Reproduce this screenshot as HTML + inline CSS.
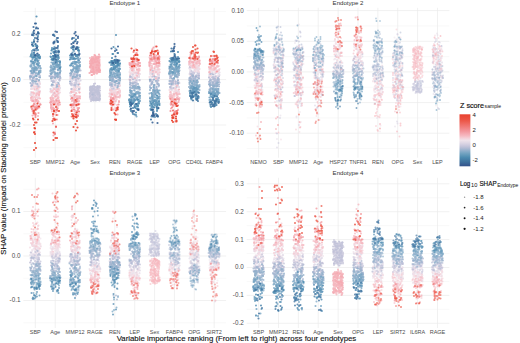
<!DOCTYPE html>
<html><head><meta charset="utf-8"><style>
html,body{margin:0;padding:0;background:#fff;width:520px;height:343px;overflow:hidden;}
svg{display:block;font-family:"Liberation Sans",sans-serif;}
</style></head><body>
<svg width="520" height="343" viewBox="0 0 520 343" font-family="Liberation Sans, sans-serif">
<defs><filter id="bl" x="-5%" y="-5%" width="110%" height="110%"><feGaussianBlur stdDeviation="0.3"/></filter></defs>
<rect width="520" height="343" fill="#fff"/>
<line x1="23.4" x2="226.1" y1="147.70" y2="147.70" stroke="#f3f3f3" stroke-width="0.5"/><line x1="23.4" x2="226.1" y1="102.30" y2="102.30" stroke="#f3f3f3" stroke-width="0.5"/><line x1="23.4" x2="226.1" y1="56.90" y2="56.90" stroke="#f3f3f3" stroke-width="0.5"/><line x1="23.4" x2="226.1" y1="11.50" y2="11.50" stroke="#f3f3f3" stroke-width="0.5"/><line x1="23.4" x2="226.1" y1="125.00" y2="125.00" stroke="#ebebeb" stroke-width="0.7"/><line x1="23.4" x2="226.1" y1="79.60" y2="79.60" stroke="#ebebeb" stroke-width="0.7"/><line x1="23.4" x2="226.1" y1="34.20" y2="34.20" stroke="#ebebeb" stroke-width="0.7"/><line x1="35.32" x2="35.32" y1="7.8" y2="157.7" stroke="#ebebeb" stroke-width="0.7"/><line x1="55.20" x2="55.20" y1="7.8" y2="157.7" stroke="#ebebeb" stroke-width="0.7"/><line x1="75.07" x2="75.07" y1="7.8" y2="157.7" stroke="#ebebeb" stroke-width="0.7"/><line x1="94.94" x2="94.94" y1="7.8" y2="157.7" stroke="#ebebeb" stroke-width="0.7"/><line x1="114.81" x2="114.81" y1="7.8" y2="157.7" stroke="#ebebeb" stroke-width="0.7"/><line x1="134.69" x2="134.69" y1="7.8" y2="157.7" stroke="#ebebeb" stroke-width="0.7"/><line x1="154.56" x2="154.56" y1="7.8" y2="157.7" stroke="#ebebeb" stroke-width="0.7"/><line x1="174.43" x2="174.43" y1="7.8" y2="157.7" stroke="#ebebeb" stroke-width="0.7"/><line x1="194.30" x2="194.30" y1="7.8" y2="157.7" stroke="#ebebeb" stroke-width="0.7"/><line x1="214.18" x2="214.18" y1="7.8" y2="157.7" stroke="#ebebeb" stroke-width="0.7"/><line x1="246.7" x2="449.4" y1="148.53" y2="148.53" stroke="#f3f3f3" stroke-width="0.5"/><line x1="246.7" x2="449.4" y1="117.88" y2="117.88" stroke="#f3f3f3" stroke-width="0.5"/><line x1="246.7" x2="449.4" y1="87.23" y2="87.23" stroke="#f3f3f3" stroke-width="0.5"/><line x1="246.7" x2="449.4" y1="56.58" y2="56.58" stroke="#f3f3f3" stroke-width="0.5"/><line x1="246.7" x2="449.4" y1="25.93" y2="25.93" stroke="#f3f3f3" stroke-width="0.5"/><line x1="246.7" x2="449.4" y1="133.20" y2="133.20" stroke="#ebebeb" stroke-width="0.7"/><line x1="246.7" x2="449.4" y1="102.55" y2="102.55" stroke="#ebebeb" stroke-width="0.7"/><line x1="246.7" x2="449.4" y1="71.90" y2="71.90" stroke="#ebebeb" stroke-width="0.7"/><line x1="246.7" x2="449.4" y1="41.25" y2="41.25" stroke="#ebebeb" stroke-width="0.7"/><line x1="246.7" x2="449.4" y1="10.60" y2="10.60" stroke="#ebebeb" stroke-width="0.7"/><line x1="258.62" x2="258.62" y1="7.8" y2="157.7" stroke="#ebebeb" stroke-width="0.7"/><line x1="278.50" x2="278.50" y1="7.8" y2="157.7" stroke="#ebebeb" stroke-width="0.7"/><line x1="298.37" x2="298.37" y1="7.8" y2="157.7" stroke="#ebebeb" stroke-width="0.7"/><line x1="318.24" x2="318.24" y1="7.8" y2="157.7" stroke="#ebebeb" stroke-width="0.7"/><line x1="338.11" x2="338.11" y1="7.8" y2="157.7" stroke="#ebebeb" stroke-width="0.7"/><line x1="357.99" x2="357.99" y1="7.8" y2="157.7" stroke="#ebebeb" stroke-width="0.7"/><line x1="377.86" x2="377.86" y1="7.8" y2="157.7" stroke="#ebebeb" stroke-width="0.7"/><line x1="397.73" x2="397.73" y1="7.8" y2="157.7" stroke="#ebebeb" stroke-width="0.7"/><line x1="417.60" x2="417.60" y1="7.8" y2="157.7" stroke="#ebebeb" stroke-width="0.7"/><line x1="437.48" x2="437.48" y1="7.8" y2="157.7" stroke="#ebebeb" stroke-width="0.7"/><line x1="23.4" x2="226.1" y1="322.75" y2="322.75" stroke="#f3f3f3" stroke-width="0.5"/><line x1="23.4" x2="226.1" y1="278.25" y2="278.25" stroke="#f3f3f3" stroke-width="0.5"/><line x1="23.4" x2="226.1" y1="233.75" y2="233.75" stroke="#f3f3f3" stroke-width="0.5"/><line x1="23.4" x2="226.1" y1="189.25" y2="189.25" stroke="#f3f3f3" stroke-width="0.5"/><line x1="23.4" x2="226.1" y1="300.50" y2="300.50" stroke="#ebebeb" stroke-width="0.7"/><line x1="23.4" x2="226.1" y1="256.00" y2="256.00" stroke="#ebebeb" stroke-width="0.7"/><line x1="23.4" x2="226.1" y1="211.50" y2="211.50" stroke="#ebebeb" stroke-width="0.7"/><line x1="35.32" x2="35.32" y1="177.8" y2="328.0" stroke="#ebebeb" stroke-width="0.7"/><line x1="55.20" x2="55.20" y1="177.8" y2="328.0" stroke="#ebebeb" stroke-width="0.7"/><line x1="75.07" x2="75.07" y1="177.8" y2="328.0" stroke="#ebebeb" stroke-width="0.7"/><line x1="94.94" x2="94.94" y1="177.8" y2="328.0" stroke="#ebebeb" stroke-width="0.7"/><line x1="114.81" x2="114.81" y1="177.8" y2="328.0" stroke="#ebebeb" stroke-width="0.7"/><line x1="134.69" x2="134.69" y1="177.8" y2="328.0" stroke="#ebebeb" stroke-width="0.7"/><line x1="154.56" x2="154.56" y1="177.8" y2="328.0" stroke="#ebebeb" stroke-width="0.7"/><line x1="174.43" x2="174.43" y1="177.8" y2="328.0" stroke="#ebebeb" stroke-width="0.7"/><line x1="194.30" x2="194.30" y1="177.8" y2="328.0" stroke="#ebebeb" stroke-width="0.7"/><line x1="214.18" x2="214.18" y1="177.8" y2="328.0" stroke="#ebebeb" stroke-width="0.7"/><line x1="246.7" x2="449.4" y1="309.35" y2="309.35" stroke="#f3f3f3" stroke-width="0.5"/><line x1="246.7" x2="449.4" y1="281.45" y2="281.45" stroke="#f3f3f3" stroke-width="0.5"/><line x1="246.7" x2="449.4" y1="253.55" y2="253.55" stroke="#f3f3f3" stroke-width="0.5"/><line x1="246.7" x2="449.4" y1="225.65" y2="225.65" stroke="#f3f3f3" stroke-width="0.5"/><line x1="246.7" x2="449.4" y1="197.75" y2="197.75" stroke="#f3f3f3" stroke-width="0.5"/><line x1="246.7" x2="449.4" y1="323.30" y2="323.30" stroke="#ebebeb" stroke-width="0.7"/><line x1="246.7" x2="449.4" y1="295.40" y2="295.40" stroke="#ebebeb" stroke-width="0.7"/><line x1="246.7" x2="449.4" y1="267.50" y2="267.50" stroke="#ebebeb" stroke-width="0.7"/><line x1="246.7" x2="449.4" y1="239.60" y2="239.60" stroke="#ebebeb" stroke-width="0.7"/><line x1="246.7" x2="449.4" y1="211.70" y2="211.70" stroke="#ebebeb" stroke-width="0.7"/><line x1="246.7" x2="449.4" y1="183.80" y2="183.80" stroke="#ebebeb" stroke-width="0.7"/><line x1="258.62" x2="258.62" y1="177.8" y2="328.0" stroke="#ebebeb" stroke-width="0.7"/><line x1="278.50" x2="278.50" y1="177.8" y2="328.0" stroke="#ebebeb" stroke-width="0.7"/><line x1="298.37" x2="298.37" y1="177.8" y2="328.0" stroke="#ebebeb" stroke-width="0.7"/><line x1="318.24" x2="318.24" y1="177.8" y2="328.0" stroke="#ebebeb" stroke-width="0.7"/><line x1="338.11" x2="338.11" y1="177.8" y2="328.0" stroke="#ebebeb" stroke-width="0.7"/><line x1="357.99" x2="357.99" y1="177.8" y2="328.0" stroke="#ebebeb" stroke-width="0.7"/><line x1="377.86" x2="377.86" y1="177.8" y2="328.0" stroke="#ebebeb" stroke-width="0.7"/><line x1="397.73" x2="397.73" y1="177.8" y2="328.0" stroke="#ebebeb" stroke-width="0.7"/><line x1="417.60" x2="417.60" y1="177.8" y2="328.0" stroke="#ebebeb" stroke-width="0.7"/><line x1="437.48" x2="437.48" y1="177.8" y2="328.0" stroke="#ebebeb" stroke-width="0.7"/>
<g filter="url(#bl)"><g fill="none" stroke-linecap="round" transform="scale(0.5)">
<path d="M801 117h0M796 159h0M867 188h0M875 125h0M761 152h0M749 157h0M800 201h0M762 166h0M760 190h0M873 148h0M791 95h0M884 143h0M793 82h0M799 78h0M804 103h0M876 111h0M870 168h0M805 108h0" stroke="#ded7e5" stroke-width="3.8" stroke-opacity="0.55"/>
<path d="M590 106h0M606 157h0M597 120h0M642 148h0M553 101h0M587 108h0M592 184h0M593 138h0M556 235h0M627 168h0M561 212h0M632 197h0" stroke="#ded7e5" stroke-width="3.8" stroke-opacity="0.6"/>
<path d="M191 533h0M272 527h0M63 512h0M192 543h0M115 505h0M277 540h0M113 500h0M190 558h0M117 514h0M224 490h0M262 524h0M269 525h0M232 491h0M225 513h0M119 504h0M224 537h0M230 518h0M110 532h0M143 511h0M148 516h0M140 510h0M75 514h0M274 550h0M185 522h0M156 515h0M193 526h0M192 538h0M185 529h0M111 512h0M116 514h0M230 524h0M143 502h0M267 536h0M183 526h0M232 498h0" stroke="#ded7e5" stroke-width="4.1" stroke-opacity="0.7"/>
<path d="M804 538h0M885 535h0M872 549h0M877 540h0M837 545h0M883 532h0M766 528h0M826 548h0M836 539h0M876 542h0M746 537h0M841 534h0M788 564h0M845 523h0M878 545h0M883 533h0M837 530h0M831 542h0" stroke="#ded7e5" stroke-width="4.2" stroke-opacity="0.65"/>
<path d="M392 506h0M391 511h0M398 516h0" stroke="#ded7e5" stroke-width="4.1" stroke-opacity="0.5"/>
<path d="M279 161h0M104 169h0M382 151h0M383 144h0M278 149h0M150 170h0M419 164h0M147 147h0M419 149h0M226 169h0M396 145h0M120 176h0M349 166h0M111 160h0M275 154h0M380 144h0M152 160h0M313 156h0M273 165h0M342 177h0M358 174h0M275 146h0M345 161h0M396 140h0M356 171h0M350 177h0M395 144h0M110 187h0M144 169h0M235 160h0M142 163h0M312 141h0M152 181h0" stroke="#ded7e5" stroke-width="4.4" stroke-opacity="0.9"/>
<path d="M723 144h0M673 142h0M720 117h0M678 134h0M680 112h0M711 130h0M722 138h0M681 131h0" stroke="#ded7e5" stroke-width="3.8" stroke-opacity="0.65"/>
<path d="M630 519h0M632 516h0M642 517h0M637 514h0M639 522h0M552 517h0M552 489h0M517 541h0M559 533h0M514 517h0M719 513h0M637 500h0M716 515h0M597 523h0M589 522h0M508 533h0M596 508h0M508 498h0M645 550h0M629 525h0M628 530h0M721 539h0M515 522h0M718 535h0M723 527h0M595 531h0M564 523h0M598 516h0M724 526h0M589 531h0M519 528h0M550 544h0M511 527h0M552 521h0M642 531h0M596 531h0M567 521h0M593 519h0" stroke="#ded7e5" stroke-width="4.2" stroke-opacity="0.78"/>
<path d="M518 146h0M516 156h0M516 149h0M511 191h0" stroke="#ded7e5" stroke-width="3.8" stroke-opacity="0.7"/>
<path d="M426 512h0M433 515h0M357 513h0M359 517h0" stroke="#ded7e5" stroke-width="4.1" stroke-opacity="0.55"/>
<path d="M595 169h0M550 115h0M646 143h0M548 103h0M566 95h0M645 142h0M626 117h0M647 144h0M562 137h0M558 128h0M591 174h0M627 185h0M557 171h0M593 118h0M588 163h0M595 173h0" stroke="#ded7e5" stroke-width="3.8" stroke-opacity="0.6"/>
<path d="M379 137h0M421 159h0M154 158h0M156 173h0M266 138h0M433 159h0M231 165h0M439 150h0M380 146h0M143 163h0M67 148h0M432 146h0M432 158h0M341 178h0M428 153h0M343 192h0M71 145h0M108 156h0M144 163h0M73 180h0M314 154h0M312 154h0M265 148h0M76 174h0M151 164h0M305 153h0M348 168h0M230 179h0M227 180h0M304 165h0M428 153h0M389 145h0M420 143h0M274 174h0M343 180h0M279 148h0" stroke="#ded7e5" stroke-width="4.4" stroke-opacity="0.9"/>
<path d="M755 562h0M792 538h0M835 543h0M762 551h0M789 534h0M790 542h0M827 547h0M787 530h0M882 540h0M870 532h0M762 556h0M873 522h0M806 548h0M805 535h0M749 533h0M802 538h0M747 539h0M833 537h0M759 541h0M765 550h0" stroke="#ded7e5" stroke-width="4.2" stroke-opacity="0.65"/>
<path d="M427 538h0M343 537h0M341 521h0M345 538h0M350 551h0M421 535h0M418 513h0M434 522h0M356 524h0M425 501h0M430 603h0M428 538h0" stroke="#ded7e5" stroke-width="4.1" stroke-opacity="0.55"/>
<path d="M64 490h0M65 513h0M119 512h0M154 521h0M150 513h0M188 536h0M190 545h0M158 487h0M277 552h0M149 529h0M231 517h0M231 501h0M76 503h0M71 497h0M142 529h0M155 518h0M237 516h0M105 497h0M120 518h0M67 492h0M237 505h0M104 526h0M188 532h0M184 531h0M271 522h0" stroke="#ded7e5" stroke-width="4.1" stroke-opacity="0.7"/>
<path d="M519 531h0M595 509h0M715 535h0M549 517h0M516 507h0M555 509h0M717 510h0M551 532h0M644 525h0M721 516h0M512 511h0M600 532h0M639 513h0M507 519h0M632 518h0M627 534h0M605 514h0M510 528h0M642 511h0M630 529h0M714 526h0" stroke="#ded7e5" stroke-width="4.2" stroke-opacity="0.78"/>
<path d="M681 136h0M716 126h0M674 148h0M680 125h0M717 154h0M717 93h0M671 139h0M670 118h0M673 109h0M725 152h0" stroke="#ded7e5" stroke-width="3.8" stroke-opacity="0.65"/>
<path d="M515 167h0M515 142h0M513 147h0M517 160h0" stroke="#ded7e5" stroke-width="3.8" stroke-opacity="0.7"/>
<path d="M873 103h0M761 136h0M873 125h0M750 132h0M803 95h0M866 113h0M762 177h0M793 188h0M805 115h0M792 120h0M794 113h0M866 92h0M762 187h0M869 145h0" stroke="#ded7e5" stroke-width="3.8" stroke-opacity="0.55"/>
<path d="M392 535h0M387 531h0M395 528h0M383 539h0M396 514h0M394 538h0M396 508h0M381 486h0" stroke="#ded7e5" stroke-width="4.1" stroke-opacity="0.5"/>
<path d="M793 552h0M796 538h0M879 549h0M762 539h0M845 525h0M799 533h0M803 546h0M746 538h0M762 532h0M832 522h0M839 554h0M874 553h0M880 526h0M845 543h0M759 554h0M798 525h0M838 526h0M796 543h0M746 552h0M754 535h0M800 538h0M747 545h0M796 548h0M827 531h0M871 543h0M806 541h0" stroke="#ded7e5" stroke-width="4.2" stroke-opacity="0.65"/>
<path d="M630 116h0M597 104h0M630 144h0M555 195h0M559 108h0M549 100h0M548 106h0M555 124h0M555 107h0M551 162h0M593 233h0M636 148h0M548 132h0M563 127h0M605 93h0M638 199h0M633 139h0" stroke="#ded7e5" stroke-width="3.8" stroke-opacity="0.6"/>
<path d="M148 160h0M343 171h0M347 160h0M428 157h0M233 167h0M237 179h0M387 153h0M268 164h0M62 190h0M433 156h0M239 172h0M264 171h0M143 156h0M351 162h0M69 153h0M423 153h0M142 151h0M74 172h0M425 167h0M112 175h0M79 173h0M389 141h0M278 154h0M420 151h0M398 139h0M225 181h0M146 194h0M419 152h0M80 168h0M62 186h0M381 140h0M156 162h0M435 141h0" stroke="#ded7e5" stroke-width="4.4" stroke-opacity="0.9"/>
<path d="M884 163h0M800 161h0M791 128h0M801 95h0M800 98h0M880 85h0M872 132h0M761 190h0M750 179h0M868 133h0M796 181h0M765 184h0M871 129h0M874 156h0M798 87h0M879 140h0M805 162h0M763 140h0M790 195h0" stroke="#ded7e5" stroke-width="3.8" stroke-opacity="0.55"/>
<path d="M118 518h0M181 548h0M266 546h0M262 532h0M70 510h0M119 524h0M155 507h0M192 522h0M68 519h0M276 531h0M157 527h0M120 508h0M271 528h0M280 541h0M115 522h0M183 541h0M119 525h0M263 533h0M220 507h0M116 508h0M107 508h0" stroke="#ded7e5" stroke-width="4.1" stroke-opacity="0.7"/>
<path d="M725 113h0M715 123h0M721 130h0M677 129h0M680 147h0M716 106h0M675 128h0M680 110h0" stroke="#ded7e5" stroke-width="3.8" stroke-opacity="0.65"/>
<path d="M524 134h0M509 161h0M513 172h0" stroke="#ded7e5" stroke-width="3.8" stroke-opacity="0.7"/>
<path d="M566 510h0M519 504h0M606 509h0M637 535h0M722 508h0M549 534h0M724 534h0M597 511h0M591 529h0M714 525h0M644 516h0M558 513h0M514 525h0M719 531h0M520 517h0M521 500h0M599 496h0M589 541h0M709 519h0M564 521h0M509 514h0" stroke="#ded7e5" stroke-width="4.2" stroke-opacity="0.78"/>
<path d="M393 512h0M383 534h0M383 517h0M393 521h0M383 493h0M392 510h0M383 525h0" stroke="#ded7e5" stroke-width="4.1" stroke-opacity="0.5"/>
<path d="M425 510h0M340 514h0M341 543h0M355 541h0M431 499h0M422 533h0M350 551h0M351 542h0" stroke="#ded7e5" stroke-width="4.1" stroke-opacity="0.55"/>
<path d="M198 522h0M157 503h0M193 521h0M158 505h0M262 538h0M227 477h0M183 541h0M76 511h0M106 497h0M191 532h0M147 468h0M78 506h0M193 519h0M265 540h0M111 491h0M154 521h0M200 539h0M103 498h0M153 513h0M148 494h0M266 556h0M233 511h0M73 507h0M102 507h0M154 511h0M110 529h0M72 501h0M232 485h0M119 515h0M277 527h0M222 503h0M262 560h0M150 501h0M185 539h0M221 505h0M153 491h0M107 497h0M68 497h0M145 412h0M277 534h0M158 510h0" stroke="#e6dde8" stroke-width="4.1" stroke-opacity="0.7"/>
<path d="M566 526h0M633 534h0M519 530h0M605 507h0M596 519h0M644 507h0M641 513h0M634 519h0M710 508h0M595 534h0M634 514h0M708 507h0M630 512h0M708 517h0M627 513h0M523 530h0M525 507h0M547 523h0M643 508h0M630 523h0M720 492h0M628 540h0M635 506h0M513 546h0M606 519h0M525 502h0M559 507h0M597 528h0M514 523h0M519 501h0M592 501h0M592 481h0M717 508h0M525 503h0M725 491h0M549 524h0" stroke="#e6dde8" stroke-width="4.2" stroke-opacity="0.78"/>
<path d="M339 528h0M431 503h0M352 544h0M358 534h0M423 541h0M339 540h0M340 507h0M339 535h0M428 514h0M353 538h0M424 509h0" stroke="#e6dde8" stroke-width="4.1" stroke-opacity="0.55"/>
<path d="M382 514h0M381 525h0M392 535h0M395 526h0M380 514h0M393 526h0M394 501h0M397 525h0M395 545h0" stroke="#e6dde8" stroke-width="4.1" stroke-opacity="0.5"/>
<path d="M117 182h0M314 144h0M141 159h0M317 148h0M439 145h0M268 171h0M434 154h0M259 159h0M358 185h0M396 136h0M230 174h0M433 154h0M230 187h0M222 174h0M268 155h0M396 145h0M359 166h0M277 153h0M274 158h0M342 173h0M312 170h0M225 172h0M380 147h0M76 180h0M379 148h0M431 145h0M317 153h0M419 166h0M226 186h0M227 175h0M65 160h0M382 153h0M110 171h0M265 152h0M340 191h0M115 158h0M421 147h0M351 177h0" stroke="#e6dde8" stroke-width="4.4" stroke-opacity="0.9"/>
<path d="M875 179h0M866 174h0M758 184h0M866 109h0M761 150h0M746 162h0M880 141h0M757 144h0M758 118h0M758 204h0M803 93h0M756 168h0M874 67h0M748 117h0M754 236h0M793 187h0M875 70h0M756 163h0M876 124h0M752 153h0" stroke="#e6dde8" stroke-width="3.8" stroke-opacity="0.55"/>
<path d="M550 193h0M642 159h0M591 187h0M643 118h0M590 86h0M601 137h0M561 231h0M567 111h0M592 188h0M599 204h0M557 179h0M552 139h0M599 140h0" stroke="#e6dde8" stroke-width="3.8" stroke-opacity="0.6"/>
<path d="M756 543h0M760 544h0M754 532h0M785 533h0M838 543h0M834 550h0M749 549h0M839 543h0M785 522h0M764 537h0M798 541h0M762 541h0M883 552h0M752 542h0M802 558h0M829 539h0M878 545h0" stroke="#e6dde8" stroke-width="4.2" stroke-opacity="0.65"/>
<path d="M525 180h0M509 150h0M517 172h0M520 132h0M511 154h0M510 138h0M518 139h0M516 152h0M523 145h0" stroke="#e6dde8" stroke-width="3.8" stroke-opacity="0.7"/>
<path d="M681 124h0M673 153h0M674 151h0M678 98h0M681 129h0M720 112h0M682 122h0M712 131h0M719 103h0M709 112h0M722 124h0M669 127h0" stroke="#e6dde8" stroke-width="3.8" stroke-opacity="0.65"/>
<path d="M67 511h0M65 501h0M70 523h0M68 492h0M102 491h0M259 526h0M237 503h0M105 506h0M107 512h0M181 547h0M269 534h0M112 502h0M179 538h0M71 522h0M201 538h0M63 487h0M61 505h0M74 505h0M110 513h0M220 495h0M71 505h0M112 514h0M262 549h0M63 508h0M219 522h0M144 431h0M277 537h0M148 491h0M225 517h0M266 534h0M101 504h0M104 511h0M80 505h0M159 528h0M228 508h0M114 504h0M222 508h0M180 524h0M266 522h0M105 494h0M65 508h0" stroke="#e6dde8" stroke-width="4.1" stroke-opacity="0.7"/>
<path d="M429 148h0M62 178h0M395 139h0M63 174h0M345 177h0M344 164h0M420 145h0M141 157h0M304 144h0M382 133h0M74 177h0M393 144h0M265 157h0M266 153h0M149 157h0M148 185h0M78 183h0M345 197h0M68 176h0M311 158h0M315 157h0M266 143h0M271 162h0M265 141h0M73 188h0M73 163h0M158 164h0M346 171h0M153 166h0M273 160h0M105 173h0M428 155h0M269 159h0M112 161h0M155 173h0M430 154h0M157 181h0M433 142h0M107 176h0" stroke="#e6dde8" stroke-width="4.4" stroke-opacity="0.9"/>
<path d="M557 528h0M526 494h0M596 511h0M640 507h0M558 515h0M556 528h0M720 526h0M717 530h0M562 515h0M592 497h0M721 507h0M521 503h0M592 536h0M560 525h0M722 515h0M715 503h0M599 514h0M552 499h0M567 517h0M629 517h0M627 520h0M512 524h0M559 535h0M589 524h0M590 525h0M590 507h0M722 517h0M708 507h0M723 509h0M712 501h0M594 524h0M549 510h0M639 522h0M563 514h0" stroke="#e6dde8" stroke-width="4.2" stroke-opacity="0.78"/>
<path d="M601 114h0M641 176h0M599 150h0M647 126h0M559 103h0M644 144h0M632 178h0M558 106h0M560 144h0M554 158h0M559 146h0M605 128h0M604 157h0M637 182h0M647 149h0" stroke="#e6dde8" stroke-width="3.8" stroke-opacity="0.6"/>
<path d="M877 528h0M841 554h0M825 530h0M866 547h0M885 535h0M878 518h0M843 534h0M840 532h0M883 535h0M792 546h0M786 545h0M828 537h0M791 550h0M797 544h0M827 538h0M881 533h0M875 551h0M844 537h0M875 535h0M837 548h0M805 535h0M803 553h0M750 542h0M789 535h0M829 547h0M750 552h0M798 540h0M843 548h0" stroke="#e6dde8" stroke-width="4.2" stroke-opacity="0.65"/>
<path d="M802 145h0M790 253h0M876 152h0M875 135h0M797 96h0M763 123h0M751 184h0M870 142h0M792 119h0M883 131h0M762 193h0M797 162h0M864 144h0M883 99h0M869 161h0M786 175h0" stroke="#e6dde8" stroke-width="3.8" stroke-opacity="0.55"/>
<path d="M725 142h0M672 145h0M683 159h0M710 141h0M675 138h0M725 124h0M713 115h0M716 124h0M683 140h0M685 126h0M683 140h0M724 125h0M673 152h0M709 95h0M717 125h0" stroke="#e6dde8" stroke-width="3.8" stroke-opacity="0.65"/>
<path d="M347 523h0M438 535h0M420 525h0M358 517h0M428 538h0M425 540h0M424 520h0M350 548h0M343 520h0M354 528h0" stroke="#e6dde8" stroke-width="4.1" stroke-opacity="0.55"/>
<path d="M392 502h0M387 519h0M384 496h0M384 508h0" stroke="#e6dde8" stroke-width="4.1" stroke-opacity="0.5"/>
<path d="M511 162h0M512 152h0M526 159h0M512 167h0M513 137h0M521 152h0M517 152h0" stroke="#e6dde8" stroke-width="3.8" stroke-opacity="0.7"/>
<path d="M789 537h0M845 563h0M791 534h0M879 532h0M804 548h0M843 560h0M759 549h0M828 539h0M880 539h0M761 552h0M844 547h0M882 539h0M829 563h0M799 548h0M788 550h0M753 553h0M829 542h0M790 543h0M877 539h0M804 548h0" stroke="#e6dde8" stroke-width="4.2" stroke-opacity="0.65"/>
<path d="M522 510h0M558 505h0M526 496h0M511 521h0M717 517h0M600 512h0M564 531h0M591 495h0M633 524h0M548 519h0M565 511h0M590 489h0M589 512h0M526 499h0M639 505h0M548 532h0M509 515h0M555 503h0M707 498h0M587 522h0M592 515h0M719 516h0M508 522h0M558 498h0M642 510h0M633 510h0M564 526h0M604 520h0M642 505h0M601 520h0M555 519h0M591 523h0M558 511h0M596 491h0" stroke="#e6dde8" stroke-width="4.2" stroke-opacity="0.78"/>
<path d="M566 110h0M553 103h0M639 144h0M557 178h0M646 128h0M600 207h0M601 160h0M598 49h0M628 123h0M554 278h0M568 102h0M556 124h0M632 184h0M549 93h0M549 137h0M556 141h0M559 88h0" stroke="#e6dde8" stroke-width="3.8" stroke-opacity="0.6"/>
<path d="M352 182h0M437 147h0M390 139h0M315 153h0M430 154h0M115 180h0M396 133h0M75 183h0M146 160h0M74 162h0M348 166h0M237 172h0M300 162h0M392 143h0M381 137h0M299 159h0M356 182h0M272 150h0M350 169h0M146 167h0M157 170h0M225 172h0M435 152h0M156 181h0M108 162h0M432 152h0M435 157h0M392 141h0M110 206h0M342 177h0M315 138h0M300 148h0M303 170h0M63 184h0M270 146h0M103 179h0M160 156h0M316 159h0M143 171h0M142 186h0M425 144h0M221 185h0M142 155h0M387 127h0M350 164h0M66 169h0M145 161h0M384 149h0M317 153h0M140 186h0" stroke="#e6dde8" stroke-width="4.4" stroke-opacity="0.9"/>
<path d="M382 502h0M394 512h0M394 518h0M384 539h0M385 513h0M381 527h0M379 537h0M383 527h0M385 549h0M390 519h0M397 514h0" stroke="#e6dde8" stroke-width="4.1" stroke-opacity="0.5"/>
<path d="M762 194h0M865 157h0M796 194h0M764 146h0M754 113h0M878 168h0M801 174h0M788 134h0M869 112h0M763 170h0M758 207h0M872 145h0M799 194h0M751 171h0M756 140h0M882 118h0M882 151h0" stroke="#e6dde8" stroke-width="3.8" stroke-opacity="0.55"/>
<path d="M265 548h0M60 510h0M108 525h0M76 496h0M159 520h0M69 496h0M222 519h0M275 550h0M189 525h0M223 536h0M77 503h0M157 505h0M119 506h0M232 501h0M221 532h0M268 537h0M107 511h0M116 502h0M64 517h0M221 523h0M278 540h0M72 506h0M259 541h0M223 499h0M182 531h0M263 542h0M234 491h0M72 493h0M70 503h0M68 491h0M279 546h0M72 499h0M263 546h0M70 510h0" stroke="#e6dde8" stroke-width="4.1" stroke-opacity="0.7"/>
<path d="M353 533h0M435 532h0M343 548h0M433 521h0M421 524h0M346 535h0M430 508h0M423 534h0M348 522h0M356 527h0M435 511h0M431 532h0" stroke="#e6dde8" stroke-width="4.1" stroke-opacity="0.55"/>
<path d="M672 151h0M674 119h0M679 131h0M685 142h0M726 129h0M714 99h0M717 101h0M681 140h0M670 151h0" stroke="#e6dde8" stroke-width="3.8" stroke-opacity="0.65"/>
<path d="M516 140h0M514 158h0M514 157h0M520 163h0" stroke="#e6dde8" stroke-width="3.8" stroke-opacity="0.7"/>
<path d="M794 153h0M786 165h0M879 129h0M795 200h0M865 148h0M832 184h0M802 138h0M801 154h0M795 69h0M799 149h0M883 92h0M788 106h0M873 119h0M868 159h0M764 176h0M794 198h0M790 133h0M750 163h0M788 119h0M763 173h0M764 140h0" stroke="#d5d0e2" stroke-width="3.8" stroke-opacity="0.55"/>
<path d="M799 534h0M763 535h0M869 543h0M825 539h0M787 530h0M866 551h0M875 526h0M843 548h0" stroke="#d5d0e2" stroke-width="4.2" stroke-opacity="0.65"/>
<path d="M65 155h0M230 173h0M157 151h0M424 155h0M357 183h0M152 172h0M110 152h0M156 196h0M386 144h0M420 157h0M239 170h0M397 145h0M342 190h0M78 162h0M223 173h0M221 177h0M141 153h0M397 153h0M393 149h0M220 169h0M429 154h0M383 152h0" stroke="#d5d0e2" stroke-width="4.4" stroke-opacity="0.9"/>
<path d="M193 190h0M184 193h0M187 190h0M189 187h0M197 174h0M186 189h0M181 181h0M191 194h0M185 188h0M186 198h0M187 200h0M192 195h0M180 187h0M188 185h0M187 191h0M199 176h0M197 177h0M184 189h0M190 197h0M197 185h0M194 189h0M184 188h0M196 184h0M199 185h0" stroke="#d5d0e2" stroke-width="4.4"/>
<path d="M554 295h0M600 141h0M631 109h0M550 155h0M631 156h0M635 112h0M628 117h0M554 202h0M554 61h0M555 115h0M549 125h0M598 135h0M592 179h0M592 132h0M586 125h0M641 122h0M593 190h0M549 158h0M635 103h0M598 123h0M553 169h0M586 100h0M602 212h0M553 139h0M559 164h0M589 192h0M601 202h0M630 211h0M595 212h0" stroke="#d5d0e2" stroke-width="3.8" stroke-opacity="0.6"/>
<path d="M61 516h0M187 530h0M115 507h0M141 509h0M150 516h0M107 521h0M181 503h0M104 512h0M233 532h0M143 515h0M112 507h0M109 529h0M79 509h0M73 500h0M73 515h0M146 504h0M77 508h0M64 513h0M224 513h0M152 519h0M268 539h0" stroke="#d5d0e2" stroke-width="4.1" stroke-opacity="0.7"/>
<path d="M718 126h0M707 139h0M722 138h0M671 159h0M671 148h0" stroke="#d5d0e2" stroke-width="3.8" stroke-opacity="0.65"/>
<path d="M382 541h0M386 487h0M385 533h0M379 517h0M387 507h0M394 520h0" stroke="#d5d0e2" stroke-width="4.1" stroke-opacity="0.5"/>
<path d="M558 518h0M510 535h0M669 498h0M723 530h0M562 526h0M715 534h0M677 495h0M606 514h0M566 520h0M562 529h0M682 514h0M525 526h0M559 529h0M679 512h0M515 524h0M684 497h0M638 528h0M511 542h0M526 519h0M628 534h0M591 524h0M686 509h0M559 523h0M683 522h0" stroke="#d5d0e2" stroke-width="4.2" stroke-opacity="0.78"/>
<path d="M302 503h0M357 504h0M309 475h0M426 533h0M420 512h0M313 494h0M349 538h0M438 503h0M342 523h0M359 531h0M428 512h0M355 519h0M308 476h0M316 505h0" stroke="#d5d0e2" stroke-width="4.1" stroke-opacity="0.55"/>
<path d="M512 161h0M516 121h0M522 146h0M513 157h0M522 140h0" stroke="#d5d0e2" stroke-width="3.8" stroke-opacity="0.7"/>
<path d="M351 530h0M309 497h0M315 486h0M318 508h0M304 484h0M429 517h0M316 472h0M433 524h0M356 510h0M423 538h0M347 535h0M339 505h0M315 499h0" stroke="#d5d0e2" stroke-width="4.1" stroke-opacity="0.55"/>
<path d="M754 120h0M765 141h0M791 174h0M838 180h0M752 140h0M760 167h0M790 135h0M796 159h0M869 174h0M752 122h0M756 180h0M800 105h0M794 243h0M867 101h0M758 170h0M798 126h0M876 216h0M754 161h0M795 247h0M794 160h0M796 83h0M796 134h0M795 68h0" stroke="#d5d0e2" stroke-width="3.8" stroke-opacity="0.55"/>
<path d="M159 506h0M229 528h0M238 509h0M108 530h0M146 522h0M153 497h0M273 531h0M151 495h0M279 535h0M150 506h0M63 516h0M184 521h0M198 527h0M112 510h0M273 512h0M234 503h0M182 506h0M188 525h0M274 530h0M67 509h0" stroke="#d5d0e2" stroke-width="4.1" stroke-opacity="0.7"/>
<path d="M826 540h0M788 541h0M837 545h0M830 537h0M875 529h0M835 534h0M872 555h0M755 525h0M844 524h0M765 531h0M752 543h0M758 519h0M794 528h0M751 562h0M793 543h0M828 536h0" stroke="#d5d0e2" stroke-width="4.2" stroke-opacity="0.65"/>
<path d="M300 161h0M418 164h0M220 151h0M388 146h0M69 150h0M112 167h0M106 153h0M108 186h0M77 171h0M341 155h0M273 163h0M101 178h0M268 173h0M275 174h0M275 147h0M266 149h0M394 153h0M158 157h0M79 148h0M263 147h0M314 166h0M427 158h0M151 177h0M110 178h0M149 172h0" stroke="#d5d0e2" stroke-width="4.4" stroke-opacity="0.9"/>
<path d="M559 96h0M602 159h0M596 159h0M588 171h0M551 192h0M596 133h0M555 172h0M594 105h0M594 127h0M604 129h0M592 151h0M593 122h0M555 176h0M561 217h0M629 145h0M554 158h0M602 197h0M561 174h0M645 140h0M604 116h0" stroke="#d5d0e2" stroke-width="3.8" stroke-opacity="0.6"/>
<path d="M715 146h0M686 140h0M682 155h0M673 136h0" stroke="#d5d0e2" stroke-width="3.8" stroke-opacity="0.65"/>
<path d="M513 139h0M523 137h0M519 154h0M512 134h0M524 171h0" stroke="#d5d0e2" stroke-width="3.8" stroke-opacity="0.7"/>
<path d="M708 522h0M723 528h0M630 503h0M672 503h0M555 519h0M668 488h0M561 529h0M707 514h0M667 508h0M512 513h0M558 510h0M564 516h0M676 520h0M673 487h0M525 522h0M525 524h0M674 499h0M600 526h0M636 541h0M632 536h0M551 505h0M633 515h0M634 533h0M674 503h0M597 511h0M518 534h0M557 512h0M588 497h0M514 527h0" stroke="#d5d0e2" stroke-width="4.2" stroke-opacity="0.78"/>
<path d="M386 506h0M391 517h0" stroke="#d5d0e2" stroke-width="4.1" stroke-opacity="0.5"/>
<path d="M642 532h0M627 522h0M676 490h0M594 524h0M670 523h0M712 527h0M714 526h0M602 539h0M513 533h0M605 512h0M709 515h0M641 520h0M668 509h0M593 530h0M714 529h0M645 526h0M565 533h0M667 506h0M677 491h0M528 538h0M515 533h0M604 522h0" stroke="#d5d0e2" stroke-width="4.2" stroke-opacity="0.78"/>
<path d="M794 178h0M830 164h0M866 113h0M841 157h0M799 106h0M835 179h0M792 151h0M827 176h0M803 139h0M787 112h0M764 176h0M796 102h0M788 123h0M787 189h0M751 120h0M794 157h0M872 129h0M799 193h0M882 115h0M793 181h0M760 149h0M748 200h0M756 111h0M866 126h0M868 112h0M756 131h0M884 125h0M880 132h0M798 95h0M798 115h0M795 115h0M794 225h0" stroke="#d5d0e2" stroke-width="3.8" stroke-opacity="0.55"/>
<path d="M799 534h0M871 534h0M762 539h0M843 531h0M831 535h0M806 557h0M836 527h0M803 525h0M764 546h0M825 535h0M880 535h0M762 520h0M873 542h0M830 544h0M836 519h0M842 530h0M843 532h0M844 530h0M866 541h0" stroke="#d5d0e2" stroke-width="4.2" stroke-opacity="0.65"/>
<path d="M266 173h0M351 163h0M74 179h0M266 156h0M344 167h0M301 145h0M76 171h0M265 167h0M387 150h0M161 161h0M103 156h0M398 148h0M273 146h0M220 181h0M316 149h0M352 168h0M382 133h0M75 174h0M279 160h0M430 147h0M420 174h0M354 164h0M393 133h0M318 150h0M150 169h0M79 164h0M150 174h0M233 172h0" stroke="#d5d0e2" stroke-width="4.4" stroke-opacity="0.9"/>
<path d="M73 514h0M226 527h0M184 526h0M153 540h0M69 510h0M277 518h0M200 536h0M77 523h0M77 519h0M238 514h0M115 522h0M78 497h0M78 515h0M72 517h0M271 533h0M78 526h0M148 492h0M267 540h0M197 514h0M259 530h0M186 526h0M197 516h0M154 500h0M61 525h0" stroke="#d5d0e2" stroke-width="4.1" stroke-opacity="0.7"/>
<path d="M565 135h0M600 167h0M634 216h0M559 92h0M601 171h0M603 128h0M603 122h0M599 203h0M598 250h0M605 121h0M641 105h0M550 110h0M605 106h0M552 130h0M556 155h0M600 117h0M559 96h0M562 139h0M630 94h0M632 187h0M645 128h0M599 100h0M593 125h0M638 168h0M599 155h0M632 122h0M547 130h0M601 159h0M557 122h0M594 171h0M596 211h0M557 124h0M646 147h0M629 101h0M556 116h0M634 179h0M640 139h0M590 99h0" stroke="#d5d0e2" stroke-width="3.8" stroke-opacity="0.6"/>
<path d="M347 506h0M438 515h0M317 511h0M419 507h0M435 507h0M424 518h0M428 536h0M317 493h0M304 477h0M421 508h0M421 509h0M420 541h0M424 521h0M422 527h0M346 522h0" stroke="#d5d0e2" stroke-width="4.1" stroke-opacity="0.55"/>
<path d="M523 129h0M509 125h0M523 176h0" stroke="#d5d0e2" stroke-width="3.8" stroke-opacity="0.7"/>
<path d="M714 147h0M667 149h0M709 142h0M714 132h0M675 143h0" stroke="#d5d0e2" stroke-width="3.8" stroke-opacity="0.65"/>
<path d="M385 530h0M386 500h0M397 535h0" stroke="#d5d0e2" stroke-width="4.1" stroke-opacity="0.5"/>
<path d="M269 153h0M220 187h0M102 207h0M223 186h0M142 178h0M276 145h0M300 135h0M260 155h0M394 141h0M145 179h0M259 144h0M101 183h0M381 134h0M142 166h0M70 176h0M395 153h0M150 178h0M315 139h0M228 176h0M390 123h0M110 165h0M384 135h0M146 178h0M159 176h0M111 184h0M435 143h0M302 144h0M437 141h0M422 129h0M349 180h0M424 142h0M393 132h0M388 130h0M422 148h0M260 151h0M435 151h0M422 141h0M354 179h0M428 146h0M76 165h0" stroke="#efe3eb" stroke-width="4.4" stroke-opacity="0.9"/>
<path d="M64 469h0M228 538h0M276 554h0M160 495h0M115 496h0M260 551h0M148 486h0M67 498h0M68 507h0M103 508h0M69 493h0M78 481h0M192 551h0M230 503h0M101 510h0M62 472h0M224 494h0M152 509h0M78 488h0M73 493h0M190 544h0M117 500h0M152 472h0M113 514h0M187 541h0M119 481h0M227 509h0M275 542h0M152 526h0M78 495h0M106 508h0M67 481h0M224 498h0M185 547h0M115 515h0M107 497h0M191 532h0M185 538h0M236 481h0M81 477h0M71 502h0M141 523h0M144 490h0M278 552h0M118 493h0M109 507h0M265 570h0M183 550h0M103 508h0M119 509h0M116 498h0M230 498h0M262 558h0M151 512h0M101 511h0M268 560h0M277 542h0M61 478h0M78 489h0M72 511h0M199 533h0M114 478h0M73 492h0M194 537h0M66 478h0M230 507h0M193 536h0M189 541h0M115 496h0M234 509h0M191 543h0M158 495h0M64 500h0M104 502h0M111 509h0M80 497h0M229 491h0M71 492h0" stroke="#efe3eb" stroke-width="4.1" stroke-opacity="0.7"/>
<path d="M870 154h0M791 124h0M762 206h0M787 95h0M760 179h0M876 114h0M795 175h0M865 110h0M884 125h0M872 135h0M791 160h0M866 121h0M872 211h0M882 121h0M795 102h0M789 75h0" stroke="#efe3eb" stroke-width="3.8" stroke-opacity="0.55"/>
<path d="M765 547h0M871 542h0M883 553h0M802 554h0M883 541h0M827 547h0M805 535h0M749 545h0M763 562h0M867 540h0M842 538h0M836 553h0M837 587h0M834 544h0M759 540h0M796 566h0M835 546h0M865 536h0M883 548h0M870 546h0M792 530h0M765 540h0M884 551h0M885 544h0M843 562h0M746 533h0M840 538h0M755 558h0M831 547h0M763 550h0M749 553h0M843 553h0M757 549h0M884 546h0M826 566h0M833 566h0M793 567h0M866 541h0M787 549h0M798 552h0M866 538h0M748 550h0M832 552h0M797 565h0M746 553h0M878 563h0M799 571h0" stroke="#efe3eb" stroke-width="4.2" stroke-opacity="0.65"/>
<path d="M641 145h0M553 90h0M633 174h0M565 121h0M597 133h0M596 131h0M593 131h0M643 131h0M636 190h0M607 128h0M548 134h0M632 125h0M630 142h0M595 202h0M644 163h0M636 142h0M635 161h0M600 155h0M550 120h0M560 132h0M563 167h0M563 118h0M563 169h0" stroke="#efe3eb" stroke-width="3.8" stroke-opacity="0.6"/>
<path d="M684 140h0M669 131h0M707 152h0M708 93h0M677 126h0M684 125h0M718 101h0M679 108h0M711 124h0M710 137h0M669 132h0M724 130h0M671 105h0M716 125h0M682 144h0M714 123h0M715 124h0M672 137h0M719 130h0M671 87h0M714 122h0M722 88h0" stroke="#efe3eb" stroke-width="3.8" stroke-opacity="0.65"/>
<path d="M512 495h0M646 512h0M525 518h0M588 504h0M552 495h0M517 507h0M639 526h0M636 503h0M595 495h0M564 505h0M551 497h0M510 495h0M592 507h0M519 510h0M511 511h0M593 487h0M521 477h0M514 498h0M723 517h0M627 513h0M553 504h0M628 506h0M508 515h0M523 511h0M632 500h0M716 527h0M712 515h0M595 524h0M553 523h0M707 504h0M555 487h0M557 508h0M517 489h0M645 502h0" stroke="#efe3eb" stroke-width="4.2" stroke-opacity="0.78"/>
<path d="M421 547h0M435 561h0M435 528h0M426 515h0M435 533h0M351 529h0M353 518h0M430 521h0M423 524h0M346 537h0M436 524h0M351 544h0M346 537h0M353 537h0M355 524h0M345 528h0M423 535h0" stroke="#efe3eb" stroke-width="4.1" stroke-opacity="0.55"/>
<path d="M397 505h0M381 490h0M382 506h0M395 504h0M391 483h0M391 480h0M380 491h0M397 523h0M392 496h0" stroke="#efe3eb" stroke-width="4.1" stroke-opacity="0.5"/>
<path d="M513 188h0M517 162h0M512 167h0M517 160h0M510 194h0M516 143h0M511 164h0M524 202h0" stroke="#efe3eb" stroke-width="3.8" stroke-opacity="0.7"/>
<path d="M397 152h0M303 159h0M309 144h0M74 177h0M146 183h0M62 184h0M301 152h0M381 134h0M144 156h0M432 140h0M79 167h0M274 151h0M379 135h0M387 137h0M142 192h0M269 166h0M398 139h0M105 157h0M222 178h0M384 130h0M148 183h0M154 169h0M272 149h0M80 183h0M160 176h0M317 153h0M393 142h0M394 142h0M66 193h0M347 164h0M261 148h0M433 142h0M77 179h0M112 176h0M274 156h0M66 185h0M141 167h0M117 189h0M304 148h0M70 168h0M418 155h0M69 175h0" stroke="#efe3eb" stroke-width="4.4" stroke-opacity="0.9"/>
<path d="M270 549h0M192 535h0M193 563h0M187 536h0M155 494h0M196 540h0M268 544h0M141 520h0M78 501h0M272 551h0M222 506h0M158 499h0M103 484h0M152 475h0M152 490h0M146 499h0M79 489h0M115 502h0M279 547h0M268 540h0M69 485h0M109 515h0M183 530h0M223 501h0M115 492h0M63 471h0M275 561h0M143 454h0M157 514h0M222 510h0M104 509h0M272 548h0M231 489h0M145 483h0M231 507h0M275 538h0M71 508h0M237 506h0M110 501h0M116 492h0M142 485h0M108 486h0M154 497h0M262 539h0M112 500h0M82 493h0M185 564h0M236 501h0M226 475h0M64 491h0M270 546h0M108 492h0M120 495h0M76 486h0M76 496h0M225 524h0M148 502h0M278 558h0M223 515h0M195 536h0" stroke="#efe3eb" stroke-width="4.1" stroke-opacity="0.7"/>
<path d="M668 119h0M715 150h0M672 135h0M724 109h0M710 127h0M679 97h0M723 103h0M673 126h0M718 150h0M718 117h0M675 140h0M709 113h0M721 138h0M716 87h0M705 138h0" stroke="#efe3eb" stroke-width="3.8" stroke-opacity="0.65"/>
<path d="M640 107h0M600 224h0M595 97h0M599 176h0M647 117h0M635 145h0M561 204h0M635 149h0M605 115h0M595 50h0M547 102h0M588 141h0M640 138h0M627 119h0M640 167h0M593 235h0M598 124h0M628 145h0M556 148h0" stroke="#efe3eb" stroke-width="3.8" stroke-opacity="0.6"/>
<path d="M629 515h0M720 480h0M554 497h0M600 510h0M587 529h0M599 522h0M641 503h0M527 516h0M640 500h0M563 501h0M644 509h0M555 515h0M601 517h0M714 494h0M590 488h0M590 516h0M560 503h0M589 504h0M519 540h0M598 494h0M602 501h0M637 492h0M598 508h0M513 513h0M566 493h0M627 517h0M557 514h0M717 496h0M519 501h0M637 513h0M607 502h0" stroke="#efe3eb" stroke-width="4.2" stroke-opacity="0.78"/>
<path d="M342 565h0M345 535h0M348 521h0M347 551h0M356 543h0M423 528h0M421 542h0M430 518h0M419 531h0M359 531h0M429 537h0M426 512h0M356 532h0M351 543h0M425 540h0M421 516h0M339 537h0M430 539h0M420 542h0M421 524h0M431 524h0M357 558h0M424 526h0M422 528h0M423 535h0" stroke="#efe3eb" stroke-width="4.1" stroke-opacity="0.55"/>
<path d="M831 568h0M805 553h0M758 550h0M787 562h0M835 552h0M836 561h0M875 534h0M755 547h0M838 547h0M882 552h0M789 544h0M827 552h0M874 537h0M746 537h0M873 534h0M839 574h0M838 569h0M805 552h0M828 531h0M837 552h0M762 559h0M791 576h0M756 560h0M832 544h0M795 544h0M835 546h0" stroke="#efe3eb" stroke-width="4.2" stroke-opacity="0.65"/>
<path d="M387 483h0M395 521h0M386 527h0M379 541h0M380 507h0M384 490h0M394 491h0M395 475h0M386 509h0" stroke="#efe3eb" stroke-width="4.1" stroke-opacity="0.5"/>
<path d="M518 144h0M520 172h0M514 163h0M523 151h0M519 159h0M518 162h0M513 168h0M526 132h0M522 160h0M518 164h0" stroke="#efe3eb" stroke-width="3.8" stroke-opacity="0.7"/>
<path d="M798 164h0M872 124h0M759 153h0M792 89h0M764 180h0M748 208h0M760 263h0M765 183h0M763 160h0M753 141h0M754 138h0M883 95h0M791 101h0M757 171h0M751 177h0M881 98h0M876 159h0M884 137h0M872 119h0" stroke="#efe3eb" stroke-width="3.8" stroke-opacity="0.55"/>
<path d="M419 142h0M418 138h0M237 185h0M112 169h0M234 177h0M358 164h0M313 141h0M104 179h0M222 178h0M280 148h0M272 163h0M392 124h0M150 149h0M63 171h0M269 142h0M421 153h0M422 143h0M64 166h0M265 164h0M116 168h0M353 190h0M398 134h0M267 155h0M437 144h0M262 138h0M118 177h0M80 168h0M392 129h0M398 125h0M64 176h0M319 144h0M303 156h0M237 178h0M260 140h0M66 199h0M345 181h0M146 190h0M148 166h0M424 142h0M431 152h0M318 155h0M419 152h0M430 139h0M143 185h0M263 139h0M223 186h0M221 178h0M232 175h0M147 173h0M260 144h0M378 130h0M434 141h0M312 145h0M75 182h0M343 172h0M380 140h0M263 146h0M231 185h0M311 157h0" stroke="#efe3eb" stroke-width="4.4" stroke-opacity="0.9"/>
<path d="M226 510h0M147 467h0M198 535h0M221 493h0M147 484h0M279 560h0M279 536h0M194 526h0M104 500h0M112 493h0M155 459h0M268 554h0M188 542h0M103 514h0M147 482h0M151 494h0M145 492h0M142 466h0M78 483h0M185 532h0M75 505h0M64 515h0M102 494h0M113 491h0M227 504h0M111 511h0M238 516h0M238 505h0M101 496h0M158 515h0M107 496h0M62 479h0M181 546h0M119 510h0M264 552h0M235 492h0M64 504h0M160 497h0M263 552h0M196 574h0M231 499h0M220 493h0M222 512h0M265 541h0M269 552h0M143 472h0M196 544h0M77 485h0M262 546h0M222 484h0M71 514h0M229 515h0M228 488h0M115 512h0M265 553h0M189 542h0M232 497h0M192 532h0M68 492h0M262 537h0M185 541h0M275 537h0M70 475h0M101 507h0M227 467h0M187 532h0M101 490h0M186 541h0M76 485h0M238 509h0M79 505h0M238 495h0M265 544h0M70 502h0M150 494h0M116 499h0" stroke="#efe3eb" stroke-width="4.1" stroke-opacity="0.7"/>
<path d="M388 509h0M397 500h0M398 527h0M397 503h0M383 509h0M394 513h0M395 499h0M385 516h0M381 525h0M383 492h0M384 502h0" stroke="#efe3eb" stroke-width="4.1" stroke-opacity="0.5"/>
<path d="M428 537h0M419 520h0M424 540h0M343 534h0M434 541h0M427 526h0M429 565h0M357 539h0M432 531h0M339 529h0M427 537h0M358 548h0M339 542h0M425 560h0" stroke="#efe3eb" stroke-width="4.1" stroke-opacity="0.55"/>
<path d="M749 174h0M793 116h0M803 135h0M875 102h0M881 181h0M790 172h0M884 116h0M870 101h0M877 122h0M762 164h0M802 150h0M788 192h0M867 115h0M751 122h0M755 154h0M753 174h0M786 120h0M764 169h0M763 158h0M750 155h0M749 184h0" stroke="#efe3eb" stroke-width="3.8" stroke-opacity="0.55"/>
<path d="M602 244h0M637 228h0M643 193h0M566 123h0M629 132h0M596 121h0M561 141h0M563 205h0M639 177h0M557 126h0M567 97h0M553 178h0M603 151h0M592 107h0M629 104h0M550 193h0M642 134h0M559 197h0M558 109h0M629 154h0M608 104h0M547 107h0M606 96h0M643 166h0M555 180h0M563 127h0M565 104h0M632 96h0M641 99h0" stroke="#efe3eb" stroke-width="3.8" stroke-opacity="0.6"/>
<path d="M628 509h0M637 510h0M595 522h0M710 483h0M639 517h0M589 519h0M517 504h0M640 500h0M594 488h0M589 536h0M549 516h0M557 496h0M562 513h0M596 496h0M626 515h0M627 524h0M708 490h0M521 494h0M563 489h0M602 497h0M590 511h0M526 502h0M511 527h0M714 506h0M707 521h0M527 491h0M525 514h0M520 508h0M561 513h0M566 523h0M566 534h0M595 506h0M592 498h0M603 506h0M601 498h0M722 519h0M718 521h0M629 504h0M712 520h0M644 505h0M518 519h0M593 515h0M602 503h0" stroke="#efe3eb" stroke-width="4.2" stroke-opacity="0.78"/>
<path d="M670 134h0M678 109h0M675 122h0M679 112h0M676 138h0M718 132h0M676 90h0M682 138h0M671 101h0M680 108h0M681 126h0M669 82h0M668 128h0M684 136h0M726 130h0M718 130h0M716 115h0M718 116h0M717 106h0M721 122h0M717 100h0" stroke="#efe3eb" stroke-width="3.8" stroke-opacity="0.65"/>
<path d="M753 535h0M883 529h0M827 555h0M745 544h0M789 545h0M758 544h0M845 551h0M843 554h0M826 543h0M875 546h0M882 558h0M749 543h0M877 533h0M830 553h0M766 551h0M835 554h0M826 565h0M755 549h0M786 545h0M826 549h0M874 553h0M843 535h0M803 559h0M750 563h0M832 552h0M746 556h0M880 542h0M875 551h0M787 543h0M865 543h0M868 552h0M762 561h0M835 546h0M876 547h0" stroke="#efe3eb" stroke-width="4.2" stroke-opacity="0.65"/>
<path d="M523 190h0M525 155h0M510 122h0M514 174h0M525 154h0M514 164h0M514 149h0M511 174h0M520 183h0M514 163h0M526 145h0" stroke="#efe3eb" stroke-width="3.8" stroke-opacity="0.7"/>
<path d="M304 478h0M317 511h0M315 493h0M307 500h0M311 471h0M317 487h0M307 496h0M314 473h0M351 529h0M303 493h0M317 497h0M311 498h0M312 491h0M305 480h0M318 503h0M302 500h0M306 511h0M312 511h0M346 528h0M304 485h0M314 467h0M318 494h0M314 489h0M314 506h0M311 462h0M426 534h0M302 479h0M312 510h0M301 468h0M311 479h0M313 507h0M308 469h0M304 510h0M301 471h0M315 487h0M310 484h0M300 505h0M306 476h0M318 493h0M359 526h0M313 481h0M302 484h0M300 471h0M309 468h0M302 511h0M318 507h0M314 468h0M349 514h0M308 497h0" stroke="#cbc9dd" stroke-width="4.1" stroke-opacity="0.55"/>
<path d="M189 188h0M185 200h0M199 196h0M181 175h0M198 199h0M186 173h0M198 190h0M180 189h0M180 177h0M184 173h0M185 173h0M196 180h0M194 188h0M181 178h0M192 195h0M197 184h0M182 189h0M197 197h0M197 195h0M195 199h0M188 177h0M183 174h0M192 183h0M180 190h0M196 195h0M184 181h0M186 198h0M195 182h0M184 196h0M190 200h0M183 186h0M191 195h0M186 179h0M189 186h0M182 178h0M180 195h0M188 193h0M189 193h0M184 191h0M196 188h0M184 198h0M181 198h0M199 173h0M192 176h0M188 200h0M181 182h0M191 197h0M185 190h0M195 183h0M186 197h0M188 196h0M189 180h0M180 175h0M188 168h0M181 174h0M195 196h0M194 175h0M185 196h0M196 191h0M195 174h0M193 200h0M193 176h0M188 176h0M186 193h0M191 180h0M183 176h0M199 187h0M195 191h0M189 198h0M187 196h0M194 197h0M186 175h0M192 174h0M191 201h0M194 181h0M190 195h0M185 173h0M191 196h0M192 186h0M198 177h0M199 177h0M187 180h0M192 179h0M184 182h0M194 177h0M195 190h0M190 167h0M184 178h0M192 187h0M192 201h0M195 197h0M199 190h0M199 201h0M190 198h0M190 197h0M187 177h0M181 187h0M181 178h0M182 182h0M190 195h0M193 199h0M186 188h0M182 180h0M184 190h0M181 190h0M191 198h0M195 192h0M197 195h0M197 184h0M184 186h0M185 184h0M188 177h0M188 187h0M197 183h0M191 179h0M180 193h0M198 187h0M182 202h0M199 197h0M192 184h0M193 177h0M181 187h0M184 196h0M197 188h0M190 194h0M187 197h0M197 176h0M196 190h0M186 185h0M182 188h0M196 200h0M181 186h0M196 184h0M192 176h0M195 172h0M192 194h0M195 186h0M183 196h0M193 180h0M184 191h0M183 179h0M192 177h0M184 189h0M185 173h0M197 192h0M187 175h0M193 174h0M188 173h0M194 180h0M190 186h0M194 194h0M187 173h0M190 176h0M194 176h0M183 183h0M198 189h0M198 185h0M189 180h0M182 180h0M185 175h0M199 189h0M185 186h0M188 176h0M193 195h0M191 182h0M189 175h0M183 181h0M182 176h0M189 188h0M198 200h0M188 195h0M191 176h0M188 183h0M197 193h0M200 181h0" stroke="#cbc9dd" stroke-width="4.4"/>
<path d="M266 522h0M185 504h0M192 528h0M225 527h0M70 522h0M112 519h0M102 522h0M236 519h0M235 502h0M143 516h0M160 508h0M118 534h0M112 509h0M72 523h0M107 528h0M67 515h0M189 529h0M235 500h0M236 524h0M111 536h0M259 520h0M141 508h0M65 526h0M62 521h0M145 510h0M193 526h0" stroke="#cbc9dd" stroke-width="4.1" stroke-opacity="0.7"/>
<path d="M560 236h0M557 286h0M597 139h0M558 201h0M554 84h0M593 147h0M630 145h0M591 81h0M647 117h0M605 116h0M555 124h0M645 143h0M601 99h0M598 181h0M631 157h0M602 197h0M639 159h0M627 104h0M637 101h0M594 81h0M632 199h0M594 148h0M646 108h0M591 108h0M643 124h0M629 125h0M554 151h0M642 154h0M626 122h0M564 201h0M599 109h0" stroke="#cbc9dd" stroke-width="3.8" stroke-opacity="0.6"/>
<path d="M672 522h0M674 487h0M674 512h0M675 493h0M683 519h0M524 509h0M671 499h0M684 521h0M672 521h0M679 508h0M672 492h0M674 487h0M524 527h0M679 505h0M672 506h0M638 514h0M674 492h0M682 514h0M666 499h0M606 538h0M709 529h0M680 486h0M682 522h0M674 521h0M668 527h0M671 527h0M682 503h0M680 493h0M671 483h0M639 541h0M682 504h0M668 501h0M684 508h0M682 527h0M673 511h0M669 524h0M685 511h0M684 509h0M674 524h0M629 519h0M675 528h0M725 528h0M667 504h0M526 513h0M603 531h0M668 506h0M683 492h0M668 530h0M668 513h0M680 507h0M680 491h0M546 526h0M669 512h0M680 513h0M630 522h0M636 539h0M669 488h0M713 536h0M672 494h0M722 527h0M680 515h0M668 493h0M670 518h0M686 507h0M679 484h0M669 527h0M556 510h0" stroke="#cbc9dd" stroke-width="4.2" stroke-opacity="0.78"/>
<path d="M382 508h0M383 500h0M392 517h0M393 519h0M388 521h0M393 543h0M391 510h0M386 536h0M382 535h0M390 532h0" stroke="#cbc9dd" stroke-width="4.1" stroke-opacity="0.5"/>
<path d="M842 177h0M836 174h0M837 176h0M838 170h0M841 185h0M838 172h0M869 184h0M864 150h0M826 181h0M791 112h0M836 181h0M838 175h0M828 168h0M801 141h0M880 182h0M835 183h0M871 139h0M882 140h0M827 180h0M871 97h0M829 178h0M842 183h0M761 146h0M756 140h0M841 172h0M868 134h0M835 166h0M878 130h0M872 78h0M840 173h0M829 177h0M834 170h0M832 183h0M830 175h0M793 79h0M826 180h0M872 82h0M836 164h0M791 150h0M839 167h0M751 114h0M834 172h0M750 107h0M837 163h0M881 171h0M836 185h0" stroke="#cbc9dd" stroke-width="3.8" stroke-opacity="0.55"/>
<path d="M755 528h0M790 531h0M875 528h0M840 533h0M844 525h0M754 541h0M825 538h0M836 526h0M833 531h0M804 528h0M795 529h0M879 534h0M762 532h0M868 541h0M831 535h0M871 520h0M881 529h0M765 524h0" stroke="#cbc9dd" stroke-width="4.2" stroke-opacity="0.65"/>
<path d="M510 125h0M518 133h0M520 122h0M520 121h0M513 160h0M516 189h0" stroke="#cbc9dd" stroke-width="3.8" stroke-opacity="0.7"/>
<path d="M115 156h0M153 168h0M438 153h0M339 167h0M265 158h0M385 146h0M78 174h0M344 177h0M65 149h0M156 158h0M382 161h0M153 164h0M103 182h0M60 152h0M265 165h0M430 161h0M303 166h0M343 170h0M73 158h0M388 146h0M235 171h0M391 153h0M383 142h0" stroke="#cbc9dd" stroke-width="4.4" stroke-opacity="0.9"/>
<path d="M680 148h0M717 134h0M670 149h0M680 160h0M711 114h0M722 123h0M713 81h0M705 140h0M672 148h0" stroke="#cbc9dd" stroke-width="3.8" stroke-opacity="0.65"/>
<path d="M595 114h0M642 138h0M588 99h0M632 126h0M561 179h0M600 186h0M547 102h0M643 149h0M629 114h0M555 194h0M601 168h0M645 107h0M557 216h0M588 136h0M642 174h0M641 107h0M627 98h0M592 110h0M646 125h0M641 206h0M565 88h0M647 118h0M588 99h0M636 83h0M647 122h0M560 96h0M634 154h0M638 156h0M561 130h0M559 172h0M603 208h0M553 111h0M634 186h0M550 195h0M565 116h0M635 115h0M552 137h0M642 123h0M602 190h0" stroke="#cbc9dd" stroke-width="3.8" stroke-opacity="0.6"/>
<path d="M192 504h0M232 512h0M112 512h0M155 496h0M144 503h0M66 515h0M272 535h0M197 500h0M268 531h0M117 518h0M120 519h0M195 514h0M185 515h0M182 505h0M220 526h0M147 528h0M223 522h0M146 491h0M237 529h0M144 500h0M149 566h0M115 520h0M70 511h0M144 508h0M144 520h0M75 518h0M230 541h0" stroke="#cbc9dd" stroke-width="4.1" stroke-opacity="0.7"/>
<path d="M517 537h0M646 527h0M683 504h0M551 525h0M676 491h0M666 499h0M673 521h0M669 518h0M681 488h0M669 504h0M686 505h0M557 523h0M560 513h0M707 542h0M683 488h0M671 516h0M674 503h0M568 534h0M675 507h0M595 535h0M678 487h0M643 532h0M668 480h0M634 512h0M604 527h0M676 509h0M680 499h0M677 519h0M666 493h0M629 518h0M675 489h0M672 510h0M714 509h0M680 503h0M677 531h0M684 512h0M672 491h0M676 498h0M560 541h0M670 523h0M673 518h0M643 547h0M668 527h0M685 491h0M684 520h0M685 485h0M677 509h0M676 502h0M674 506h0M670 485h0M674 506h0M568 527h0M681 487h0M678 502h0M678 526h0M677 516h0M512 537h0M667 501h0M681 523h0M684 515h0M668 505h0M672 509h0M671 520h0M678 493h0M520 532h0M675 521h0M526 532h0M593 539h0M673 515h0M667 517h0M675 503h0M680 508h0M667 519h0M717 536h0M588 520h0M686 525h0M673 521h0M708 519h0" stroke="#cbc9dd" stroke-width="4.2" stroke-opacity="0.78"/>
<path d="M308 495h0M302 469h0M349 520h0M308 490h0M300 492h0M309 490h0M311 506h0M305 468h0M305 491h0M309 491h0M312 498h0M300 499h0M316 504h0M311 497h0M308 484h0M316 497h0M311 495h0M419 498h0M309 500h0M348 507h0M309 499h0M311 485h0M298 509h0M420 515h0M300 478h0M303 496h0M300 467h0M308 472h0M316 477h0M315 504h0M433 513h0M307 471h0M308 492h0M315 510h0M316 503h0M318 482h0M301 506h0M302 484h0M315 492h0M308 512h0M309 469h0M303 506h0M317 494h0M314 510h0M305 483h0M301 498h0M299 479h0M311 495h0M300 471h0M309 487h0M308 489h0M436 525h0M302 468h0M305 487h0M316 469h0M307 508h0M307 474h0M421 517h0M432 524h0" stroke="#cbc9dd" stroke-width="4.1" stroke-opacity="0.55"/>
<path d="M832 182h0M835 178h0M844 179h0M878 90h0M802 106h0M752 150h0M831 164h0M882 173h0M867 158h0M787 171h0M870 105h0M843 179h0M832 178h0M868 151h0M836 170h0M838 184h0M831 177h0M878 84h0M826 168h0M826 175h0M765 178h0M754 177h0M844 162h0M791 163h0M864 156h0M754 92h0M873 173h0M796 190h0M836 171h0M760 138h0M833 172h0M799 77h0M797 211h0M793 142h0M833 174h0M844 163h0M878 163h0M833 175h0M870 190h0M866 105h0M836 167h0" stroke="#cbc9dd" stroke-width="3.8" stroke-opacity="0.55"/>
<path d="M274 153h0M238 172h0M119 161h0M225 168h0M426 158h0M108 153h0M434 167h0M263 155h0M62 147h0M104 153h0M65 151h0M279 160h0M398 146h0M306 160h0M341 162h0M313 165h0M143 170h0M312 178h0M224 178h0M74 159h0M342 174h0M426 159h0M113 169h0M397 151h0M222 155h0M267 172h0" stroke="#cbc9dd" stroke-width="4.4" stroke-opacity="0.9"/>
<path d="M718 145h0M707 160h0M724 142h0M669 143h0M715 132h0M708 141h0" stroke="#cbc9dd" stroke-width="3.8" stroke-opacity="0.65"/>
<path d="M864 534h0M788 525h0M793 524h0M786 544h0M798 543h0M804 528h0M798 528h0M840 540h0M874 547h0M760 532h0M881 536h0M759 530h0M757 531h0M751 516h0M795 528h0M800 523h0M845 540h0M867 522h0M879 537h0M866 523h0" stroke="#cbc9dd" stroke-width="4.2" stroke-opacity="0.65"/>
<path d="M517 135h0M518 131h0M511 150h0M521 139h0M523 125h0M514 134h0" stroke="#cbc9dd" stroke-width="3.8" stroke-opacity="0.7"/>
<path d="M389 515h0M388 520h0M385 536h0M379 537h0M394 543h0M399 533h0M389 509h0M385 540h0M388 521h0M384 531h0" stroke="#cbc9dd" stroke-width="4.1" stroke-opacity="0.5"/>
<path d="M279 513h0M260 534h0M237 514h0M232 514h0M237 544h0M273 545h0M119 522h0M151 514h0M113 517h0M66 516h0M150 522h0M156 521h0M278 528h0M188 538h0M222 525h0M152 529h0M232 537h0M77 510h0M197 530h0M105 509h0" stroke="#cbc9dd" stroke-width="4.1" stroke-opacity="0.7"/>
<path d="M677 528h0M670 499h0M560 517h0M511 532h0M684 494h0M605 512h0M718 533h0M667 503h0M563 532h0M685 512h0M684 487h0M671 491h0M666 484h0M669 504h0M671 499h0M563 530h0M679 505h0M672 511h0M557 543h0M675 523h0M682 501h0M678 503h0M669 502h0M686 527h0M679 486h0M682 494h0M522 514h0M671 495h0M674 516h0M683 525h0M666 520h0M672 521h0M685 520h0M708 527h0M552 537h0M554 544h0M669 519h0M672 515h0M672 512h0M593 538h0M681 499h0M669 505h0M680 487h0M678 504h0M682 491h0M517 518h0M670 511h0M679 489h0M675 525h0M638 532h0M675 505h0M509 502h0M628 509h0M677 505h0M680 522h0M668 484h0M673 526h0M687 494h0M670 491h0" stroke="#cbc9dd" stroke-width="4.2" stroke-opacity="0.78"/>
<path d="M148 152h0M115 165h0M303 176h0M238 169h0M64 169h0M313 154h0M69 160h0M305 166h0M315 159h0M150 166h0M142 169h0M226 163h0M300 162h0M341 166h0M261 153h0M149 171h0M147 170h0M151 173h0M119 161h0M66 146h0M396 147h0M381 155h0M222 166h0M341 176h0M303 160h0M398 154h0M280 179h0M424 147h0M226 173h0M239 171h0M384 152h0" stroke="#cbc9dd" stroke-width="4.4" stroke-opacity="0.9"/>
<path d="M837 178h0M842 176h0M827 179h0M795 151h0M830 164h0M803 151h0M763 155h0M835 181h0M828 167h0M834 167h0M831 174h0M795 172h0M839 181h0M843 169h0M840 165h0M801 94h0M870 84h0M807 175h0M805 98h0M825 174h0M865 159h0M870 96h0M868 181h0M831 170h0M837 183h0M877 123h0M834 172h0M749 137h0M799 127h0M833 185h0M846 164h0M831 186h0M805 128h0M755 110h0M794 105h0M836 182h0M833 178h0M828 171h0M839 182h0M835 182h0M843 180h0M750 136h0M793 120h0M873 180h0M840 186h0M878 106h0M871 180h0M870 134h0M870 99h0M797 202h0M789 174h0M759 181h0" stroke="#cbc9dd" stroke-width="3.8" stroke-opacity="0.55"/>
<path d="M301 504h0M349 508h0M311 485h0M301 476h0M355 528h0M317 497h0M312 490h0M310 503h0M306 485h0M303 512h0M432 510h0M309 503h0M308 477h0M315 472h0M300 500h0M307 484h0M312 501h0M318 507h0M311 507h0M301 502h0M307 489h0M439 509h0M300 477h0M307 479h0M303 474h0M316 494h0M308 510h0M303 467h0M308 470h0M314 507h0M349 532h0M307 470h0M309 487h0M359 512h0M305 511h0M349 520h0M308 472h0M312 510h0M308 478h0M316 476h0M307 505h0M434 522h0M316 483h0M341 506h0M318 509h0" stroke="#cbc9dd" stroke-width="4.1" stroke-opacity="0.55"/>
<path d="M755 535h0M759 537h0M802 555h0M827 533h0M794 545h0M880 521h0M762 535h0M867 537h0M762 551h0M798 518h0M842 531h0M874 516h0" stroke="#cbc9dd" stroke-width="4.2" stroke-opacity="0.65"/>
<path d="M590 108h0M557 77h0M588 110h0M554 103h0M630 180h0M594 99h0M643 189h0M565 133h0M602 186h0M562 105h0M630 136h0M638 100h0M629 135h0M562 199h0M564 128h0M639 140h0M596 149h0M646 107h0M641 88h0M599 159h0M603 134h0M640 127h0M554 140h0M645 154h0M627 123h0M638 131h0M597 119h0M594 165h0M561 80h0" stroke="#cbc9dd" stroke-width="3.8" stroke-opacity="0.6"/>
<path d="M520 154h0M511 156h0M525 153h0M513 131h0" stroke="#cbc9dd" stroke-width="3.8" stroke-opacity="0.7"/>
<path d="M383 533h0M393 528h0M396 503h0M380 505h0M384 534h0" stroke="#cbc9dd" stroke-width="4.1" stroke-opacity="0.5"/>
<path d="M726 126h0M706 137h0M706 121h0M666 149h0M711 143h0M710 113h0M687 144h0" stroke="#cbc9dd" stroke-width="3.8" stroke-opacity="0.65"/>
<path d="M230 182h0M112 168h0M153 159h0M231 183h0M302 131h0M396 132h0M148 175h0M274 142h0M228 199h0M387 130h0M78 195h0M432 141h0M393 132h0M227 188h0M118 175h0M308 145h0M144 177h0M231 188h0M273 152h0M352 188h0M76 162h0M266 158h0M344 167h0M394 119h0M265 142h0M112 201h0M316 137h0M264 134h0M314 131h0M276 141h0M392 128h0M304 147h0M350 177h0M420 153h0M226 182h0M222 183h0M226 184h0M300 125h0M429 141h0M157 228h0M104 183h0M382 124h0M317 155h0M232 190h0M147 182h0M149 157h0M115 186h0M381 151h0M237 179h0M224 199h0M398 131h0M114 193h0M341 184h0M395 136h0M64 201h0M350 187h0M80 182h0M398 144h0M113 190h0M390 130h0M76 177h0M228 174h0M68 204h0M420 140h0M117 192h0M427 140h0M106 169h0M144 180h0M358 185h0M70 203h0M278 152h0M343 192h0M389 129h0M144 196h0M108 195h0M74 202h0M388 126h0M262 159h0M239 179h0" stroke="#f2d9e1" stroke-width="4.4" stroke-opacity="0.9"/>
<path d="M70 478h0M151 469h0M74 493h0M195 538h0M150 497h0M76 477h0M105 480h0M67 464h0M81 488h0M239 500h0M153 510h0M273 545h0M103 504h0M264 550h0M190 549h0M113 496h0M142 499h0M228 479h0M225 499h0M198 552h0M278 559h0M76 472h0M266 542h0M195 532h0M145 474h0M66 492h0M151 485h0M223 496h0M73 490h0M148 515h0M276 555h0M105 486h0M267 564h0M263 583h0M143 440h0M192 566h0M231 509h0M150 465h0M232 488h0M108 458h0M113 482h0M147 505h0M73 487h0M113 477h0M276 590h0M198 538h0M116 492h0M228 485h0M105 508h0M118 489h0M272 531h0M68 492h0M105 476h0M64 478h0M75 482h0M259 554h0M159 481h0" stroke="#f2d9e1" stroke-width="4.1" stroke-opacity="0.7"/>
<path d="M553 504h0M517 517h0M565 491h0M511 500h0M719 486h0M519 493h0M512 481h0M513 476h0M564 523h0M518 506h0M714 510h0M527 501h0M713 480h0M725 506h0M716 496h0M557 506h0M514 494h0M524 502h0M723 491h0M508 479h0M563 486h0M564 496h0M630 502h0M634 489h0M604 501h0M595 510h0M637 493h0M723 485h0M629 490h0M562 485h0M524 479h0M635 506h0M512 492h0M551 489h0M521 488h0M552 481h0M601 517h0M633 485h0" stroke="#f2d9e1" stroke-width="4.2" stroke-opacity="0.78"/>
<path d="M642 162h0M626 115h0M632 186h0M592 156h0M600 156h0M558 185h0M600 176h0M643 188h0M565 140h0M548 128h0M590 173h0M636 180h0M593 102h0M593 126h0M644 157h0M563 132h0M555 214h0M550 192h0M588 124h0M636 172h0M630 167h0M627 188h0M634 160h0M639 240h0M630 148h0" stroke="#f2d9e1" stroke-width="3.8" stroke-opacity="0.6"/>
<path d="M512 173h0M512 181h0M513 155h0M517 174h0M522 171h0M523 185h0M525 158h0M524 148h0M513 158h0M511 156h0" stroke="#f2d9e1" stroke-width="3.8" stroke-opacity="0.7"/>
<path d="M838 555h0M833 585h0M843 550h0M833 557h0M795 550h0M747 547h0M832 556h0M805 555h0M799 550h0M884 543h0M798 556h0M786 561h0M752 573h0M764 556h0M793 563h0M873 561h0M793 561h0M764 589h0M881 531h0M827 545h0M803 557h0M763 565h0M792 559h0M787 550h0M873 549h0M764 567h0M765 556h0M805 570h0M766 550h0M872 557h0M797 552h0M872 549h0M750 564h0" stroke="#f2d9e1" stroke-width="4.2" stroke-opacity="0.65"/>
<path d="M759 164h0M800 169h0M881 153h0M759 235h0M870 77h0M800 134h0M789 158h0M867 101h0M797 98h0M872 108h0M805 169h0M760 248h0M800 133h0M794 117h0M761 182h0M878 143h0M875 155h0M878 160h0M874 138h0M804 104h0M801 75h0M755 145h0M746 163h0" stroke="#f2d9e1" stroke-width="3.8" stroke-opacity="0.55"/>
<path d="M429 536h0M350 561h0M424 567h0M428 521h0M430 537h0M347 534h0M430 526h0M431 588h0M353 548h0M345 563h0M421 535h0M424 568h0M344 541h0M342 558h0M353 530h0M422 533h0M356 554h0M350 559h0M348 563h0" stroke="#f2d9e1" stroke-width="4.1" stroke-opacity="0.55"/>
<path d="M397 523h0M390 490h0M387 515h0M381 502h0M393 485h0M394 513h0M381 504h0M392 497h0M392 476h0M388 429h0" stroke="#f2d9e1" stroke-width="4.1" stroke-opacity="0.5"/>
<path d="M668 101h0M672 85h0M681 121h0M671 126h0M719 117h0M682 104h0M724 128h0M709 117h0M721 114h0M708 87h0M668 97h0M715 105h0M720 118h0M722 92h0M674 131h0" stroke="#f2d9e1" stroke-width="3.8" stroke-opacity="0.65"/>
<path d="M385 133h0M101 183h0M159 177h0M154 173h0M80 167h0M220 190h0M119 180h0M350 183h0M317 147h0M342 192h0M383 123h0M227 190h0M240 171h0M390 142h0M104 181h0M433 141h0M427 138h0M309 156h0M432 136h0M106 181h0M339 180h0M425 141h0M396 142h0M428 132h0M388 119h0M74 194h0M112 201h0M76 180h0M150 189h0M438 132h0M157 181h0M226 199h0M261 147h0M267 146h0M144 183h0M116 193h0M399 138h0M346 194h0M101 201h0M355 187h0M153 177h0M303 135h0M113 168h0M69 176h0M112 177h0M222 189h0M112 172h0M238 177h0M153 187h0M108 190h0M316 140h0M319 128h0M317 141h0M117 155h0M159 174h0M229 197h0M152 205h0M240 185h0M348 198h0M393 123h0M302 145h0M392 123h0M316 135h0M153 187h0M237 193h0M315 144h0M78 194h0M299 154h0M385 116h0M303 136h0M73 186h0M64 178h0M309 135h0M228 182h0M263 132h0M317 137h0M262 160h0M352 172h0M72 191h0M116 184h0M420 127h0M385 132h0M158 176h0M356 186h0M119 172h0M78 192h0M423 137h0M300 143h0M347 188h0M347 177h0M238 187h0M273 123h0M120 185h0M352 181h0M141 191h0M380 134h0" stroke="#f2d9e1" stroke-width="4.4" stroke-opacity="0.9"/>
<path d="M398 494h0M394 524h0M396 494h0M394 514h0M395 491h0M391 465h0M388 434h0M390 515h0M393 511h0M392 477h0M379 507h0M383 510h0" stroke="#f2d9e1" stroke-width="4.1" stroke-opacity="0.5"/>
<path d="M632 170h0M549 107h0M646 132h0M639 192h0M562 207h0M562 203h0M587 186h0M599 159h0M641 146h0M632 153h0M558 102h0M634 153h0M590 135h0M597 158h0M632 155h0M599 264h0M643 173h0M634 132h0M633 232h0M633 100h0M597 173h0M607 105h0M565 174h0M631 105h0M645 149h0M567 109h0M634 121h0M627 137h0M592 156h0M600 188h0M632 165h0M593 98h0M605 189h0M628 134h0M552 266h0" stroke="#f2d9e1" stroke-width="3.8" stroke-opacity="0.6"/>
<path d="M594 507h0M587 508h0M639 487h0M590 509h0M711 498h0M510 496h0M724 504h0M644 489h0M639 502h0M714 487h0M513 501h0M718 501h0M637 522h0M725 493h0M591 512h0M628 524h0M591 508h0M639 490h0M515 493h0M723 497h0M643 495h0M514 511h0M510 503h0M634 496h0M595 508h0M557 509h0M556 498h0M630 505h0M712 486h0M555 515h0M638 519h0M712 506h0M524 468h0M718 490h0M563 498h0M588 496h0M635 494h0M556 488h0M509 502h0M719 519h0M720 503h0M641 508h0M644 503h0M634 501h0M632 485h0M526 493h0M563 484h0M566 501h0M709 489h0M600 494h0M595 499h0M712 487h0M521 480h0M524 491h0M588 492h0M600 479h0M563 491h0M522 471h0M519 480h0M630 495h0" stroke="#f2d9e1" stroke-width="4.2" stroke-opacity="0.78"/>
<path d="M225 500h0M115 494h0M147 433h0M151 458h0M152 485h0M261 558h0M277 566h0M221 506h0M75 483h0M228 493h0M75 489h0M154 489h0M107 470h0M186 544h0M195 544h0M75 445h0M236 485h0M260 546h0M113 467h0M118 494h0M117 479h0M188 539h0M259 547h0M266 560h0M271 555h0M267 549h0M183 533h0M232 505h0M66 487h0M195 531h0M114 481h0M265 566h0M190 555h0M198 549h0M102 464h0M238 500h0M225 499h0M230 495h0M182 556h0M226 437h0M152 503h0M105 498h0M273 557h0M259 550h0M76 497h0M77 499h0M263 565h0M81 492h0M110 497h0M71 482h0M107 504h0M68 490h0M160 482h0M151 481h0M65 492h0" stroke="#f2d9e1" stroke-width="4.1" stroke-opacity="0.7"/>
<path d="M843 556h0M799 563h0M828 550h0M786 562h0M749 553h0M874 561h0M878 552h0M747 534h0M830 569h0M865 545h0M795 550h0M829 536h0M794 573h0M755 548h0M843 550h0M874 551h0M748 554h0M869 573h0M757 573h0M748 548h0M760 572h0M804 561h0M867 559h0M825 539h0M845 560h0M844 558h0M801 565h0M836 563h0M750 546h0M871 554h0M797 556h0M881 533h0M801 585h0M840 546h0M884 540h0M884 562h0M872 556h0M839 561h0M877 538h0M805 559h0M785 556h0M758 562h0" stroke="#f2d9e1" stroke-width="4.2" stroke-opacity="0.65"/>
<path d="M521 171h0M521 180h0M514 176h0M511 201h0M510 171h0M520 186h0M509 171h0M523 202h0M509 171h0M523 201h0M515 153h0M517 162h0M518 166h0M524 155h0M521 210h0" stroke="#f2d9e1" stroke-width="3.8" stroke-opacity="0.7"/>
<path d="M879 139h0M750 172h0M754 163h0M884 102h0M765 186h0M884 157h0M865 125h0M877 105h0M883 98h0M747 157h0M867 96h0M795 175h0M794 145h0M749 198h0M878 156h0M750 154h0M873 106h0M749 151h0M870 71h0M748 150h0" stroke="#f2d9e1" stroke-width="3.8" stroke-opacity="0.55"/>
<path d="M340 533h0M424 525h0M434 528h0M342 527h0M428 539h0M435 530h0M429 527h0M342 534h0M424 578h0M351 546h0M427 538h0M357 550h0M421 528h0M425 556h0M344 544h0" stroke="#f2d9e1" stroke-width="4.1" stroke-opacity="0.55"/>
<path d="M724 122h0M681 138h0M713 95h0M671 96h0M720 106h0M718 92h0M720 104h0M712 119h0M677 105h0M723 94h0M708 118h0M722 110h0M673 103h0M712 68h0M716 123h0M681 112h0M678 48h0M672 88h0M674 114h0M675 103h0M724 128h0M720 102h0M722 122h0M669 134h0M717 114h0" stroke="#f2d9e1" stroke-width="3.8" stroke-opacity="0.65"/>
<path d="M865 558h0M805 549h0M838 550h0M866 556h0M845 557h0M790 568h0M883 553h0M798 554h0M792 556h0M763 554h0M753 564h0M799 558h0M884 544h0M758 549h0M831 541h0M793 568h0M844 549h0M806 545h0M838 550h0M842 570h0M804 537h0M793 547h0M790 564h0M801 557h0M787 559h0M799 552h0M876 561h0M868 565h0M756 564h0M804 547h0M834 564h0M789 563h0M830 551h0M837 544h0M755 561h0M829 553h0M837 531h0" stroke="#f2d9e1" stroke-width="4.2" stroke-opacity="0.65"/>
<path d="M602 186h0M562 170h0M554 136h0M594 119h0M633 218h0M556 172h0M560 172h0M628 123h0M595 128h0M562 279h0M551 145h0M633 126h0M631 148h0M600 143h0M605 181h0M594 114h0M627 168h0M552 150h0M550 121h0M599 155h0M629 151h0M553 212h0M597 99h0M566 116h0M598 126h0M601 163h0M563 217h0M638 136h0M553 191h0M634 142h0M563 192h0M593 189h0M642 184h0" stroke="#f2d9e1" stroke-width="3.8" stroke-opacity="0.6"/>
<path d="M355 186h0M432 144h0M67 193h0M141 155h0M225 185h0M388 136h0M378 128h0M72 160h0M311 140h0M231 188h0M109 183h0M429 113h0M310 144h0M240 182h0M105 200h0M432 143h0M149 211h0M238 182h0M422 151h0M229 191h0M67 191h0M75 206h0M348 184h0M146 180h0M378 124h0M394 136h0M148 179h0M357 183h0M302 131h0M150 205h0M277 141h0M111 187h0M434 157h0M315 140h0M70 173h0M435 143h0M390 112h0M268 147h0M301 139h0M318 161h0M144 209h0M277 145h0M355 173h0M425 129h0M302 136h0M315 154h0M266 134h0M418 145h0M392 138h0M75 195h0M79 187h0M117 177h0M117 198h0M61 189h0M308 148h0M234 188h0M109 176h0M66 189h0M311 145h0M228 193h0M382 131h0M237 172h0M105 191h0M67 221h0M159 179h0M102 185h0M381 127h0M431 135h0M63 195h0M70 203h0M356 186h0M380 134h0M227 195h0M358 201h0M301 143h0M359 188h0M436 143h0M439 138h0M225 190h0M67 193h0M233 186h0M392 133h0M423 135h0M113 178h0M306 147h0" stroke="#f2d9e1" stroke-width="4.4" stroke-opacity="0.9"/>
<path d="M188 541h0M145 476h0M150 443h0M61 480h0M143 485h0M71 492h0M187 538h0M198 563h0M113 489h0M232 508h0M274 550h0M233 494h0M234 493h0M230 486h0M239 488h0M261 541h0M115 497h0M64 479h0M235 492h0M150 500h0M150 516h0M143 495h0M142 497h0M275 540h0M144 492h0M198 533h0M60 495h0M200 543h0M142 484h0M235 509h0M76 452h0M193 553h0M112 489h0M196 556h0M232 488h0M74 459h0M147 500h0M68 449h0M226 424h0M145 467h0M275 548h0M73 464h0M193 561h0M184 542h0M112 487h0M120 489h0M104 486h0M118 487h0M231 496h0M274 586h0M76 494h0M152 501h0M142 487h0M154 461h0M144 446h0M225 511h0M79 486h0M234 454h0M196 551h0M185 554h0M222 496h0M67 473h0M189 550h0" stroke="#f2d9e1" stroke-width="4.1" stroke-opacity="0.7"/>
<path d="M593 508h0M588 507h0M598 498h0M636 522h0M559 509h0M524 487h0M562 501h0M599 501h0M603 485h0M517 490h0M517 493h0M720 498h0M642 499h0M509 501h0M519 497h0M559 500h0M517 508h0M523 520h0M598 498h0M547 491h0M559 512h0M508 491h0M643 491h0M548 489h0M642 511h0M605 497h0M713 508h0M600 480h0M553 483h0M591 496h0M720 512h0M716 506h0M588 472h0M633 499h0M719 487h0M550 487h0M629 500h0M638 494h0M722 496h0M715 500h0M551 479h0M560 493h0" stroke="#f2d9e1" stroke-width="4.2" stroke-opacity="0.78"/>
<path d="M380 523h0M390 489h0M382 478h0M393 511h0M397 499h0M396 494h0M388 490h0M385 452h0M386 428h0" stroke="#f2d9e1" stroke-width="4.1" stroke-opacity="0.5"/>
<path d="M674 121h0M679 117h0M674 114h0M717 139h0M714 76h0M672 109h0M723 103h0M675 112h0M680 94h0M714 88h0M670 80h0M724 88h0M683 91h0M721 78h0M720 100h0M684 105h0M670 127h0M671 113h0M722 116h0M709 116h0M714 98h0M666 143h0" stroke="#f2d9e1" stroke-width="3.8" stroke-opacity="0.65"/>
<path d="M424 552h0M351 542h0M419 536h0M434 536h0M352 523h0M359 540h0M338 541h0M436 533h0M423 559h0M343 566h0M436 520h0M429 583h0M355 547h0M423 563h0M435 535h0M429 531h0M339 539h0M424 533h0M352 564h0M434 535h0M423 542h0M432 520h0" stroke="#f2d9e1" stroke-width="4.1" stroke-opacity="0.55"/>
<path d="M880 112h0M865 145h0M763 161h0M794 143h0M881 144h0M789 191h0M875 123h0M764 131h0M879 133h0M765 156h0M801 213h0M790 191h0M753 132h0M878 133h0M798 190h0M790 150h0M806 110h0M757 140h0M761 251h0M748 181h0M797 142h0M880 101h0M786 150h0M866 126h0M881 138h0M752 171h0M804 116h0M868 106h0M758 156h0M796 173h0M765 171h0" stroke="#f2d9e1" stroke-width="3.8" stroke-opacity="0.55"/>
<path d="M513 181h0M514 163h0M511 208h0M522 214h0M517 172h0M523 169h0M515 181h0M516 141h0M515 253h0M514 153h0" stroke="#f2d9e1" stroke-width="3.8" stroke-opacity="0.7"/>
<path d="M103 162h0M260 164h0M120 148h0M355 164h0M426 154h0M345 165h0M238 161h0M155 141h0M155 142h0M140 167h0M431 166h0M113 175h0M431 153h0M381 148h0M384 160h0M312 161h0M104 162h0M68 156h0M305 148h0M152 161h0M389 162h0M223 157h0M304 166h0M149 149h0M431 162h0M146 154h0M238 161h0M429 160h0M380 134h0M101 153h0M76 173h0M353 174h0M317 156h0M379 160h0M62 172h0M119 151h0" stroke="#c0c2d8" stroke-width="4.4" stroke-opacity="0.9"/>
<path d="M680 509h0M643 527h0M629 538h0M679 531h0M671 492h0M548 528h0M679 510h0M679 523h0M684 485h0M682 519h0M602 536h0M630 546h0M672 500h0M724 540h0M710 520h0M644 541h0M555 518h0M589 531h0M565 541h0M675 515h0M685 522h0M629 543h0M635 529h0M564 540h0M711 534h0M670 488h0M723 541h0M709 529h0M724 538h0M638 552h0M633 518h0M644 526h0M588 525h0M672 492h0M675 525h0M673 505h0M565 539h0M678 515h0M681 498h0M567 534h0M681 491h0M682 510h0M726 532h0M546 537h0M511 515h0M721 536h0M557 540h0M685 521h0M591 527h0M550 529h0M632 517h0M720 538h0" stroke="#c0c2d8" stroke-width="4.2" stroke-opacity="0.78"/>
<path d="M604 95h0M600 96h0M597 118h0M601 65h0M597 165h0M564 77h0M600 108h0M599 90h0M598 157h0M598 92h0M556 177h0M592 95h0M645 109h0M646 143h0M566 121h0M632 129h0M633 91h0M561 178h0M597 126h0M587 128h0M552 115h0M559 141h0M593 159h0M590 192h0M640 93h0M562 213h0M590 151h0M646 153h0M602 116h0M594 93h0M637 118h0M562 98h0M635 98h0M631 150h0M550 135h0M566 167h0M635 214h0M559 78h0M551 97h0M596 117h0M596 111h0M559 202h0M562 200h0M554 267h0M593 156h0M603 113h0" stroke="#c0c2d8" stroke-width="3.8" stroke-opacity="0.6"/>
<path d="M801 123h0M843 182h0M762 134h0M801 177h0M788 172h0M803 117h0M746 131h0M882 137h0M796 158h0M748 82h0M787 175h0M799 162h0M879 156h0M835 169h0M792 181h0M835 166h0M801 111h0M753 150h0M828 180h0M789 146h0M789 101h0M790 89h0M803 111h0M789 139h0M877 111h0M793 167h0M795 181h0M867 96h0M800 159h0M877 150h0M835 164h0M791 125h0M883 143h0M883 133h0M790 144h0M791 189h0M834 175h0M879 134h0M751 177h0M839 162h0M834 183h0M803 164h0M754 109h0M755 142h0" stroke="#c0c2d8" stroke-width="3.8" stroke-opacity="0.55"/>
<path d="M198 186h0M186 186h0M199 173h0M187 199h0M180 180h0M190 191h0M189 200h0M181 192h0M199 196h0M195 176h0M190 174h0M189 189h0M187 198h0M185 179h0M190 200h0M197 173h0M189 179h0M191 197h0M193 200h0M193 180h0M187 186h0M197 200h0M197 199h0M195 200h0M193 185h0M185 189h0M197 180h0M182 177h0M181 187h0M187 186h0M199 192h0M199 189h0M187 190h0M185 173h0M200 192h0M189 188h0M196 183h0M185 198h0M199 174h0M187 192h0M189 180h0M185 176h0M185 173h0M195 184h0M196 186h0M181 179h0M185 196h0M195 173h0M185 176h0M195 175h0M196 176h0M183 182h0M181 185h0M188 178h0M194 182h0M193 196h0M181 175h0M187 201h0M194 176h0M183 184h0M187 195h0M184 199h0M188 172h0M193 181h0M180 187h0M192 181h0M199 196h0M182 183h0M184 181h0M184 177h0M191 184h0M200 198h0M195 189h0M181 173h0M181 186h0M189 185h0M198 185h0M194 182h0M194 197h0M186 179h0" stroke="#c0c2d8" stroke-width="4.4"/>
<path d="M870 529h0M794 525h0M761 523h0M866 534h0M749 506h0M798 540h0M764 521h0M799 517h0M803 542h0M883 514h0M755 523h0M786 534h0M873 519h0M746 524h0M881 539h0M872 521h0M790 535h0M842 532h0M800 534h0M844 544h0M837 529h0M763 530h0" stroke="#c0c2d8" stroke-width="4.2" stroke-opacity="0.65"/>
<path d="M357 536h0M314 474h0M435 498h0M341 517h0M304 480h0M427 527h0M309 477h0M310 474h0M319 478h0M316 500h0M433 502h0M317 498h0M314 491h0M428 527h0M304 504h0M303 498h0M306 474h0M351 524h0M434 509h0M304 479h0M353 511h0M317 477h0M305 498h0M342 529h0M313 478h0M421 506h0M308 512h0M299 499h0" stroke="#c0c2d8" stroke-width="4.1" stroke-opacity="0.55"/>
<path d="M388 511h0M388 534h0M393 514h0M394 542h0M379 536h0M394 539h0M387 541h0M396 555h0M394 555h0M387 570h0M385 538h0M389 561h0M385 537h0M382 547h0" stroke="#c0c2d8" stroke-width="4.1" stroke-opacity="0.5"/>
<path d="M148 529h0M220 511h0M75 501h0M160 546h0M196 514h0M222 532h0M277 512h0M182 523h0M73 531h0M264 523h0M116 522h0M194 519h0M231 541h0M146 515h0M155 507h0M79 527h0M114 534h0M107 522h0M78 519h0M262 521h0M67 539h0M144 533h0M195 532h0M159 540h0M155 527h0M268 519h0M70 530h0M230 513h0M150 508h0M117 524h0M78 529h0M267 534h0M275 526h0M183 519h0M71 547h0M198 512h0M104 513h0M280 529h0M112 528h0M63 517h0M150 544h0M151 511h0M60 525h0M154 487h0M192 520h0M120 511h0M272 516h0M229 526h0M139 525h0M183 512h0M228 529h0M79 539h0M141 524h0M76 523h0M227 525h0" stroke="#c0c2d8" stroke-width="4.1" stroke-opacity="0.7"/>
<path d="M715 134h0M713 140h0M714 148h0M707 120h0M686 140h0M667 143h0M725 132h0M682 136h0M679 151h0M679 145h0M686 141h0M674 133h0M710 124h0M669 137h0M668 143h0" stroke="#c0c2d8" stroke-width="3.8" stroke-opacity="0.65"/>
<path d="M525 125h0M515 131h0M528 131h0M523 160h0M525 146h0M524 173h0M523 168h0" stroke="#c0c2d8" stroke-width="3.8" stroke-opacity="0.7"/>
<path d="M438 158h0M356 160h0M107 161h0M343 169h0M106 189h0M273 161h0M224 166h0M109 164h0M431 167h0M236 163h0M153 152h0M261 166h0M77 162h0M437 160h0M395 151h0M386 166h0M340 157h0M314 177h0M116 149h0M300 163h0M104 156h0M69 163h0M269 172h0M438 163h0M224 160h0M382 158h0M425 155h0M111 151h0M110 154h0M316 169h0M270 165h0M356 152h0M227 177h0M102 155h0M232 162h0M391 154h0M346 168h0M221 171h0M260 154h0M389 154h0M385 155h0M268 165h0M63 169h0M303 169h0" stroke="#c0c2d8" stroke-width="4.4" stroke-opacity="0.9"/>
<path d="M598 528h0M555 524h0M673 499h0M683 494h0M721 526h0M682 521h0M629 547h0M684 502h0M627 544h0M516 520h0M597 543h0M555 539h0M550 533h0M512 541h0M674 494h0M669 484h0M520 541h0M671 484h0M562 535h0M675 505h0M605 529h0M720 537h0M714 508h0M520 540h0M721 535h0M507 542h0M684 490h0M668 502h0M601 538h0M667 519h0M672 487h0M671 522h0M549 533h0M606 529h0M685 485h0M676 515h0M602 520h0M562 531h0M604 536h0M635 538h0M557 542h0M548 533h0M553 531h0M596 531h0M679 521h0M722 532h0M684 497h0M681 506h0M678 483h0M685 491h0" stroke="#c0c2d8" stroke-width="4.2" stroke-opacity="0.78"/>
<path d="M512 158h0M525 142h0M527 129h0M525 156h0M520 120h0M521 147h0M526 154h0M513 140h0" stroke="#c0c2d8" stroke-width="3.8" stroke-opacity="0.7"/>
<path d="M70 534h0M230 528h0M157 523h0M111 513h0M275 538h0M264 525h0M160 516h0M158 537h0M111 523h0M75 510h0M231 531h0M156 539h0M259 531h0M73 530h0M261 526h0M154 523h0M158 538h0M233 509h0M201 503h0M264 503h0M150 512h0M228 508h0M235 526h0M148 519h0M262 522h0M155 526h0M225 516h0M199 511h0M278 507h0M159 545h0M185 508h0M192 512h0M187 508h0M142 518h0M233 523h0M234 492h0M276 529h0M114 528h0M225 535h0M274 526h0M118 517h0M78 519h0M80 510h0M80 527h0M105 536h0M269 514h0M105 516h0M197 507h0" stroke="#c0c2d8" stroke-width="4.1" stroke-opacity="0.7"/>
<path d="M606 184h0M601 73h0M552 162h0M600 187h0M554 193h0M547 97h0M556 138h0M597 96h0M596 156h0M554 99h0M555 100h0M550 98h0M564 121h0M645 148h0M597 183h0M560 144h0M564 162h0M601 135h0M600 63h0M597 190h0M564 133h0M592 124h0M565 102h0M560 141h0M562 77h0M556 86h0M562 104h0M627 118h0M551 97h0M632 111h0M554 124h0M597 123h0M595 177h0M602 191h0M599 133h0M630 140h0M598 132h0M590 163h0M600 169h0M589 192h0M595 204h0M598 83h0M635 167h0M587 139h0M553 211h0M563 129h0M627 145h0M562 160h0M589 114h0M559 93h0M595 126h0" stroke="#c0c2d8" stroke-width="3.8" stroke-opacity="0.6"/>
<path d="M842 171h0M796 144h0M831 171h0M829 176h0M797 150h0M880 123h0M886 151h0M752 115h0M832 172h0M761 160h0M874 138h0M876 128h0M799 128h0M750 194h0M835 176h0M791 164h0M830 162h0M790 196h0M803 140h0M793 124h0M799 196h0M839 178h0M754 125h0M754 112h0M869 196h0M877 115h0M750 207h0M790 125h0M794 97h0M876 145h0M841 169h0M752 133h0M845 162h0M789 128h0M792 168h0M805 152h0M881 108h0M766 138h0M833 170h0M766 152h0M798 136h0M876 105h0" stroke="#c0c2d8" stroke-width="3.8" stroke-opacity="0.55"/>
<path d="M674 143h0M715 142h0M709 132h0M720 143h0M718 148h0M677 133h0M675 148h0M681 132h0M675 173h0M676 134h0M707 129h0M684 137h0M680 157h0M668 92h0" stroke="#c0c2d8" stroke-width="3.8" stroke-opacity="0.65"/>
<path d="M300 502h0M426 521h0M314 473h0M311 468h0M302 502h0M432 528h0M315 491h0M302 505h0M428 509h0M319 489h0M303 499h0M310 505h0M302 476h0M312 472h0M300 496h0M313 512h0M303 490h0M312 481h0M429 518h0M307 467h0M303 473h0M358 491h0M302 472h0M308 474h0M315 497h0M316 504h0M318 497h0M351 521h0M425 521h0M305 497h0" stroke="#c0c2d8" stroke-width="4.1" stroke-opacity="0.55"/>
<path d="M757 513h0M753 533h0M884 536h0M805 528h0M843 523h0M806 526h0M840 521h0M765 532h0M756 544h0M841 512h0M866 540h0M753 512h0M749 530h0M879 526h0M880 528h0M869 520h0" stroke="#c0c2d8" stroke-width="4.2" stroke-opacity="0.65"/>
<path d="M396 548h0M391 541h0M394 535h0M389 542h0M394 514h0M382 526h0M391 543h0M397 510h0M387 539h0M397 509h0M397 543h0M399 538h0M397 521h0M382 535h0" stroke="#c0c2d8" stroke-width="4.1" stroke-opacity="0.5"/>
<path d="M318 490h0M305 497h0M311 503h0M310 488h0M433 526h0M306 474h0M306 468h0M354 506h0M308 485h0M317 508h0M313 498h0M312 508h0M341 511h0M303 478h0M308 473h0M315 476h0M303 482h0M350 511h0M345 516h0M313 485h0M342 499h0M358 538h0M439 510h0M342 508h0" stroke="#c0c2d8" stroke-width="4.1" stroke-opacity="0.55"/>
<path d="M384 507h0M390 534h0M384 535h0M387 542h0M398 539h0M382 544h0M385 519h0M391 506h0M382 522h0M388 561h0M394 503h0M392 537h0M397 533h0M389 545h0M389 529h0M383 548h0" stroke="#c0c2d8" stroke-width="4.1" stroke-opacity="0.5"/>
<path d="M66 167h0M61 151h0M433 171h0M279 176h0M308 185h0M347 176h0M119 145h0M431 164h0M118 169h0M300 171h0M61 159h0M60 156h0M418 155h0M429 157h0M270 172h0M386 150h0M106 155h0M106 163h0M342 154h0M67 143h0M263 192h0M421 159h0M239 163h0M143 167h0M73 157h0M390 154h0M152 159h0M151 147h0M397 156h0M228 162h0M273 166h0M261 172h0M339 143h0M387 170h0M305 153h0M318 156h0M344 151h0M266 177h0M142 167h0M111 138h0" stroke="#c0c2d8" stroke-width="4.4" stroke-opacity="0.9"/>
<path d="M598 122h0M600 112h0M589 140h0M595 110h0M594 127h0M592 171h0M590 98h0M643 134h0M557 93h0M638 103h0M630 144h0M590 170h0M566 156h0M601 110h0M603 122h0M641 109h0M593 179h0M600 174h0M558 142h0M604 113h0M637 133h0M597 135h0M645 99h0M557 76h0M557 163h0M586 106h0M552 168h0M598 99h0M590 133h0M565 184h0M639 112h0M559 99h0M634 112h0M591 154h0M629 111h0M549 191h0M604 99h0M554 171h0M599 132h0M559 95h0M548 100h0" stroke="#c0c2d8" stroke-width="3.8" stroke-opacity="0.6"/>
<path d="M754 532h0M759 518h0M864 539h0M842 524h0M788 537h0M788 513h0M754 548h0M865 516h0M754 527h0M806 528h0M758 518h0M793 523h0M841 525h0M753 522h0M752 525h0M883 535h0M843 526h0M885 526h0M873 520h0M845 527h0M796 541h0M801 531h0M826 529h0M841 532h0M873 519h0" stroke="#c0c2d8" stroke-width="4.2" stroke-opacity="0.65"/>
<path d="M680 147h0M668 149h0M725 108h0M720 163h0M686 141h0M681 141h0M717 120h0M719 126h0M723 157h0M718 125h0M721 131h0M706 131h0M714 131h0M681 153h0M714 124h0M682 150h0M671 112h0M673 125h0M708 151h0M685 132h0" stroke="#c0c2d8" stroke-width="3.8" stroke-opacity="0.65"/>
<path d="M528 133h0M514 149h0M520 138h0M522 112h0M525 139h0M509 160h0" stroke="#c0c2d8" stroke-width="3.8" stroke-opacity="0.7"/>
<path d="M547 534h0M516 533h0M596 551h0M642 550h0M675 487h0M676 492h0M522 524h0M516 551h0M636 547h0M675 496h0M676 497h0M683 517h0M556 534h0M681 498h0M668 527h0M557 539h0M684 496h0M669 483h0M556 535h0M675 506h0M683 515h0M680 515h0M681 491h0M681 527h0M710 529h0M667 504h0M590 529h0M523 537h0M642 544h0M680 517h0M558 514h0M564 547h0M685 513h0M684 512h0M683 506h0M523 545h0M684 516h0M548 542h0M680 501h0M672 499h0M635 521h0M678 511h0M628 540h0" stroke="#c0c2d8" stroke-width="4.2" stroke-opacity="0.78"/>
<path d="M275 523h0M180 530h0M150 534h0M240 526h0M102 531h0M188 513h0M81 523h0M194 534h0M268 512h0M106 530h0M155 523h0M268 515h0M190 495h0M108 516h0M236 523h0M145 525h0M116 516h0M270 516h0M142 522h0M75 519h0M183 525h0M62 521h0M76 526h0M154 539h0M263 540h0M114 537h0M155 524h0M148 515h0M156 506h0M148 524h0M62 505h0M226 519h0M78 518h0M116 526h0M234 548h0M116 532h0M268 513h0M228 514h0M112 524h0M71 504h0M77 515h0" stroke="#c0c2d8" stroke-width="4.1" stroke-opacity="0.7"/>
<path d="M835 178h0M799 110h0M841 162h0M796 152h0M763 176h0M872 189h0M884 155h0M804 179h0M827 174h0M881 144h0M802 190h0M836 167h0M762 105h0M798 94h0M841 173h0M750 139h0M757 157h0M826 178h0M873 98h0M883 92h0M761 154h0M832 162h0M831 158h0M756 167h0M805 177h0M791 115h0M871 134h0M866 124h0M759 111h0M761 178h0M759 142h0M800 85h0M842 172h0M792 141h0M758 103h0M839 177h0M797 153h0M843 184h0M760 123h0M747 134h0M838 182h0M794 201h0M760 113h0M791 123h0M800 117h0M838 177h0M748 148h0M840 184h0M786 107h0M754 128h0M799 171h0M871 159h0M882 145h0M788 130h0M834 172h0M786 156h0" stroke="#c0c2d8" stroke-width="3.8" stroke-opacity="0.55"/>
<path d="M788 182h0M761 192h0M797 148h0M805 160h0M842 148h0M788 194h0M760 168h0M845 128h0M765 151h0M881 129h0M802 171h0M801 169h0M878 96h0M750 165h0M841 144h0M754 203h0M761 195h0M748 199h0M841 140h0M786 150h0M884 153h0M757 188h0M840 141h0M753 175h0M758 187h0M793 177h0M757 211h0M867 99h0M883 140h0M873 109h0M836 136h0M838 96h0M827 132h0M802 111h0" stroke="#f5cbd3" stroke-width="3.8" stroke-opacity="0.55"/>
<path d="M429 128h0M273 129h0M390 130h0M102 182h0M76 212h0M274 139h0M112 181h0M316 139h0M339 193h0M259 159h0M65 196h0M69 194h0M385 127h0M393 117h0M266 119h0M269 135h0M301 137h0M341 208h0M353 185h0M228 186h0M349 193h0M239 186h0M147 195h0M435 133h0M235 188h0M117 179h0M67 172h0M110 192h0M76 213h0M148 201h0M345 199h0M228 199h0M394 128h0M116 183h0M341 185h0M67 200h0M224 188h0M420 146h0M267 141h0M156 192h0M393 118h0M353 190h0M232 195h0M240 182h0M275 129h0M234 210h0M112 190h0M77 186h0M115 205h0M103 194h0M315 148h0M160 193h0M72 191h0M157 194h0M301 136h0M80 207h0M422 136h0M340 189h0M356 194h0M75 203h0M234 194h0M270 130h0M271 145h0M428 140h0M69 208h0M391 136h0M233 185h0M308 151h0M352 203h0M232 193h0M319 145h0M345 204h0M352 198h0M68 203h0M312 123h0M223 181h0M276 133h0M235 178h0M429 135h0M153 209h0" stroke="#f5cbd3" stroke-width="4.4" stroke-opacity="0.9"/>
<path d="M591 98h0M600 145h0M597 95h0M629 184h0M551 150h0M595 209h0M561 187h0M561 143h0M646 138h0M566 127h0M601 254h0M634 181h0M587 156h0M553 160h0M644 143h0M547 105h0M550 133h0M552 160h0M600 245h0M562 161h0M559 147h0M560 117h0M595 181h0M565 148h0M606 155h0M643 187h0M627 186h0M603 168h0M590 121h0M606 114h0M554 192h0M643 165h0M644 123h0M551 134h0M556 170h0M551 139h0M592 259h0M592 186h0M641 180h0M556 164h0M564 103h0M635 163h0M556 188h0M646 185h0M594 140h0" stroke="#f5cbd3" stroke-width="3.8" stroke-opacity="0.6"/>
<path d="M765 574h0M879 569h0M753 575h0M787 572h0M762 564h0M763 580h0M803 550h0M835 545h0M875 548h0M832 552h0M787 570h0M748 570h0M754 556h0M798 585h0M826 558h0M881 548h0M753 585h0M842 556h0M786 556h0M755 563h0M843 596h0M839 566h0M796 561h0M803 563h0M837 569h0M755 577h0" stroke="#f5cbd3" stroke-width="4.2" stroke-opacity="0.65"/>
<path d="M425 535h0M438 534h0M428 537h0M434 539h0M354 555h0M348 528h0M344 549h0M424 541h0M420 541h0M352 545h0M359 540h0M343 551h0M426 564h0M315 551h0" stroke="#f5cbd3" stroke-width="4.1" stroke-opacity="0.55"/>
<path d="M116 424h0M266 571h0M63 475h0M236 468h0M62 486h0M236 491h0M108 403h0M274 588h0M108 473h0M66 446h0M190 531h0M116 476h0M146 474h0M77 466h0M152 473h0M198 550h0M271 561h0M229 491h0M108 481h0M152 487h0M188 557h0M76 432h0M233 505h0M112 430h0M64 422h0M65 481h0M189 578h0M181 561h0M65 434h0M267 584h0M78 470h0M274 588h0M275 557h0M106 503h0M188 560h0M182 552h0M74 482h0M74 471h0M263 560h0M70 479h0M159 470h0M154 496h0M277 567h0M193 544h0M104 468h0M77 451h0M157 475h0M108 472h0M115 481h0M192 543h0M71 419h0" stroke="#f5cbd3" stroke-width="4.1" stroke-opacity="0.7"/>
<path d="M518 485h0M559 483h0M630 483h0M715 497h0M599 482h0M521 488h0M600 501h0M514 473h0M638 467h0M560 492h0M709 487h0M524 475h0M510 468h0M520 486h0M597 458h0M550 490h0M604 489h0M527 494h0M564 472h0M630 498h0M718 526h0M564 498h0M595 490h0M644 480h0M566 500h0M639 487h0M596 507h0M592 504h0M711 496h0M719 491h0M562 468h0M720 491h0M720 495h0" stroke="#f5cbd3" stroke-width="4.2" stroke-opacity="0.78"/>
<path d="M396 522h0M392 473h0M390 474h0M384 507h0M397 496h0M394 507h0M385 496h0M386 497h0M395 482h0M385 509h0" stroke="#f5cbd3" stroke-width="4.1" stroke-opacity="0.5"/>
<path d="M672 100h0M674 145h0M673 94h0M711 74h0M724 137h0M713 79h0M671 72h0M684 112h0M722 65h0M707 118h0M679 88h0M724 104h0" stroke="#f5cbd3" stroke-width="3.8" stroke-opacity="0.65"/>
<path d="M509 189h0M517 141h0M522 201h0M511 209h0M514 184h0M523 167h0" stroke="#f5cbd3" stroke-width="3.8" stroke-opacity="0.7"/>
<path d="M74 483h0M280 557h0M117 488h0M228 485h0M149 446h0M272 562h0M104 483h0M109 466h0M259 551h0M183 559h0M77 475h0M227 476h0M197 567h0M66 434h0M183 551h0M71 493h0M66 484h0M154 443h0M159 486h0M265 556h0M119 483h0M269 579h0M143 433h0M229 482h0M273 554h0M228 492h0M193 548h0M75 474h0M115 478h0M181 559h0M112 455h0M195 573h0M74 483h0M116 451h0M80 497h0M186 555h0M194 547h0M111 444h0M74 486h0M189 583h0M114 458h0M272 558h0M268 552h0M106 471h0M64 488h0M119 474h0" stroke="#f5cbd3" stroke-width="4.1" stroke-opacity="0.7"/>
<path d="M426 132h0M398 131h0M277 147h0M231 196h0M347 164h0M157 197h0M66 196h0M315 115h0M260 151h0M313 132h0M263 130h0M148 203h0M220 180h0M430 138h0M76 201h0M342 189h0M306 144h0M342 193h0M77 184h0M357 198h0M306 128h0M75 187h0M240 192h0M341 196h0M421 137h0M390 114h0M399 121h0M381 132h0M437 141h0M438 140h0M115 197h0M105 182h0M341 191h0M76 202h0M231 201h0M303 138h0M234 188h0M347 199h0M160 193h0M73 202h0M155 208h0M424 139h0M344 197h0M431 121h0M63 215h0M260 127h0M106 189h0M62 200h0M104 184h0M308 141h0M378 123h0M113 179h0M343 188h0M348 204h0M71 196h0M418 135h0M422 134h0M312 157h0M388 133h0M71 209h0M118 201h0M351 177h0M109 204h0M149 179h0M231 192h0M75 189h0" stroke="#f5cbd3" stroke-width="4.4" stroke-opacity="0.9"/>
<path d="M802 559h0M841 560h0M835 581h0M884 558h0M833 557h0M878 571h0M799 577h0M836 565h0M804 572h0M870 566h0M874 596h0M798 571h0M831 562h0M882 568h0M885 563h0M876 560h0M883 569h0M878 564h0M841 556h0M829 565h0M786 547h0M885 557h0" stroke="#f5cbd3" stroke-width="4.2" stroke-opacity="0.65"/>
<path d="M513 211h0M520 206h0" stroke="#f5cbd3" stroke-width="3.8" stroke-opacity="0.7"/>
<path d="M644 160h0M565 111h0M552 193h0M550 204h0M562 96h0M634 138h0M564 198h0M628 131h0M638 200h0M644 179h0M597 155h0M598 92h0M556 181h0M565 166h0M629 156h0M554 183h0M561 192h0M563 190h0M553 101h0M601 190h0M551 165h0M566 163h0M601 196h0M646 183h0M562 122h0M645 173h0M606 120h0M551 172h0M605 111h0M595 166h0M599 158h0" stroke="#f5cbd3" stroke-width="3.8" stroke-opacity="0.6"/>
<path d="M832 122h0M754 223h0M754 165h0M829 146h0M868 88h0M879 139h0M838 141h0M802 141h0M791 155h0M764 178h0M877 98h0M882 130h0M764 148h0M844 113h0M834 125h0M871 108h0M881 117h0M868 112h0M836 135h0M751 190h0M800 162h0M883 137h0M828 111h0M826 98h0M792 206h0M786 111h0M867 118h0M839 135h0M842 94h0M766 184h0M831 108h0M801 131h0M867 116h0M870 91h0M793 59h0M880 99h0" stroke="#f5cbd3" stroke-width="3.8" stroke-opacity="0.55"/>
<path d="M352 554h0M311 543h0M315 525h0M341 531h0M355 547h0M434 530h0M424 535h0M348 575h0" stroke="#f5cbd3" stroke-width="4.1" stroke-opacity="0.55"/>
<path d="M628 499h0M639 500h0M719 502h0M598 481h0M645 497h0M558 474h0M635 478h0M599 491h0M713 495h0M556 485h0M523 500h0M590 455h0M720 513h0M715 483h0M509 484h0M509 487h0M594 468h0M634 477h0M713 480h0M524 487h0M553 492h0M565 488h0M527 472h0M550 511h0M562 480h0M725 501h0M512 477h0M720 499h0M723 497h0M633 479h0M599 500h0M710 496h0M632 481h0M723 506h0M724 495h0M556 472h0M724 494h0M509 478h0" stroke="#f5cbd3" stroke-width="4.2" stroke-opacity="0.78"/>
<path d="M715 113h0M717 107h0M722 76h0M678 93h0M709 88h0M715 36h0M670 94h0M670 44h0M683 93h0M718 103h0M670 78h0" stroke="#f5cbd3" stroke-width="3.8" stroke-opacity="0.65"/>
<path d="M381 486h0M389 452h0M393 493h0M386 492h0" stroke="#f5cbd3" stroke-width="4.1" stroke-opacity="0.5"/>
<path d="M185 565h0M117 491h0M186 542h0M225 512h0M159 485h0M227 491h0M261 558h0M272 590h0M238 497h0M109 488h0M110 482h0M259 545h0M189 554h0M235 502h0M61 476h0M228 497h0M112 480h0M111 493h0M180 541h0M226 470h0M224 476h0M230 500h0M146 493h0M66 485h0M263 558h0M261 588h0M73 493h0M153 486h0M150 500h0M227 503h0M143 471h0M107 466h0M230 483h0M103 487h0M181 561h0M118 465h0M266 571h0M157 488h0M192 581h0M144 502h0M154 469h0M71 498h0M194 560h0M105 469h0M267 577h0M72 487h0M270 565h0M73 484h0M152 464h0" stroke="#f5cbd3" stroke-width="4.1" stroke-opacity="0.7"/>
<path d="M153 197h0M346 192h0M391 117h0M103 182h0M299 115h0M142 208h0M419 145h0M147 184h0M400 128h0M396 125h0M143 185h0M113 191h0M420 138h0M431 136h0M69 209h0M312 127h0M308 123h0M276 140h0M260 135h0M299 126h0M111 189h0M235 187h0M219 187h0M432 144h0M319 130h0M103 219h0M319 139h0M419 129h0M236 185h0M235 184h0M159 185h0M397 126h0M73 173h0M430 136h0M233 179h0M343 194h0M228 194h0M147 196h0M156 203h0M240 190h0M268 130h0M146 197h0M307 151h0M233 199h0M432 123h0M388 130h0M104 204h0M79 175h0M76 197h0M427 136h0M381 126h0M67 187h0M150 180h0M380 118h0M357 188h0M149 179h0M142 183h0M272 135h0M116 194h0M219 193h0M267 139h0M70 205h0M379 129h0M395 121h0M106 210h0M104 192h0M394 125h0M143 193h0M272 135h0M319 132h0M231 202h0M266 136h0M355 192h0M235 193h0M76 203h0M310 134h0M150 200h0M110 207h0M304 135h0M143 195h0" stroke="#f5cbd3" stroke-width="4.4" stroke-opacity="0.9"/>
<path d="M758 562h0M875 560h0M786 549h0M843 562h0M871 568h0M829 560h0M794 567h0M830 567h0M761 586h0M756 564h0M750 558h0M870 549h0M878 558h0M843 590h0M755 561h0" stroke="#f5cbd3" stroke-width="4.2" stroke-opacity="0.65"/>
<path d="M560 155h0M591 183h0M596 203h0M592 125h0M593 134h0M551 119h0M549 133h0M566 115h0M631 167h0M631 139h0M553 94h0M558 163h0M595 141h0M604 127h0M561 178h0M556 211h0M600 124h0M644 116h0M602 140h0M603 171h0M597 182h0M636 207h0M642 203h0M602 178h0M563 201h0M592 149h0M591 208h0M593 142h0M553 181h0M602 125h0M602 199h0M562 216h0M634 176h0M556 118h0M553 166h0" stroke="#f5cbd3" stroke-width="3.8" stroke-opacity="0.6"/>
<path d="M724 485h0M712 485h0M514 456h0M588 481h0M523 491h0M523 497h0M712 477h0M588 507h0M551 485h0M637 499h0M597 490h0M628 506h0M602 500h0M555 503h0M526 473h0M548 506h0M724 486h0M720 505h0M512 475h0M599 480h0M638 506h0M526 480h0M719 513h0M524 494h0M596 486h0M563 447h0M637 489h0M719 493h0M598 478h0M588 473h0M517 479h0M518 500h0M631 491h0M634 483h0M590 480h0M559 502h0M523 477h0M560 482h0M550 489h0" stroke="#f5cbd3" stroke-width="4.2" stroke-opacity="0.78"/>
<path d="M805 132h0M796 183h0M803 126h0M842 104h0M831 123h0M830 130h0M874 130h0M878 92h0M748 159h0M829 111h0M800 116h0M877 104h0M870 97h0M881 106h0M871 119h0M829 115h0M758 200h0M796 201h0M867 124h0M836 116h0M757 180h0M763 169h0M798 220h0M793 123h0M833 118h0M748 178h0M760 207h0M752 201h0M867 127h0M881 137h0M831 106h0M877 76h0M754 181h0M872 137h0M759 186h0M761 205h0M788 173h0M785 118h0M830 132h0M748 192h0M803 140h0M881 121h0M790 180h0" stroke="#f5cbd3" stroke-width="3.8" stroke-opacity="0.55"/>
<path d="M725 106h0M668 102h0M712 66h0M683 125h0M722 105h0M680 62h0M719 62h0M668 91h0M681 95h0M681 112h0M711 148h0" stroke="#f5cbd3" stroke-width="3.8" stroke-opacity="0.65"/>
<path d="M522 181h0M514 186h0M512 184h0M522 179h0M519 214h0M524 212h0M517 172h0M519 208h0M513 154h0M513 198h0" stroke="#f5cbd3" stroke-width="3.8" stroke-opacity="0.7"/>
<path d="M386 503h0M389 494h0" stroke="#f5cbd3" stroke-width="4.1" stroke-opacity="0.5"/>
<path d="M353 560h0M355 538h0M428 540h0M344 537h0M345 570h0M339 539h0M344 530h0M341 547h0M340 539h0M342 548h0M423 548h0M344 544h0M354 576h0" stroke="#f5cbd3" stroke-width="4.1" stroke-opacity="0.55"/>
<path d="M798 520h0M748 519h0M798 535h0M796 511h0M881 527h0M837 525h0M751 507h0M749 520h0M798 520h0M802 518h0M877 527h0M875 517h0M804 526h0M864 525h0M840 521h0M826 522h0M881 532h0M794 519h0M865 519h0M803 538h0M765 536h0M834 523h0M745 543h0M793 532h0M757 531h0M790 514h0M787 516h0M845 517h0M882 531h0" stroke="#b3bbd4" stroke-width="4.2" stroke-opacity="0.65"/>
<path d="M596 544h0M558 525h0M710 525h0M549 535h0M568 550h0M707 531h0M528 548h0M602 546h0M518 539h0M551 543h0M720 551h0M636 559h0M509 520h0M516 534h0M524 564h0M549 550h0M627 544h0M594 549h0M647 559h0M707 542h0M707 525h0M640 530h0M714 542h0M527 535h0M630 537h0M510 524h0M605 539h0M557 530h0M642 541h0M557 548h0M590 551h0M708 555h0M557 533h0M557 544h0" stroke="#b3bbd4" stroke-width="4.2" stroke-opacity="0.78"/>
<path d="M111 528h0M236 539h0M104 531h0M118 536h0M106 528h0M149 531h0M272 532h0M194 501h0M69 545h0M194 499h0M229 516h0M179 506h0M236 514h0M274 503h0M262 508h0M220 529h0M272 522h0M182 509h0M195 519h0M145 530h0M272 512h0M184 510h0M109 537h0M182 525h0M234 535h0M157 544h0M277 507h0M105 521h0M62 536h0M69 515h0M239 529h0M142 543h0M158 529h0M278 506h0M152 515h0M231 539h0" stroke="#b3bbd4" stroke-width="4.1" stroke-opacity="0.7"/>
<path d="M561 125h0M642 118h0M645 102h0M634 118h0M558 160h0M590 107h0M556 53h0M600 105h0M640 140h0M556 167h0M597 96h0M596 156h0M564 132h0M551 142h0M594 108h0M560 107h0M566 101h0M562 150h0M555 122h0M599 98h0M566 133h0M549 143h0M592 107h0M629 131h0M588 103h0M592 103h0M593 114h0M603 89h0M551 101h0M565 175h0M641 115h0M560 70h0M548 136h0" stroke="#b3bbd4" stroke-width="3.8" stroke-opacity="0.6"/>
<path d="M751 150h0M881 151h0M865 139h0M868 171h0M759 106h0M876 191h0M801 169h0M800 142h0M798 118h0M871 156h0M747 139h0M842 166h0M801 95h0M759 122h0M878 157h0M747 91h0M879 136h0M866 150h0M876 137h0M746 148h0M878 218h0M766 145h0M792 133h0M790 128h0M799 126h0M763 94h0M870 150h0M764 159h0M763 82h0M885 132h0M886 156h0M749 111h0M877 141h0M760 68h0M759 89h0M758 105h0M869 156h0M792 119h0M793 115h0M878 119h0" stroke="#b3bbd4" stroke-width="3.8" stroke-opacity="0.55"/>
<path d="M682 135h0M677 150h0M709 138h0M709 124h0M675 143h0M706 136h0M709 143h0M718 136h0M685 149h0M724 148h0M720 138h0M709 152h0M724 141h0M668 183h0M709 142h0M675 102h0M708 117h0M705 134h0M712 166h0M707 155h0M711 143h0M726 146h0M720 152h0" stroke="#b3bbd4" stroke-width="3.8" stroke-opacity="0.65"/>
<path d="M522 128h0M511 123h0M514 109h0M513 129h0M523 138h0M521 135h0M511 149h0" stroke="#b3bbd4" stroke-width="3.8" stroke-opacity="0.7"/>
<path d="M394 564h0M385 527h0M380 543h0M395 534h0M397 542h0M386 560h0M394 535h0M380 545h0M398 539h0" stroke="#b3bbd4" stroke-width="4.1" stroke-opacity="0.5"/>
<path d="M71 139h0M220 170h0M420 171h0M427 173h0M116 141h0M434 165h0M268 176h0M261 153h0M78 149h0M71 167h0M150 170h0M102 148h0M346 164h0M266 159h0M61 155h0M422 160h0M106 165h0M384 151h0M143 178h0M240 157h0M147 151h0M225 162h0M343 163h0M268 180h0M65 146h0M305 189h0M426 149h0M383 148h0M104 155h0M434 165h0M62 154h0M421 148h0M437 160h0M309 176h0M66 156h0M309 177h0M220 166h0M433 170h0M379 158h0M309 174h0M423 163h0M272 169h0M380 156h0M99 152h0M65 145h0" stroke="#b3bbd4" stroke-width="4.4" stroke-opacity="0.9"/>
<path d="M352 516h0M419 501h0M345 512h0M351 500h0M424 523h0M353 529h0M342 525h0M356 526h0M358 500h0M421 510h0M431 492h0M347 510h0M358 517h0M355 496h0M344 506h0M424 505h0M345 530h0M355 508h0M428 523h0M357 500h0" stroke="#b3bbd4" stroke-width="4.1" stroke-opacity="0.55"/>
<path d="M185 189h0" stroke="#b3bbd4" stroke-width="4.4"/>
<path d="M640 523h0M595 525h0M715 533h0M553 538h0M550 529h0M556 530h0M515 536h0M548 559h0M511 543h0M599 521h0M707 530h0M605 542h0M586 535h0M510 536h0M520 545h0M555 553h0M524 550h0M518 542h0M605 531h0M559 548h0M710 535h0M716 541h0M641 538h0M646 543h0M526 537h0M562 526h0M564 553h0M587 529h0M553 549h0M595 552h0M723 522h0M641 554h0M631 534h0" stroke="#b3bbd4" stroke-width="4.2" stroke-opacity="0.78"/>
<path d="M352 525h0M423 503h0M342 499h0M422 505h0M431 517h0M429 499h0M350 498h0M430 509h0M426 504h0M437 506h0M357 517h0M439 513h0M422 495h0M338 490h0M431 515h0M346 517h0M350 529h0M428 514h0" stroke="#b3bbd4" stroke-width="4.1" stroke-opacity="0.55"/>
<path d="M553 108h0M602 140h0M558 93h0M597 123h0M602 141h0M564 151h0M595 116h0M556 165h0M591 119h0M597 97h0M633 127h0M567 111h0M607 118h0M561 119h0M558 163h0M595 143h0M550 79h0M562 65h0M560 116h0M589 140h0M602 147h0M596 136h0M637 96h0M630 116h0M632 96h0M556 130h0M563 124h0M555 155h0M597 149h0M593 82h0M552 106h0M601 156h0" stroke="#b3bbd4" stroke-width="3.8" stroke-opacity="0.6"/>
<path d="M390 518h0M381 535h0M394 531h0M391 533h0M378 544h0M396 565h0M387 520h0M387 541h0M383 551h0M396 533h0M388 548h0M381 554h0M385 549h0M387 550h0" stroke="#b3bbd4" stroke-width="4.1" stroke-opacity="0.5"/>
<path d="M236 515h0M263 527h0M276 511h0M146 536h0M182 517h0M110 532h0M77 528h0M276 529h0M278 522h0M152 530h0M274 515h0M112 541h0M269 517h0M230 530h0M264 528h0M226 528h0M238 539h0M106 540h0M226 535h0M226 532h0M179 496h0M222 534h0M62 541h0M229 503h0M184 500h0M269 520h0M235 549h0M267 514h0M149 536h0M235 533h0M184 498h0M236 520h0M182 530h0M277 514h0M239 516h0M235 525h0M226 518h0M195 497h0" stroke="#b3bbd4" stroke-width="4.1" stroke-opacity="0.7"/>
<path d="M868 540h0M841 525h0M753 521h0M745 536h0M835 522h0M787 525h0M846 517h0M868 531h0M748 526h0M826 521h0M749 516h0M798 533h0M750 537h0M754 518h0M874 526h0M871 530h0M826 539h0M801 526h0M879 515h0M788 519h0M755 516h0M761 512h0" stroke="#b3bbd4" stroke-width="4.2" stroke-opacity="0.65"/>
<path d="M800 104h0M791 82h0M789 132h0M750 122h0M795 94h0M870 174h0M763 119h0M865 157h0M883 161h0M794 94h0M798 165h0M794 156h0M805 136h0M789 107h0M765 133h0M798 92h0M758 129h0M804 114h0M753 157h0M869 154h0M802 164h0M750 162h0M749 130h0M748 140h0M800 118h0M752 99h0M786 115h0M801 65h0M803 140h0M765 105h0M792 140h0M760 100h0M746 136h0M886 156h0M791 142h0M793 182h0M789 110h0M757 155h0M880 147h0M761 150h0M763 109h0M757 85h0M880 102h0M747 115h0" stroke="#b3bbd4" stroke-width="3.8" stroke-opacity="0.55"/>
<path d="M221 151h0M65 147h0M305 141h0M348 159h0M153 150h0M65 160h0M148 148h0M427 168h0M381 154h0M346 167h0M102 154h0M269 174h0M103 171h0M121 156h0M351 167h0M228 161h0M351 163h0M388 160h0M344 164h0M148 155h0M238 167h0M380 165h0M429 163h0M313 179h0M232 167h0M278 173h0M439 165h0M238 152h0M117 149h0M263 187h0M270 165h0M80 152h0M65 142h0M75 168h0M426 164h0M160 150h0M101 152h0M395 155h0M301 197h0M78 154h0M223 156h0M437 160h0M157 157h0M116 173h0M228 145h0M317 173h0M74 158h0M261 177h0M270 157h0" stroke="#b3bbd4" stroke-width="4.4" stroke-opacity="0.9"/>
<path d="M715 144h0M677 147h0M718 126h0M685 149h0M723 167h0M718 158h0M686 148h0M680 124h0M685 161h0M707 130h0M687 140h0M672 173h0M715 152h0M670 153h0M676 131h0" stroke="#b3bbd4" stroke-width="3.8" stroke-opacity="0.65"/>
<path d="M514 135h0M509 113h0M518 138h0M519 138h0M517 137h0M522 125h0M508 138h0M513 117h0" stroke="#b3bbd4" stroke-width="3.8" stroke-opacity="0.7"/>
<path d="M709 139h0M718 149h0M687 147h0M710 153h0M673 145h0M723 130h0M713 152h0M676 146h0M709 161h0" stroke="#b3bbd4" stroke-width="3.8" stroke-opacity="0.65"/>
<path d="M869 166h0M801 95h0M793 113h0M869 166h0M793 133h0M793 113h0M800 96h0M763 81h0M885 141h0M874 149h0M804 151h0M800 104h0M758 162h0M793 127h0M804 172h0M875 137h0M873 154h0M797 122h0M787 131h0M796 121h0M748 147h0M753 157h0M786 131h0M791 103h0M756 146h0M764 160h0M871 171h0M792 93h0M753 134h0M869 144h0M766 150h0M764 125h0M872 188h0M798 131h0M746 152h0M795 103h0M750 147h0M766 148h0M871 138h0M885 153h0M880 129h0M803 147h0M866 145h0M865 139h0" stroke="#b3bbd4" stroke-width="3.8" stroke-opacity="0.55"/>
<path d="M339 498h0M340 495h0M355 510h0M429 524h0M419 504h0M354 523h0M428 514h0M438 509h0M418 512h0M351 513h0M339 508h0M430 510h0M355 513h0M428 512h0M352 488h0M436 506h0M340 508h0M356 507h0M438 526h0" stroke="#b3bbd4" stroke-width="4.1" stroke-opacity="0.55"/>
<path d="M259 519h0M145 514h0M220 535h0M273 509h0M140 513h0M221 506h0M236 531h0M75 532h0M151 529h0M237 533h0M67 517h0M188 519h0M103 531h0M78 508h0M79 528h0M259 489h0M77 533h0M199 509h0M263 526h0M152 539h0M278 513h0M279 492h0M147 538h0M81 542h0M231 523h0M237 508h0M275 524h0M73 526h0M279 505h0M225 537h0M230 523h0M271 517h0M77 535h0M75 502h0M63 535h0M228 526h0M224 471h0M220 511h0M278 521h0M108 541h0M278 517h0M155 524h0M270 518h0M61 538h0M276 527h0M235 515h0M142 510h0M152 591h0M141 513h0M196 520h0M276 505h0M119 537h0M115 531h0M68 528h0M118 522h0M180 506h0M179 501h0M155 516h0" stroke="#b3bbd4" stroke-width="4.1" stroke-opacity="0.7"/>
<path d="M597 110h0M593 135h0M634 170h0M557 117h0M636 103h0M565 109h0M638 106h0M643 118h0M564 124h0M561 54h0M549 123h0M561 116h0M562 137h0M597 157h0M552 162h0M632 155h0M600 115h0M644 99h0M589 131h0M562 179h0M594 120h0M631 142h0M634 132h0M600 99h0M604 130h0M644 120h0M551 178h0M549 119h0M592 107h0M644 120h0M564 141h0M599 149h0M562 133h0M594 117h0M588 151h0M552 116h0M592 108h0M599 114h0M566 109h0M564 146h0M555 99h0M554 55h0M596 111h0M594 147h0M557 140h0M557 124h0M560 89h0" stroke="#b3bbd4" stroke-width="3.8" stroke-opacity="0.6"/>
<path d="M527 522h0M526 531h0M564 543h0M724 535h0M607 529h0M554 539h0M633 542h0M563 537h0M604 543h0M606 558h0M724 541h0M561 526h0M603 563h0M547 547h0M726 545h0M641 528h0M547 537h0M720 525h0M709 550h0M591 534h0M559 527h0M603 541h0M640 556h0M637 550h0M640 525h0M508 523h0M549 543h0M512 541h0M524 537h0M526 539h0" stroke="#b3bbd4" stroke-width="4.2" stroke-opacity="0.78"/>
<path d="M316 161h0M396 164h0M342 162h0M78 141h0M161 141h0M152 155h0M154 145h0M264 171h0M431 161h0M433 171h0M107 154h0M120 156h0M103 157h0M435 162h0M340 174h0M383 161h0M428 157h0M155 156h0M114 153h0M116 140h0M355 154h0M427 168h0M398 151h0M225 155h0M308 172h0M110 150h0M106 170h0M66 143h0M356 168h0M224 172h0M158 178h0M119 159h0M432 161h0M74 168h0M430 158h0M149 126h0M341 154h0M232 156h0M220 158h0M260 160h0M355 167h0M304 164h0M392 152h0M73 158h0M427 159h0M384 151h0M315 164h0M385 159h0M267 167h0M151 155h0M421 170h0M300 162h0M341 152h0" stroke="#b3bbd4" stroke-width="4.4" stroke-opacity="0.9"/>
<path d="M789 521h0M789 532h0M799 524h0M762 536h0M885 516h0M793 517h0M833 534h0M868 511h0M763 542h0M871 531h0M765 525h0M787 527h0M879 526h0M877 537h0M804 523h0M749 522h0M765 535h0M752 506h0M872 530h0M806 519h0M872 521h0M827 518h0M760 524h0M833 534h0M786 519h0M755 505h0M880 537h0M866 531h0M876 524h0M798 522h0" stroke="#b3bbd4" stroke-width="4.2" stroke-opacity="0.65"/>
<path d="M383 537h0M393 536h0M382 567h0M393 535h0M396 523h0M389 528h0M395 544h0M391 537h0M388 519h0M385 546h0M391 538h0M385 547h0M390 578h0M393 545h0M388 531h0M391 539h0" stroke="#b3bbd4" stroke-width="4.1" stroke-opacity="0.5"/>
<path d="M511 124h0M521 133h0M507 135h0M523 135h0M508 132h0M512 139h0M517 148h0M523 139h0" stroke="#b3bbd4" stroke-width="3.8" stroke-opacity="0.7"/>
<path d="M836 107h0M838 151h0M828 114h0M835 101h0M833 109h0M835 155h0M803 185h0M841 136h0M833 149h0M837 159h0M833 106h0M801 166h0M828 125h0M840 137h0M785 177h0M792 147h0M829 125h0M797 197h0M790 185h0M827 129h0M841 130h0M831 103h0M792 159h0M829 148h0M830 136h0M843 113h0M831 101h0M845 151h0M876 128h0M830 99h0M802 196h0M833 112h0M839 120h0M834 108h0M825 134h0M828 113h0M885 103h0M827 147h0M829 107h0M841 147h0M845 135h0M790 180h0M841 110h0M835 98h0M797 194h0M830 134h0M826 100h0M835 119h0M841 118h0M841 108h0M826 104h0M787 177h0M877 122h0M833 145h0M827 138h0M835 119h0M803 181h0M832 107h0M805 184h0M837 96h0" stroke="#f6bfc7" stroke-width="3.8" stroke-opacity="0.55"/>
<path d="M311 567h0M311 522h0M314 520h0M305 562h0M307 530h0M303 534h0M306 522h0M353 551h0M314 536h0M301 548h0M317 556h0M309 567h0M305 553h0M307 563h0M435 572h0M316 522h0M312 544h0M301 540h0M319 559h0M316 524h0M343 526h0M308 542h0M313 542h0M423 542h0M431 535h0M431 594h0M306 527h0M306 535h0M315 535h0" stroke="#f6bfc7" stroke-width="4.1" stroke-opacity="0.55"/>
<path d="M868 561h0M825 560h0M792 580h0M796 568h0M841 554h0M797 578h0M879 584h0M803 583h0M881 570h0M868 573h0M753 588h0M748 592h0M828 574h0M838 591h0M867 564h0M878 550h0M834 563h0" stroke="#f6bfc7" stroke-width="4.2" stroke-opacity="0.65"/>
<path d="M520 459h0M681 563h0M605 491h0M685 586h0M710 467h0M711 481h0M513 496h0M561 472h0M646 494h0M553 488h0M676 547h0M509 498h0M714 496h0M685 561h0M712 478h0M594 441h0M714 480h0M685 579h0M548 490h0M523 477h0M604 491h0M555 444h0M715 441h0M521 488h0M557 497h0M713 418h0M516 448h0M635 456h0M671 554h0M681 572h0M676 543h0M681 570h0M715 496h0M714 478h0M558 479h0M717 481h0M598 475h0M642 461h0M717 475h0M551 489h0M627 482h0M669 545h0M508 476h0M558 478h0M645 495h0" stroke="#f6bfc7" stroke-width="4.2" stroke-opacity="0.78"/>
<path d="M113 205h0M105 198h0M316 126h0M74 200h0M273 119h0M78 188h0M379 127h0M222 194h0M310 127h0M352 205h0M69 187h0M160 197h0M149 193h0M266 126h0M118 201h0M358 198h0M386 115h0M431 118h0M387 132h0M64 185h0M74 187h0M104 202h0M385 135h0M274 131h0M64 193h0M429 124h0M69 179h0M229 208h0M240 191h0M341 184h0M237 194h0M148 197h0M106 215h0M304 136h0M317 133h0M116 209h0M114 214h0M265 138h0M345 195h0M107 197h0M349 198h0M118 172h0M151 194h0M399 124h0M74 211h0M346 213h0" stroke="#f6bfc7" stroke-width="4.4" stroke-opacity="0.9"/>
<path d="M197 122h0M191 132h0M193 138h0M189 145h0M184 139h0M197 130h0M197 140h0M194 133h0M182 140h0M193 140h0M195 133h0M195 129h0M196 113h0M190 124h0M187 131h0M184 117h0M190 125h0M199 130h0M195 123h0M185 145h0M183 129h0M181 134h0M186 130h0M188 123h0M190 129h0M183 122h0M190 128h0M182 140h0M187 132h0M195 120h0M190 114h0M184 138h0M194 143h0M188 123h0M188 134h0M186 121h0M181 145h0M194 123h0M180 116h0M197 141h0M185 123h0M188 142h0M193 143h0M197 136h0M199 141h0M181 126h0M196 144h0M195 143h0M183 150h0M197 142h0M193 140h0M188 136h0M184 119h0M199 119h0" stroke="#f6bfc7" stroke-width="4.4"/>
<path d="M233 476h0M110 467h0M75 481h0M227 503h0M73 479h0M144 416h0M116 433h0M155 466h0M75 457h0M145 435h0M263 569h0M114 468h0M72 427h0M222 481h0M190 574h0M156 493h0M72 448h0M158 483h0M157 494h0M61 472h0M146 431h0M159 495h0M268 565h0M190 553h0M198 571h0M71 431h0M110 467h0M107 469h0M184 584h0M63 458h0M152 466h0" stroke="#f6bfc7" stroke-width="4.1" stroke-opacity="0.7"/>
<path d="M642 174h0M564 139h0M628 168h0M597 200h0M557 116h0M561 159h0M603 160h0M561 184h0M595 180h0M601 186h0M638 166h0M597 165h0M560 209h0M553 178h0M602 176h0M591 184h0M602 148h0M563 134h0M601 168h0M593 209h0" stroke="#f6bfc7" stroke-width="3.8" stroke-opacity="0.6"/>
<path d="M672 99h0M712 76h0M677 81h0M672 96h0M670 67h0M672 102h0M709 80h0M712 126h0M680 90h0M712 98h0M717 105h0M715 73h0M707 107h0M722 64h0" stroke="#f6bfc7" stroke-width="3.8" stroke-opacity="0.65"/>
<path d="M509 148h0M520 187h0M511 210h0M520 197h0M521 214h0" stroke="#f6bfc7" stroke-width="3.8" stroke-opacity="0.7"/>
<path d="M381 497h0" stroke="#f6bfc7" stroke-width="4.1" stroke-opacity="0.5"/>
<path d="M436 526h0M304 561h0M318 526h0M304 526h0M434 566h0M307 560h0M316 561h0M302 522h0M300 521h0M304 531h0M310 560h0M318 534h0M300 530h0M316 531h0M312 519h0M300 531h0M424 559h0M310 545h0M313 547h0M319 531h0M311 550h0M300 551h0M310 528h0M310 567h0" stroke="#f6bfc7" stroke-width="4.1" stroke-opacity="0.55"/>
<path d="M866 553h0M757 576h0M828 574h0M794 568h0M753 600h0M872 564h0M785 553h0M867 565h0M801 567h0M869 559h0M871 547h0M869 568h0M879 564h0M843 572h0M747 581h0M754 611h0M789 584h0M795 577h0M841 560h0M845 556h0M844 554h0M796 582h0M765 574h0M757 592h0M877 561h0M830 563h0M840 575h0M802 576h0M758 570h0M882 582h0M789 606h0M762 589h0" stroke="#f6bfc7" stroke-width="4.2" stroke-opacity="0.65"/>
<path d="M838 152h0M829 145h0M835 130h0M841 110h0M834 121h0M834 147h0M795 172h0M806 179h0M827 98h0M867 103h0M837 102h0M836 123h0M827 101h0M827 104h0M840 155h0M826 124h0M832 122h0M838 110h0M828 139h0M827 134h0M838 120h0M826 101h0M751 191h0M756 262h0M752 158h0M827 156h0M794 181h0M866 111h0M826 110h0M845 145h0M831 126h0M797 170h0M830 105h0M830 127h0M832 131h0M837 124h0M793 138h0M881 102h0M831 116h0M829 125h0M797 167h0M828 99h0M755 210h0M843 137h0M868 122h0M844 99h0M844 154h0M835 103h0M838 142h0M829 103h0M869 91h0M747 197h0M752 252h0M754 218h0M836 155h0M844 131h0M838 144h0M833 134h0M832 94h0M837 151h0M786 126h0M835 113h0M835 116h0M841 121h0M831 117h0M786 160h0M834 154h0M831 153h0M831 94h0M871 99h0M876 110h0M841 141h0M801 150h0M830 116h0M799 134h0M757 174h0M837 107h0M829 121h0" stroke="#f6bfc7" stroke-width="3.8" stroke-opacity="0.55"/>
<path d="M104 223h0M314 134h0M155 199h0M279 126h0M262 131h0M106 215h0M304 121h0M112 221h0M394 127h0M420 136h0M80 197h0M272 98h0M302 118h0M75 211h0M117 187h0M117 195h0M348 190h0M385 132h0M274 151h0M259 129h0M354 196h0M72 202h0M230 195h0M347 205h0M436 133h0M435 131h0M158 202h0M108 203h0M112 199h0M428 122h0M67 185h0M313 122h0M342 202h0M313 125h0M310 117h0M312 144h0M420 136h0M63 194h0M234 195h0M263 132h0M144 222h0M222 202h0M313 132h0M386 124h0M152 186h0M70 217h0M299 124h0M157 207h0M384 123h0M356 219h0M74 177h0M359 188h0M276 146h0M267 125h0M344 191h0M263 137h0M62 215h0M352 186h0M317 124h0M264 129h0M378 116h0M340 196h0M277 142h0M313 131h0M279 141h0M114 190h0" stroke="#f6bfc7" stroke-width="4.4" stroke-opacity="0.9"/>
<path d="M156 468h0M78 474h0M61 472h0M188 575h0M234 488h0M108 433h0M191 548h0M64 423h0M111 474h0M150 394h0M114 483h0M114 488h0M157 486h0M183 582h0M102 487h0M181 558h0M111 434h0M105 387h0M264 560h0M190 550h0M76 458h0M273 556h0M264 568h0M107 460h0M114 400h0M262 557h0M154 468h0M182 556h0M67 452h0M64 421h0M197 569h0M188 567h0" stroke="#f6bfc7" stroke-width="4.1" stroke-opacity="0.7"/>
<path d="M721 75h0M670 93h0M675 69h0M668 103h0M721 83h0M669 109h0M676 65h0M708 89h0M720 74h0M724 90h0M714 108h0M679 98h0M712 75h0M673 114h0" stroke="#f6bfc7" stroke-width="3.8" stroke-opacity="0.65"/>
<path d="M587 495h0M523 479h0M714 464h0M679 574h0M674 570h0M707 476h0M668 569h0M555 479h0M630 483h0M603 441h0M711 499h0M591 478h0M563 480h0M668 568h0M683 561h0M523 480h0M598 484h0M683 553h0M673 582h0M598 480h0M550 460h0M670 581h0M515 481h0M592 482h0M676 571h0M673 554h0M517 470h0M514 491h0M525 471h0M519 450h0M637 467h0M681 547h0M629 458h0M563 490h0M713 474h0M634 494h0M631 476h0M675 582h0M711 473h0M632 494h0M678 577h0" stroke="#f6bfc7" stroke-width="4.2" stroke-opacity="0.78"/>
<path d="M518 198h0M518 184h0M517 167h0M512 189h0M525 184h0M522 172h0M519 207h0M522 180h0" stroke="#f6bfc7" stroke-width="3.8" stroke-opacity="0.7"/>
<path d="M605 112h0M602 130h0M641 179h0M629 166h0M641 194h0M594 152h0M588 164h0M556 147h0M603 168h0M598 144h0M598 174h0M631 168h0M602 197h0M629 104h0M601 139h0M557 155h0" stroke="#f6bfc7" stroke-width="3.8" stroke-opacity="0.6"/>
<path d="M389 430h0M392 442h0" stroke="#f6bfc7" stroke-width="4.1" stroke-opacity="0.5"/>
<path d="M199 556h0M66 414h0M197 569h0M142 493h0M69 470h0M275 564h0M144 476h0M194 558h0M279 556h0M275 572h0M145 488h0M191 559h0M153 477h0M113 434h0M63 464h0M264 555h0M150 458h0M267 583h0M275 586h0M271 565h0M269 590h0M183 560h0M190 545h0M229 472h0M229 475h0M148 449h0M153 462h0M221 505h0M238 496h0" stroke="#f6bfc7" stroke-width="4.1" stroke-opacity="0.7"/>
<path d="M795 173h0M790 223h0M749 191h0M836 114h0M836 93h0M760 230h0M796 206h0M831 125h0M834 127h0M841 105h0M832 151h0M842 132h0M796 189h0M829 120h0M759 234h0M831 131h0M842 125h0M829 137h0M756 174h0M761 187h0M836 104h0M832 108h0M832 99h0M845 126h0M831 130h0M875 88h0M789 191h0M831 126h0M828 155h0M843 118h0M844 131h0M868 117h0M761 210h0M764 200h0M842 130h0M789 194h0M830 154h0M826 118h0M786 170h0M841 120h0M766 172h0M844 99h0M845 95h0M788 171h0M840 125h0M827 134h0M828 117h0M841 107h0M749 190h0M833 101h0M828 126h0M836 115h0M831 157h0M867 114h0M759 191h0M801 203h0M867 115h0M843 139h0M828 130h0M833 150h0M829 153h0" stroke="#f6bfc7" stroke-width="3.8" stroke-opacity="0.55"/>
<path d="M238 194h0M304 132h0M303 116h0M260 128h0M359 196h0M239 194h0M302 127h0M148 204h0M429 130h0M231 203h0M278 137h0M398 122h0M268 122h0M159 168h0M270 156h0M381 115h0M154 194h0M312 157h0M419 128h0M387 115h0M304 122h0M421 117h0M112 202h0M224 198h0M65 202h0M277 139h0M239 195h0M384 124h0M306 143h0M66 215h0M116 178h0M277 131h0M319 118h0M222 203h0M309 127h0M268 135h0M344 198h0M73 190h0M153 192h0M109 204h0M418 134h0M392 119h0M352 200h0M425 132h0M101 205h0M236 184h0M341 190h0M419 121h0M223 187h0M434 133h0M64 200h0M354 171h0M264 131h0M386 125h0M317 104h0M278 132h0M237 194h0M279 138h0M108 178h0M341 193h0M231 216h0" stroke="#f6bfc7" stroke-width="4.4" stroke-opacity="0.9"/>
<path d="M426 545h0M422 539h0M339 540h0M313 519h0M426 542h0M437 536h0M437 539h0M315 562h0M305 542h0M301 544h0M307 522h0M303 526h0M308 564h0M303 533h0M308 545h0M302 549h0M312 552h0M307 553h0M312 562h0M307 540h0M302 541h0M307 546h0M306 526h0M315 551h0M307 525h0M315 525h0M309 555h0M426 576h0M306 558h0M314 527h0M319 562h0" stroke="#f6bfc7" stroke-width="4.1" stroke-opacity="0.55"/>
<path d="M637 476h0M509 487h0M667 568h0M640 478h0M674 554h0M554 479h0M677 542h0M681 553h0M554 474h0M512 473h0M597 474h0M556 478h0M640 480h0M592 501h0M507 477h0M684 568h0M600 478h0M678 544h0M589 472h0M725 486h0M593 470h0M598 451h0M666 561h0M554 468h0M552 474h0M631 501h0M686 566h0M678 586h0M673 569h0M668 577h0M715 486h0" stroke="#f6bfc7" stroke-width="4.2" stroke-opacity="0.78"/>
<path d="M758 570h0M800 569h0M838 588h0M760 586h0M749 573h0M871 591h0M869 568h0M838 561h0M751 582h0M833 597h0M875 562h0M763 601h0M750 571h0M873 555h0M868 570h0M830 573h0M758 559h0M871 575h0M803 596h0M876 593h0" stroke="#f6bfc7" stroke-width="4.2" stroke-opacity="0.65"/>
<path d="M588 186h0M560 195h0M590 138h0M557 141h0M556 137h0M647 144h0M555 138h0M645 184h0M558 184h0M598 158h0M594 169h0M599 114h0M561 175h0M557 265h0M592 176h0M595 173h0M593 205h0M552 189h0M605 175h0M630 180h0M561 155h0M601 197h0M593 128h0" stroke="#f6bfc7" stroke-width="3.8" stroke-opacity="0.6"/>
<path d="M722 80h0M723 75h0M682 76h0M674 57h0M709 81h0M716 109h0M684 86h0M708 101h0" stroke="#f6bfc7" stroke-width="3.8" stroke-opacity="0.65"/>
<path d="M514 171h0M516 184h0M519 274h0M519 172h0M512 271h0M521 170h0" stroke="#f6bfc7" stroke-width="3.8" stroke-opacity="0.7"/>
<path d="M387 485h0" stroke="#f6bfc7" stroke-width="4.1" stroke-opacity="0.5"/>
<path d="M638 548h0M587 550h0M588 553h0M555 559h0M517 524h0M567 538h0M721 553h0M635 543h0M561 550h0M518 543h0M562 563h0M518 564h0M523 551h0M627 566h0M515 555h0M590 555h0M565 532h0M559 535h0M631 560h0M602 550h0M553 553h0M566 553h0M639 565h0M638 552h0M563 556h0M632 536h0M521 546h0M629 538h0M723 551h0M726 547h0M721 534h0M551 543h0M557 558h0M508 527h0M638 541h0M560 563h0M643 550h0M550 549h0M592 546h0M707 535h0M636 545h0M627 558h0M639 538h0M552 541h0M628 535h0M513 534h0M510 542h0M722 539h0M602 550h0M722 536h0M514 542h0M567 563h0M725 562h0M641 555h0M626 545h0M567 541h0M514 545h0M595 541h0M626 544h0M510 547h0" stroke="#a2b5cf" stroke-width="4.2" stroke-opacity="0.78"/>
<path d="M304 167h0M227 155h0M272 172h0M64 162h0M144 143h0M276 177h0M356 166h0M159 150h0M345 145h0M225 157h0M114 173h0M432 179h0M227 153h0M226 148h0M234 149h0M435 182h0M355 155h0M386 151h0M427 174h0M438 173h0M386 166h0M69 144h0M143 149h0M339 162h0M73 159h0M351 152h0M108 137h0M275 186h0M430 172h0M385 170h0M421 179h0M117 166h0M279 186h0M355 149h0M77 149h0M78 147h0M160 124h0M420 172h0M233 154h0M433 166h0M236 154h0M317 169h0M268 171h0M390 163h0M438 169h0M435 178h0M379 156h0M101 147h0M346 147h0M140 163h0M152 154h0M421 178h0M309 153h0M231 163h0M64 144h0M112 148h0M261 181h0M301 160h0M420 186h0M145 144h0M155 152h0M430 171h0M391 160h0M397 173h0M419 179h0M307 188h0M390 169h0M270 174h0M120 153h0M305 164h0M272 177h0M76 149h0" stroke="#a2b5cf" stroke-width="4.4" stroke-opacity="0.9"/>
<path d="M838 515h0M749 511h0M842 511h0M868 516h0M883 521h0M883 518h0M801 514h0M799 519h0M752 525h0M805 514h0M877 514h0M794 517h0M755 505h0M874 518h0M881 513h0M882 517h0M831 525h0M748 504h0M756 506h0M865 507h0M868 531h0M831 517h0M870 524h0M793 523h0M838 516h0M797 512h0M844 525h0M804 523h0M883 511h0M804 523h0M793 495h0M785 513h0M839 525h0M877 519h0M828 508h0M791 503h0M764 505h0M786 502h0M842 517h0M795 523h0M827 528h0M830 514h0M825 528h0M830 521h0M765 491h0M762 525h0M837 520h0" stroke="#a2b5cf" stroke-width="4.2" stroke-opacity="0.65"/>
<path d="M553 150h0M631 112h0M635 157h0M607 112h0M590 110h0M599 132h0M565 126h0M557 93h0M555 116h0M558 99h0M565 104h0M602 111h0" stroke="#a2b5cf" stroke-width="3.8" stroke-opacity="0.6"/>
<path d="M438 494h0M348 515h0M353 490h0M423 512h0M351 506h0M342 497h0M355 499h0M357 498h0M439 507h0M347 509h0M433 497h0M432 516h0M357 526h0M420 498h0M421 496h0M425 514h0M421 500h0M353 516h0M341 513h0M424 493h0M438 498h0M435 504h0M419 499h0M351 497h0M426 502h0M421 484h0M430 507h0M435 488h0" stroke="#a2b5cf" stroke-width="4.1" stroke-opacity="0.55"/>
<path d="M278 505h0M200 496h0M227 560h0M237 525h0M153 522h0M115 538h0M105 536h0M142 508h0M224 533h0M274 492h0M151 527h0M77 562h0M78 538h0M67 544h0M152 541h0M222 526h0M67 527h0M234 599h0M229 535h0M262 520h0M226 512h0M239 524h0M160 547h0M117 543h0M236 592h0M151 539h0M160 533h0M79 534h0M240 531h0M183 507h0M72 537h0M274 519h0M179 502h0M74 543h0M191 487h0M266 513h0M220 530h0M77 548h0M152 537h0M150 522h0M79 528h0M70 546h0M116 546h0M76 555h0M260 500h0M79 536h0M76 559h0M190 490h0M234 538h0M156 522h0M183 511h0M221 534h0M100 552h0M225 561h0M274 502h0M271 502h0M199 500h0M222 547h0M66 542h0M151 531h0M73 539h0M182 492h0M266 506h0M115 537h0M271 515h0M192 512h0M266 493h0M268 508h0M72 530h0M188 519h0M259 489h0M152 540h0M273 506h0M105 564h0M104 533h0M72 532h0M233 520h0M103 540h0M148 544h0M278 499h0M76 542h0M275 504h0M222 529h0M61 550h0M228 546h0M158 521h0M118 538h0M143 532h0M196 512h0M196 489h0M140 565h0M102 541h0" stroke="#a2b5cf" stroke-width="4.1" stroke-opacity="0.7"/>
<path d="M526 148h0M509 133h0M519 131h0M515 112h0M508 117h0M510 146h0M517 118h0M514 127h0M515 111h0M520 120h0M510 125h0M523 133h0M519 135h0M518 116h0M524 134h0M512 131h0M526 108h0M512 133h0M521 115h0M520 120h0M515 107h0" stroke="#a2b5cf" stroke-width="3.8" stroke-opacity="0.7"/>
<path d="M680 152h0M667 147h0M682 144h0M675 168h0M686 154h0M723 157h0M716 130h0M720 167h0M726 137h0M722 170h0M727 137h0M681 148h0M678 152h0M674 144h0M681 139h0M720 154h0M718 138h0M679 163h0M722 143h0M685 166h0M668 154h0M681 160h0M671 130h0M723 161h0" stroke="#a2b5cf" stroke-width="3.8" stroke-opacity="0.65"/>
<path d="M867 164h0M805 101h0M748 132h0M875 175h0M760 76h0M875 173h0M800 97h0M760 114h0M762 98h0M866 149h0M804 150h0M762 96h0M745 134h0M754 93h0M876 149h0M753 158h0M764 116h0M790 91h0M754 138h0M875 155h0M882 165h0M882 179h0M765 136h0" stroke="#a2b5cf" stroke-width="3.8" stroke-opacity="0.55"/>
<path d="M385 535h0M394 540h0M394 543h0M393 559h0M396 549h0M391 535h0" stroke="#a2b5cf" stroke-width="4.1" stroke-opacity="0.5"/>
<path d="M630 92h0M596 121h0M595 126h0M556 148h0M564 142h0M596 98h0M553 85h0M590 137h0M553 69h0M606 104h0M596 150h0M566 134h0M565 117h0M564 103h0M630 99h0M629 126h0M564 127h0M601 116h0M550 109h0M568 99h0M637 86h0M645 150h0M594 73h0M641 100h0M556 118h0M564 117h0M557 104h0M560 101h0M553 55h0" stroke="#a2b5cf" stroke-width="3.8" stroke-opacity="0.6"/>
<path d="M517 542h0M515 545h0M726 549h0M512 547h0M645 549h0M561 538h0M640 554h0M507 537h0M551 543h0M645 559h0M523 536h0M519 552h0M641 551h0M647 554h0M642 559h0M726 557h0M645 544h0M546 546h0M604 536h0M646 549h0M645 560h0M526 535h0M510 549h0M563 542h0M549 527h0M523 545h0M712 543h0M511 550h0M563 563h0M646 553h0M641 559h0M604 551h0M509 558h0M725 549h0M595 550h0M633 534h0M600 555h0M566 542h0M596 553h0M595 552h0M723 547h0M630 551h0M646 566h0M549 552h0M589 550h0M723 564h0M550 550h0M724 546h0M510 541h0M710 565h0M635 549h0M712 555h0M720 542h0M550 547h0M636 554h0M557 529h0M567 554h0M522 553h0M526 550h0M709 542h0M720 538h0M723 553h0M560 527h0" stroke="#a2b5cf" stroke-width="4.2" stroke-opacity="0.78"/>
<path d="M424 513h0M352 493h0M350 486h0M427 511h0M429 488h0M424 469h0M417 506h0M433 508h0M341 495h0M355 509h0M433 507h0M340 509h0M346 495h0M438 508h0M419 494h0M359 504h0M352 521h0M352 478h0M418 497h0M431 506h0M422 503h0M348 488h0M356 523h0M359 498h0M436 513h0M353 494h0M428 502h0M433 500h0M424 481h0M342 513h0M359 490h0M433 513h0M433 525h0M421 508h0M424 507h0M424 514h0M429 523h0M341 505h0M434 498h0" stroke="#a2b5cf" stroke-width="4.1" stroke-opacity="0.55"/>
<path d="M518 135h0M521 128h0M521 128h0M527 138h0M525 115h0M511 127h0M520 118h0M508 136h0M515 162h0M513 119h0M510 141h0M508 107h0M527 123h0M524 136h0M512 110h0M515 138h0M516 130h0" stroke="#a2b5cf" stroke-width="3.8" stroke-opacity="0.7"/>
<path d="M63 142h0M315 167h0M391 157h0M344 145h0M240 146h0M300 174h0M379 161h0M303 168h0M102 140h0M387 157h0M260 180h0M141 151h0M351 135h0M392 153h0M305 195h0M72 134h0M430 169h0M424 185h0M143 146h0M140 147h0M341 153h0M354 145h0M80 145h0M236 172h0M359 141h0M339 168h0M426 174h0M389 165h0M430 189h0M398 157h0M225 160h0M144 143h0M66 164h0M120 140h0M419 163h0M261 166h0M356 161h0M420 161h0M351 141h0M239 166h0M114 170h0M426 170h0M435 168h0M311 182h0M155 148h0M315 168h0M352 142h0M339 138h0M230 170h0M300 195h0M421 166h0M318 171h0M391 162h0M388 161h0M435 159h0M159 138h0M382 158h0M385 172h0M61 142h0M66 156h0M236 140h0M423 170h0" stroke="#a2b5cf" stroke-width="4.4" stroke-opacity="0.9"/>
<path d="M797 528h0M886 521h0M827 521h0M757 528h0M796 507h0M802 520h0M879 518h0M787 508h0M786 501h0M831 521h0M749 520h0M868 510h0M800 529h0M747 504h0M797 513h0M874 512h0M749 524h0M880 514h0M762 512h0M748 523h0M834 528h0M750 502h0M832 508h0M798 521h0M841 519h0M831 523h0M829 529h0M752 513h0M830 529h0M833 524h0M755 529h0M793 513h0M762 521h0M840 511h0M753 519h0M785 514h0M843 524h0M876 520h0M881 508h0M885 509h0M790 511h0" stroke="#a2b5cf" stroke-width="4.2" stroke-opacity="0.65"/>
<path d="M805 126h0M868 145h0M763 96h0M760 108h0M749 111h0M757 106h0M878 176h0M869 172h0M750 145h0M880 165h0M752 145h0M756 94h0M755 140h0M865 157h0M876 146h0M760 108h0M765 97h0M750 107h0M759 115h0M873 142h0M748 96h0M869 183h0M749 87h0M756 128h0M752 131h0M762 147h0M757 133h0M752 106h0M868 181h0M765 104h0" stroke="#a2b5cf" stroke-width="3.8" stroke-opacity="0.55"/>
<path d="M260 521h0M78 568h0M140 537h0M105 538h0M75 527h0M81 540h0M234 519h0M119 551h0M60 535h0M187 498h0M227 528h0M201 488h0M104 547h0M142 546h0M234 535h0M72 549h0M279 509h0M193 503h0M143 530h0M227 591h0M150 537h0M107 548h0M265 494h0M180 495h0M156 557h0M223 527h0M225 511h0M156 507h0M187 495h0M236 528h0M190 511h0M116 554h0M223 528h0M188 515h0M72 552h0M119 517h0M76 532h0M239 546h0M78 531h0M117 551h0M102 552h0M63 515h0M104 527h0M75 546h0M277 512h0M143 552h0M77 528h0M107 550h0M104 534h0M65 550h0M157 581h0M268 507h0M78 551h0M114 531h0M151 538h0M231 544h0M71 541h0M261 488h0M153 553h0M199 505h0M221 528h0M263 495h0M148 520h0M220 525h0M78 541h0M198 509h0M279 513h0M73 529h0M181 515h0M120 544h0M239 535h0M232 591h0M149 523h0M152 539h0M184 513h0M189 502h0M142 543h0M102 525h0M152 530h0M144 563h0M261 497h0M271 495h0M155 512h0" stroke="#a2b5cf" stroke-width="4.1" stroke-opacity="0.7"/>
<path d="M383 563h0M391 546h0M396 562h0M394 536h0M388 557h0M397 546h0" stroke="#a2b5cf" stroke-width="4.1" stroke-opacity="0.5"/>
<path d="M674 168h0M673 135h0M724 144h0M677 136h0M679 168h0M712 149h0M710 131h0M684 182h0M667 135h0M683 154h0M723 164h0M667 148h0M711 151h0M681 175h0M717 180h0M676 154h0M722 156h0M678 151h0" stroke="#a2b5cf" stroke-width="3.8" stroke-opacity="0.65"/>
<path d="M61 166h0M67 142h0M103 148h0M72 148h0M158 141h0M222 160h0M119 147h0M67 145h0M308 191h0M424 178h0M112 153h0M381 164h0M423 183h0M279 179h0M317 194h0M309 170h0M237 154h0M157 169h0M226 155h0M222 147h0M317 168h0M63 153h0M302 176h0M109 144h0M312 162h0M109 148h0M393 163h0M142 146h0M425 176h0M145 154h0M434 164h0M436 178h0M386 153h0M270 187h0M229 165h0M434 173h0M426 165h0M276 168h0M265 167h0M346 161h0M233 156h0M115 153h0M350 153h0M423 187h0M434 179h0M312 185h0M300 160h0M104 153h0M357 166h0M260 169h0M425 166h0M352 144h0M436 156h0M346 158h0M111 154h0M418 169h0M430 173h0M436 170h0M64 171h0M157 142h0M227 160h0M306 180h0M226 157h0M274 175h0M395 160h0M342 134h0M348 157h0M354 145h0M427 171h0M381 171h0M269 174h0M308 186h0" stroke="#a2b5cf" stroke-width="4.4" stroke-opacity="0.9"/>
<path d="M631 151h0M602 138h0M639 123h0M644 95h0M600 119h0M601 123h0M605 106h0M640 107h0M562 116h0M567 103h0M604 96h0M591 133h0M635 106h0M551 134h0M644 117h0M549 90h0M636 105h0" stroke="#a2b5cf" stroke-width="3.8" stroke-opacity="0.6"/>
<path d="M180 503h0M111 543h0M231 537h0M70 549h0M267 511h0M105 559h0M230 535h0M269 504h0M220 539h0M234 526h0M277 496h0M225 524h0M147 561h0M78 536h0M278 524h0M111 568h0M188 500h0M199 510h0M228 528h0M112 550h0M183 501h0M110 546h0M239 542h0M195 487h0M194 498h0M145 560h0M236 547h0M160 519h0M221 523h0M107 546h0M108 531h0M230 539h0M192 500h0M72 532h0M107 542h0M272 516h0M75 523h0M268 508h0M157 547h0M64 533h0M147 573h0M186 502h0M188 497h0M157 529h0M157 547h0M223 528h0M105 559h0M280 503h0M266 505h0M279 505h0M183 502h0M63 529h0M156 540h0M68 536h0M118 541h0M119 550h0M62 537h0M106 544h0M66 556h0M188 489h0M110 567h0M115 533h0M183 514h0M240 530h0M64 542h0M259 522h0M237 529h0M278 507h0M231 541h0M182 500h0" stroke="#a2b5cf" stroke-width="4.1" stroke-opacity="0.7"/>
<path d="M802 111h0M871 111h0M747 81h0M761 147h0M869 171h0M866 111h0M870 175h0M868 147h0M763 106h0M755 130h0M753 86h0M760 133h0M760 83h0M879 127h0M875 198h0M873 160h0M875 165h0M803 114h0M871 158h0M880 160h0M878 167h0M761 155h0M757 150h0M755 133h0M872 162h0M758 75h0M874 196h0M881 184h0M879 155h0M747 134h0M753 141h0M789 105h0M868 149h0M760 147h0M767 153h0M870 174h0" stroke="#a2b5cf" stroke-width="3.8" stroke-opacity="0.55"/>
<path d="M517 128h0M526 141h0M522 143h0M528 132h0M514 105h0M524 131h0M526 106h0M526 130h0M522 152h0" stroke="#a2b5cf" stroke-width="3.8" stroke-opacity="0.7"/>
<path d="M878 532h0M874 521h0M797 519h0M794 528h0M762 525h0M830 518h0M868 513h0M764 523h0M828 506h0M835 524h0M762 509h0M791 510h0M837 509h0M869 510h0M840 520h0M760 499h0M792 521h0M877 513h0M835 505h0M841 514h0M843 506h0M833 516h0M756 516h0M757 515h0M760 506h0M757 521h0M870 526h0M883 504h0M795 511h0M835 505h0M748 491h0M833 502h0M885 521h0M839 529h0M750 503h0M883 525h0M747 524h0" stroke="#a2b5cf" stroke-width="4.2" stroke-opacity="0.65"/>
<path d="M566 564h0M598 538h0M707 548h0M508 560h0M637 542h0M562 547h0M627 552h0M528 543h0M527 560h0M715 546h0M628 570h0M515 558h0M514 543h0M725 549h0M548 533h0M563 552h0M645 540h0M547 548h0M633 554h0M526 552h0M719 544h0M714 536h0M631 558h0M707 544h0M707 553h0M711 552h0M514 566h0M590 554h0M721 529h0M712 546h0M561 540h0M640 548h0M602 544h0M722 540h0M647 545h0M636 557h0M600 539h0M519 545h0M629 547h0M604 546h0M591 549h0M597 543h0M514 535h0M602 555h0M595 557h0M515 563h0M605 535h0M717 552h0M549 555h0M589 561h0M708 538h0" stroke="#a2b5cf" stroke-width="4.2" stroke-opacity="0.78"/>
<path d="M669 168h0M678 161h0M716 161h0M672 141h0M722 155h0M682 195h0M722 163h0M709 151h0M673 150h0M669 155h0M677 156h0M720 143h0M707 154h0M675 166h0M673 162h0M679 150h0M720 174h0M716 155h0M673 155h0M680 162h0M723 150h0M669 149h0M717 139h0" stroke="#a2b5cf" stroke-width="3.8" stroke-opacity="0.65"/>
<path d="M359 517h0M344 498h0M429 495h0M429 494h0M429 504h0M352 492h0M355 519h0M424 498h0M419 506h0M349 492h0M353 483h0M342 499h0M357 479h0M351 520h0M349 497h0M347 441h0M434 508h0M348 494h0M424 481h0M359 519h0M347 519h0M427 512h0M423 493h0M349 525h0M420 498h0M351 447h0M347 507h0M340 517h0M348 494h0M339 516h0M352 490h0" stroke="#a2b5cf" stroke-width="4.1" stroke-opacity="0.55"/>
<path d="M380 547h0M391 551h0M382 571h0M391 547h0M396 559h0M392 533h0M385 541h0M384 570h0M397 545h0M387 551h0M396 550h0M388 541h0" stroke="#a2b5cf" stroke-width="4.1" stroke-opacity="0.5"/>
<path d="M839 94h0M839 127h0M839 129h0M844 142h0M801 188h0M798 177h0M868 91h0M867 104h0M753 231h0M872 108h0M801 160h0M792 158h0M835 133h0M835 116h0M828 119h0M834 143h0M799 273h0M832 127h0M803 164h0M786 180h0M843 99h0M843 106h0M834 140h0M757 204h0M794 158h0M884 112h0" stroke="#f5b5bc" stroke-width="3.8" stroke-opacity="0.55"/>
<path d="M197 122h0M194 123h0M197 136h0M197 134h0M190 123h0M193 145h0M192 125h0M197 141h0M190 125h0M199 131h0M199 136h0M191 144h0M183 142h0M192 138h0M196 123h0M188 129h0M198 142h0M191 141h0M180 133h0M198 114h0M196 142h0M197 144h0M198 129h0M182 132h0M186 131h0M187 126h0M188 145h0M193 140h0M194 147h0M193 129h0M189 110h0M182 136h0M180 123h0M182 142h0M187 115h0M194 134h0M184 117h0M187 137h0M190 121h0M184 130h0M197 140h0M181 123h0M182 135h0M192 120h0M186 120h0M198 128h0M200 144h0M189 117h0M181 135h0M191 140h0M193 137h0M183 123h0M185 141h0M191 138h0M184 139h0M183 124h0M199 113h0M191 116h0M189 135h0M196 134h0M190 122h0M195 143h0M190 145h0M193 142h0M195 119h0M194 114h0M193 123h0M182 144h0M186 133h0M198 127h0M189 145h0M194 145h0M198 128h0M195 129h0M199 122h0M198 123h0M193 138h0M188 144h0M199 122h0M180 135h0M199 129h0M181 134h0M182 129h0M193 134h0M195 142h0M188 138h0M189 116h0M194 137h0M197 138h0M191 112h0M196 138h0M199 133h0M190 122h0M181 121h0M182 133h0M189 131h0M195 133h0M188 123h0M188 143h0M194 131h0M196 120h0M199 144h0M196 127h0M180 135h0M199 139h0M197 143h0M198 115h0M190 130h0M190 140h0M183 128h0M188 118h0M183 132h0M189 145h0M187 134h0M185 120h0M190 145h0M191 128h0M199 129h0M182 130h0M190 132h0M193 118h0M185 141h0M193 117h0M180 127h0M186 121h0M186 126h0M186 132h0M188 134h0M188 130h0M191 135h0M197 142h0M187 143h0M188 123h0M194 122h0M192 123h0M190 117h0M184 141h0M187 114h0M192 145h0M192 119h0M199 115h0M189 120h0M183 128h0M189 124h0M198 121h0M194 126h0M187 123h0M181 127h0M191 135h0M186 118h0M199 130h0M194 129h0M182 134h0M198 130h0M184 135h0M193 126h0M184 129h0M184 122h0M197 122h0M198 109h0M191 117h0M184 114h0M189 129h0M183 119h0M197 142h0M187 123h0M193 147h0M187 145h0M195 145h0M190 126h0M192 116h0M187 134h0M189 123h0M190 122h0M194 128h0M197 129h0M188 136h0M182 132h0M191 136h0M192 131h0M185 143h0M179 146h0M185 140h0M196 143h0M193 146h0M185 137h0M188 123h0M186 122h0M196 121h0M195 124h0M187 133h0M186 141h0M194 145h0M188 125h0M185 130h0M187 127h0M181 131h0M198 129h0" stroke="#f5b5bc" stroke-width="4.4"/>
<path d="M751 568h0M883 567h0M751 584h0M845 570h0M790 597h0M869 597h0M833 563h0M874 556h0M753 562h0M758 570h0M870 567h0M789 601h0M803 599h0M756 580h0M787 572h0M793 584h0M753 579h0M747 569h0M838 589h0M882 561h0M754 580h0M876 569h0M840 604h0M804 600h0M791 593h0" stroke="#f5b5bc" stroke-width="4.2" stroke-opacity="0.65"/>
<path d="M317 562h0M315 534h0M308 535h0M300 545h0M318 529h0M304 518h0M317 522h0M309 540h0M312 522h0M305 546h0M302 544h0M312 530h0M316 529h0M310 518h0M312 531h0M309 547h0M308 533h0M309 525h0M300 523h0M304 563h0M318 522h0M316 546h0M308 563h0M307 554h0M308 542h0M316 558h0M316 526h0M315 521h0M306 530h0M315 538h0M314 562h0M343 577h0M301 529h0M307 550h0M302 538h0M319 555h0M314 566h0M312 520h0M318 535h0M313 561h0M315 520h0M311 538h0M303 545h0M310 559h0M317 522h0M312 547h0M315 549h0M317 551h0M301 568h0M309 537h0M315 534h0M305 526h0" stroke="#f5b5bc" stroke-width="4.1" stroke-opacity="0.55"/>
<path d="M684 570h0M587 480h0M514 472h0M639 433h0M671 583h0M637 491h0M673 545h0M672 586h0M672 547h0M549 500h0M678 565h0M667 564h0M685 574h0M592 488h0M605 495h0M670 578h0M678 556h0M683 590h0M677 567h0M673 563h0M600 422h0M684 586h0M518 461h0M681 585h0M670 551h0M722 502h0M671 560h0M673 572h0M682 552h0M681 565h0M513 436h0M684 553h0M513 496h0M512 477h0M685 576h0M667 578h0M675 564h0M677 582h0M675 554h0M509 479h0M677 546h0M589 459h0M667 561h0M666 549h0M671 550h0M558 472h0M684 560h0M673 586h0M671 573h0M667 556h0M677 580h0M667 578h0M683 549h0M715 431h0M679 570h0M683 552h0M674 547h0M722 482h0M675 560h0M669 554h0M675 565h0M673 589h0M635 453h0M671 568h0M681 582h0M679 563h0M670 544h0M607 490h0M632 480h0M725 487h0M685 571h0M681 585h0M681 556h0M681 572h0M517 477h0M561 487h0M596 486h0M682 569h0M681 559h0M669 563h0M592 462h0M682 573h0M666 584h0M684 565h0" stroke="#f5b5bc" stroke-width="4.2" stroke-opacity="0.78"/>
<path d="M79 215h0M423 120h0M353 187h0M393 116h0M78 190h0M267 124h0M351 207h0M278 125h0M79 184h0M72 202h0M319 127h0M142 198h0M309 137h0M381 110h0M396 116h0M227 219h0M269 128h0M319 123h0M79 211h0M77 215h0M318 112h0M427 120h0M380 122h0M389 112h0M429 138h0M102 199h0M429 125h0M159 196h0M393 115h0M302 121h0M355 189h0M77 203h0M279 132h0M227 204h0M344 195h0M72 220h0M145 208h0M143 184h0M266 118h0M260 130h0M221 204h0M432 112h0M107 218h0M395 123h0M341 195h0M264 141h0M142 198h0M108 205h0" stroke="#f5b5bc" stroke-width="4.4" stroke-opacity="0.9"/>
<path d="M104 480h0M77 419h0M63 431h0M154 488h0M185 558h0M266 562h0M67 459h0M102 488h0M118 469h0M269 587h0M194 585h0M117 463h0" stroke="#f5b5bc" stroke-width="4.1" stroke-opacity="0.7"/>
<path d="M680 90h0M722 92h0M682 138h0M673 74h0M720 90h0M722 82h0" stroke="#f5b5bc" stroke-width="3.8" stroke-opacity="0.65"/>
<path d="M384 488h0M393 461h0M381 510h0" stroke="#f5b5bc" stroke-width="4.1" stroke-opacity="0.5"/>
<path d="M558 174h0M594 178h0M599 158h0M597 133h0M560 153h0M594 186h0M563 159h0M594 190h0M593 173h0M562 210h0" stroke="#f5b5bc" stroke-width="3.8" stroke-opacity="0.6"/>
<path d="M512 207h0" stroke="#f5b5bc" stroke-width="3.8" stroke-opacity="0.7"/>
<path d="M675 551h0M680 575h0M676 551h0M683 563h0M684 550h0M671 549h0M681 547h0M682 584h0M672 554h0M598 444h0M670 577h0M675 556h0M686 555h0M678 548h0M676 546h0M591 488h0M668 571h0M678 568h0M670 560h0M677 576h0M722 486h0M722 467h0M637 477h0M669 585h0M676 539h0M551 463h0M682 552h0M667 583h0M668 572h0M681 564h0M605 481h0M670 582h0M600 473h0M684 556h0M682 554h0M511 459h0M680 574h0M524 472h0M674 557h0M676 546h0M684 553h0M511 453h0M672 581h0M673 570h0M682 542h0M708 472h0M644 485h0M677 568h0M674 554h0M679 548h0M524 470h0M671 551h0M681 554h0M667 578h0M685 570h0M672 561h0M671 554h0M514 496h0M667 558h0M513 485h0M682 578h0M677 571h0M635 484h0M526 477h0M683 581h0M632 499h0M632 485h0M685 570h0M675 551h0M717 409h0M527 481h0M670 576h0M597 484h0M526 465h0M685 566h0M641 480h0M683 551h0M675 583h0M667 561h0M667 549h0M668 580h0M679 574h0" stroke="#f5b5bc" stroke-width="4.2" stroke-opacity="0.78"/>
<path d="M308 547h0M318 562h0M315 561h0M307 560h0M312 541h0M430 577h0M311 528h0M317 527h0M343 557h0M311 521h0M307 563h0M317 554h0M316 549h0M304 550h0M310 541h0M312 561h0M309 517h0M356 560h0M309 562h0M315 563h0M312 528h0M317 532h0M311 524h0M311 524h0M306 540h0M318 563h0M318 561h0M316 556h0M306 548h0M311 560h0M316 551h0M310 556h0M315 530h0M310 549h0M309 541h0M306 566h0M306 553h0M307 522h0M310 559h0M349 540h0M303 533h0M311 552h0M302 550h0M302 555h0" stroke="#f5b5bc" stroke-width="4.1" stroke-opacity="0.55"/>
<path d="M713 58h0M681 106h0M680 83h0M714 81h0M677 64h0M714 75h0M710 90h0M683 92h0" stroke="#f5b5bc" stroke-width="3.8" stroke-opacity="0.65"/>
<path d="M105 196h0M381 119h0M299 130h0M274 139h0M392 126h0M265 133h0M431 126h0M428 131h0M277 119h0M157 197h0M353 206h0M390 114h0M152 201h0M303 112h0M73 212h0M149 223h0M159 185h0M225 201h0M421 135h0M223 219h0M431 136h0M115 197h0M310 128h0M357 199h0M236 219h0M159 193h0M436 126h0M317 131h0M159 208h0M347 221h0M145 197h0M312 117h0M76 204h0M114 202h0M117 211h0M305 118h0M312 129h0M110 205h0M312 123h0M78 213h0M420 126h0M424 122h0M76 232h0M342 210h0M238 202h0M261 131h0M145 209h0M348 188h0M110 222h0M349 207h0M419 144h0M116 207h0M354 195h0" stroke="#f5b5bc" stroke-width="4.4" stroke-opacity="0.9"/>
<path d="M750 200h0M873 115h0M840 93h0M836 142h0M838 132h0M756 209h0M787 182h0M760 162h0M834 96h0M874 126h0M828 100h0M828 144h0M839 98h0M834 114h0M837 103h0M790 164h0M760 248h0M830 149h0M832 134h0M796 209h0M800 225h0M834 156h0M830 111h0M804 196h0M763 199h0" stroke="#f5b5bc" stroke-width="3.8" stroke-opacity="0.55"/>
<path d="M879 571h0M880 568h0M831 558h0M760 590h0M832 576h0M832 573h0M869 555h0M762 574h0M792 574h0M870 578h0M870 558h0M749 574h0M760 589h0M794 571h0M878 571h0M831 587h0M868 600h0M797 587h0M793 579h0M874 567h0M871 562h0M836 596h0M833 571h0" stroke="#f5b5bc" stroke-width="4.2" stroke-opacity="0.65"/>
<path d="M510 176h0M511 176h0" stroke="#f5b5bc" stroke-width="3.8" stroke-opacity="0.7"/>
<path d="M602 170h0M597 149h0M553 157h0M639 163h0M604 211h0M602 145h0" stroke="#f5b5bc" stroke-width="3.8" stroke-opacity="0.6"/>
<path d="M268 584h0M185 571h0M73 447h0M156 440h0M228 489h0M148 463h0M194 561h0" stroke="#f5b5bc" stroke-width="4.1" stroke-opacity="0.7"/>
<path d="M383 499h0M386 433h0M388 489h0M386 473h0M396 502h0" stroke="#f5b5bc" stroke-width="4.1" stroke-opacity="0.5"/>
<path d="M512 426h0M631 461h0M677 568h0M672 552h0M680 571h0M672 549h0M681 557h0M564 467h0M508 485h0M681 566h0M521 476h0M667 570h0M597 462h0M684 589h0M642 426h0M682 558h0M559 478h0M549 475h0M672 580h0M675 569h0M668 584h0M509 468h0M669 569h0M686 575h0M717 480h0M678 571h0M682 569h0M710 474h0M683 545h0M683 556h0M637 470h0M597 483h0M671 571h0M550 473h0M634 478h0M683 571h0M678 564h0M669 553h0M682 565h0M672 556h0M682 565h0M682 558h0M673 565h0M668 566h0M673 544h0M677 552h0M676 576h0M686 555h0M684 573h0M554 459h0M672 582h0M669 568h0M719 473h0M673 572h0M667 576h0M678 579h0M524 478h0M682 570h0M670 567h0M670 555h0M670 559h0M668 580h0M589 497h0M669 582h0M668 579h0M679 547h0M639 487h0M683 547h0M556 503h0M517 472h0M681 582h0" stroke="#f5b5bc" stroke-width="4.2" stroke-opacity="0.78"/>
<path d="M316 543h0M310 544h0M302 546h0M304 562h0M305 523h0M304 560h0M309 527h0M315 527h0M354 546h0M317 544h0M300 560h0M310 545h0M318 559h0M349 569h0M311 518h0M307 538h0M314 532h0M319 528h0M304 556h0M300 561h0M304 559h0M317 522h0M314 521h0M302 521h0M348 560h0M304 531h0M306 540h0M313 531h0M310 550h0M310 565h0M304 561h0M309 517h0M303 547h0M317 547h0M304 538h0M310 558h0M310 518h0M306 561h0M302 560h0M313 526h0M306 561h0M316 543h0" stroke="#f5b5bc" stroke-width="4.1" stroke-opacity="0.55"/>
<path d="M792 214h0M828 96h0M755 260h0M754 167h0M754 189h0M830 160h0M833 117h0M830 98h0M756 233h0M786 185h0M833 146h0M756 214h0M873 105h0M804 174h0M872 111h0M837 113h0M838 107h0M804 161h0M799 191h0M844 99h0M832 107h0M764 189h0M830 112h0M828 102h0M842 97h0" stroke="#f5b5bc" stroke-width="3.8" stroke-opacity="0.55"/>
<path d="M796 575h0M839 593h0M838 584h0M796 574h0M798 593h0M866 569h0M875 572h0M801 579h0M790 565h0M788 589h0M841 571h0M835 574h0M837 558h0M875 561h0M867 583h0M802 577h0M748 604h0M751 609h0M878 573h0M803 575h0M832 568h0M758 588h0M871 563h0" stroke="#f5b5bc" stroke-width="4.2" stroke-opacity="0.65"/>
<path d="M561 215h0M604 207h0M550 180h0M561 167h0M635 159h0M598 152h0M593 150h0M606 155h0M592 188h0M635 204h0M635 175h0M598 175h0M564 169h0M548 161h0" stroke="#f5b5bc" stroke-width="3.8" stroke-opacity="0.6"/>
<path d="M315 127h0M311 93h0M436 125h0M108 239h0M389 134h0M424 124h0M318 123h0M280 132h0M223 189h0M430 124h0M300 122h0M384 124h0M109 186h0M266 118h0M273 107h0M112 225h0M396 116h0M266 122h0M399 121h0M144 202h0M120 209h0M229 190h0M394 114h0M104 203h0M358 179h0M113 211h0M228 209h0M113 219h0M62 196h0M379 124h0M101 205h0M299 128h0M301 119h0M300 120h0M278 120h0M399 127h0M151 204h0M428 130h0M276 121h0M274 119h0M150 204h0M271 127h0" stroke="#f5b5bc" stroke-width="4.4" stroke-opacity="0.9"/>
<path d="M150 474h0M231 497h0M268 598h0M264 558h0M152 446h0M196 559h0" stroke="#f5b5bc" stroke-width="4.1" stroke-opacity="0.7"/>
<path d="M671 53h0" stroke="#f5b5bc" stroke-width="3.8" stroke-opacity="0.65"/>
<path d="M523 186h0M517 187h0M511 196h0M513 182h0" stroke="#f5b5bc" stroke-width="3.8" stroke-opacity="0.7"/>
<path d="M394 487h0" stroke="#f5b5bc" stroke-width="4.1" stroke-opacity="0.5"/>
<path d="M720 182h0M716 162h0M720 205h0M676 159h0M667 152h0M708 138h0M722 167h0M667 165h0M678 179h0M669 170h0M681 165h0M715 178h0M712 136h0M677 166h0M679 183h0M672 163h0M670 165h0M684 154h0M709 180h0M681 173h0M711 152h0M716 163h0M668 164h0M714 151h0M706 155h0M685 143h0M674 167h0M675 165h0M673 154h0" stroke="#91b0cb" stroke-width="3.8" stroke-opacity="0.65"/>
<path d="M828 500h0M753 505h0M758 492h0M757 492h0M798 510h0M789 512h0M766 488h0M786 503h0M804 510h0M766 501h0M869 525h0M840 514h0M748 508h0M870 514h0M751 504h0M828 521h0M792 510h0M756 503h0M793 505h0M786 498h0M787 517h0M839 527h0M885 517h0M758 509h0M800 508h0M874 513h0M830 499h0M805 499h0M762 506h0M843 507h0M834 522h0M884 503h0M842 516h0M746 510h0M798 506h0M875 512h0M790 517h0M805 518h0M750 518h0M751 498h0M749 535h0M792 509h0M839 499h0M836 520h0M832 510h0M748 498h0M754 504h0" stroke="#91b0cb" stroke-width="4.2" stroke-opacity="0.65"/>
<path d="M359 509h0M347 490h0M427 509h0M338 483h0M351 482h0M342 484h0M350 473h0M357 510h0M433 485h0M437 500h0M341 499h0M345 483h0M432 499h0M342 499h0M343 512h0M432 502h0M349 510h0M423 470h0M425 473h0M433 469h0M350 487h0" stroke="#91b0cb" stroke-width="4.1" stroke-opacity="0.55"/>
<path d="M271 194h0M391 183h0M427 190h0M236 149h0M381 171h0M117 133h0M419 168h0M306 183h0M311 181h0M267 188h0M307 190h0M393 169h0M63 128h0M220 156h0M420 170h0M61 131h0M146 124h0M422 176h0M145 157h0M120 123h0M350 147h0M340 140h0M278 177h0M344 136h0M270 189h0M223 169h0M229 164h0M266 175h0M81 136h0M271 175h0M231 141h0M110 156h0M261 182h0M116 150h0M117 138h0M264 182h0M155 138h0M104 169h0M340 142h0M156 144h0M262 191h0M153 141h0M311 185h0M72 141h0M275 185h0M224 162h0M225 159h0M220 151h0M116 132h0M70 139h0M150 124h0M146 141h0M271 194h0M279 187h0M357 146h0M61 153h0M299 187h0M421 185h0M303 195h0M146 133h0M339 149h0M303 199h0M436 165h0M317 186h0M316 181h0M268 191h0M277 188h0M315 185h0M391 164h0M421 186h0M434 172h0M264 176h0M222 141h0M62 133h0M71 152h0M345 134h0M427 201h0M419 205h0M345 144h0M72 163h0M142 147h0M314 180h0M153 139h0M153 143h0M262 194h0M308 183h0M145 142h0M153 125h0M267 200h0M379 165h0M304 190h0M72 146h0M378 174h0M344 157h0M428 173h0M101 134h0M235 175h0M390 169h0M315 195h0" stroke="#91b0cb" stroke-width="4.4" stroke-opacity="0.9"/>
<path d="M180 505h0M266 494h0M76 545h0M116 551h0M199 487h0M110 547h0M68 552h0M220 518h0M116 547h0M224 537h0M144 546h0M221 548h0M235 545h0M220 541h0M191 490h0M152 563h0M233 556h0M270 504h0M235 578h0M153 536h0M228 538h0M120 556h0M109 556h0M75 550h0M182 492h0M262 491h0M277 504h0M184 485h0M61 541h0M190 487h0M230 550h0M181 494h0M145 547h0M72 547h0M76 548h0M192 503h0M223 531h0M226 532h0M275 492h0M188 451h0M269 485h0M180 495h0M156 557h0M180 487h0M107 551h0M144 564h0M118 563h0M70 547h0M186 473h0M280 496h0M148 560h0M61 559h0M274 493h0M189 500h0M259 488h0M228 550h0M261 492h0M107 544h0M111 572h0M101 553h0M266 504h0M143 560h0M141 556h0M119 556h0M190 486h0M186 495h0M107 559h0M279 513h0M199 492h0M181 501h0M160 536h0M105 527h0M104 551h0M111 557h0M229 529h0M265 487h0M154 530h0M194 506h0M272 492h0M229 532h0M72 528h0M64 545h0M66 546h0M195 510h0M117 562h0M159 546h0M233 540h0M101 556h0M265 503h0M157 564h0M186 507h0M157 578h0" stroke="#91b0cb" stroke-width="4.1" stroke-opacity="0.7"/>
<path d="M526 130h0M527 115h0M514 135h0M510 125h0M519 116h0M518 70h0M521 126h0M519 131h0M508 135h0M510 104h0M516 123h0M523 122h0M517 113h0M521 104h0M508 115h0M515 129h0M510 128h0" stroke="#91b0cb" stroke-width="3.8" stroke-opacity="0.7"/>
<path d="M641 556h0M519 556h0M562 554h0M720 574h0M520 556h0M604 571h0M643 553h0M510 550h0M712 549h0M628 548h0M567 571h0M710 554h0M588 557h0M554 546h0M636 558h0M598 560h0M643 568h0M507 560h0M554 570h0M642 563h0M636 559h0M557 543h0M523 555h0M594 562h0M709 545h0M521 560h0M562 568h0M604 573h0M566 560h0M641 565h0M513 549h0M719 558h0M631 563h0M523 541h0M520 544h0M718 552h0M645 548h0M716 537h0M518 538h0M527 544h0M567 565h0M647 557h0M512 545h0M511 547h0M642 577h0M512 546h0M512 563h0M565 557h0M641 585h0M712 556h0M593 570h0" stroke="#91b0cb" stroke-width="4.2" stroke-opacity="0.78"/>
<path d="M790 127h0M873 174h0M804 93h0M786 114h0M880 145h0M765 146h0M792 109h0M795 119h0M748 82h0M765 102h0M870 160h0M800 93h0M750 73h0M751 97h0M789 84h0M793 117h0M879 169h0" stroke="#91b0cb" stroke-width="3.8" stroke-opacity="0.55"/>
<path d="M551 76h0M636 113h0M557 132h0M626 119h0M605 114h0M642 141h0M630 120h0M551 107h0M594 100h0" stroke="#91b0cb" stroke-width="3.8" stroke-opacity="0.6"/>
<path d="M394 553h0" stroke="#91b0cb" stroke-width="4.1" stroke-opacity="0.5"/>
<path d="M553 557h0M524 559h0M630 562h0M596 544h0M716 544h0M553 551h0M595 563h0M645 558h0M607 567h0M712 550h0M635 560h0M520 556h0M634 548h0M636 564h0M708 540h0M640 562h0M564 539h0M716 555h0M518 563h0M510 575h0M525 546h0M525 559h0M645 559h0M631 566h0M638 540h0M564 571h0M512 542h0M522 560h0M509 544h0M524 544h0M593 557h0M558 568h0M564 576h0M726 550h0M725 560h0M597 555h0M588 562h0M725 547h0M716 552h0M510 571h0M516 567h0M712 550h0M553 541h0M556 545h0M524 529h0M595 549h0M606 563h0M717 558h0M556 562h0M510 551h0M517 566h0M596 559h0M638 567h0M564 582h0M519 541h0M718 550h0M555 560h0M595 548h0M636 567h0M560 551h0M548 566h0M631 563h0M599 564h0M561 554h0M712 563h0M721 559h0M508 557h0M565 571h0M568 547h0M595 560h0M551 563h0M563 558h0M593 550h0M722 566h0M723 546h0M643 565h0" stroke="#91b0cb" stroke-width="4.2" stroke-opacity="0.78"/>
<path d="M70 163h0M433 185h0M240 160h0M430 185h0M116 140h0M142 140h0M269 172h0M237 143h0M426 183h0M223 144h0M68 139h0M399 170h0M150 144h0M357 142h0M115 147h0M393 188h0M101 143h0M240 149h0M152 134h0M151 142h0M313 174h0M240 161h0M65 125h0M397 171h0M223 154h0M227 147h0M150 143h0M429 172h0M358 133h0M274 177h0M146 153h0M277 175h0M263 185h0M433 185h0M353 138h0M395 174h0M64 137h0M227 145h0M426 171h0M66 161h0M78 145h0M236 150h0M420 183h0M418 183h0M150 137h0M304 189h0M219 154h0M421 181h0M353 150h0M354 135h0M342 144h0M67 136h0M233 162h0M387 169h0M114 152h0M104 145h0M390 166h0M353 142h0M111 133h0M311 186h0M274 197h0M352 136h0M301 176h0M160 117h0M272 185h0M313 206h0M106 130h0M239 152h0M384 164h0M230 164h0M157 141h0M429 180h0M425 194h0M237 159h0M260 175h0M396 173h0M266 173h0M103 137h0M268 197h0M345 149h0M350 153h0M356 146h0M231 152h0M436 183h0M340 143h0M76 123h0" stroke="#91b0cb" stroke-width="4.4" stroke-opacity="0.9"/>
<path d="M833 508h0M828 508h0M873 516h0M832 519h0M750 488h0M882 512h0M842 517h0M747 522h0M755 506h0M868 510h0M805 514h0M802 499h0M837 506h0M874 512h0M835 533h0M828 502h0M828 512h0M757 520h0M758 501h0M800 502h0M868 512h0M879 505h0M795 519h0M844 514h0M871 515h0M872 523h0M760 505h0M765 507h0M786 512h0M841 508h0M749 489h0M866 513h0M794 526h0M804 507h0M756 491h0M789 510h0M835 519h0M785 512h0M869 509h0M879 522h0M884 519h0M874 515h0M792 493h0M875 525h0" stroke="#91b0cb" stroke-width="4.2" stroke-opacity="0.65"/>
<path d="M67 542h0M143 557h0M192 497h0M114 543h0M118 538h0M238 524h0M81 565h0M155 542h0M71 554h0M105 538h0M161 544h0M222 539h0M196 497h0M192 487h0M226 527h0M68 565h0M120 552h0M118 550h0M118 552h0M266 511h0M69 554h0M104 563h0M118 553h0M200 500h0M145 530h0M139 527h0M147 587h0M182 494h0M219 533h0M235 549h0M268 515h0M198 479h0M200 497h0M187 494h0M100 556h0M119 544h0M68 549h0M240 530h0M191 490h0M182 495h0M70 541h0M269 509h0M146 556h0M75 543h0M108 551h0M231 544h0M149 537h0M120 557h0M68 544h0M224 540h0M68 561h0M194 509h0M115 555h0M104 534h0M181 504h0M63 551h0M75 531h0M266 493h0M235 555h0M159 565h0M156 542h0M261 495h0M63 569h0M277 504h0M229 536h0M189 495h0" stroke="#91b0cb" stroke-width="4.1" stroke-opacity="0.7"/>
<path d="M518 116h0M511 130h0M512 129h0M509 113h0M527 102h0M524 119h0M508 111h0M515 115h0M524 102h0M520 102h0M518 108h0" stroke="#91b0cb" stroke-width="3.8" stroke-opacity="0.7"/>
<path d="M682 174h0M684 167h0M721 166h0M682 177h0M666 147h0M714 146h0M683 150h0M681 168h0M674 167h0M680 172h0M679 156h0M672 170h0M715 135h0M712 169h0M708 145h0M676 162h0M682 136h0M723 149h0M706 147h0M680 173h0" stroke="#91b0cb" stroke-width="3.8" stroke-opacity="0.65"/>
<path d="M387 563h0M380 547h0" stroke="#91b0cb" stroke-width="4.1" stroke-opacity="0.5"/>
<path d="M353 487h0M429 495h0M424 492h0M346 480h0M346 511h0M428 490h0M426 485h0M344 491h0M432 506h0M418 498h0M432 478h0M419 496h0M357 480h0M347 488h0M431 496h0" stroke="#91b0cb" stroke-width="4.1" stroke-opacity="0.55"/>
<path d="M749 106h0M804 106h0M752 64h0M760 112h0M755 98h0M753 122h0M751 94h0M752 118h0M879 188h0M764 78h0M752 102h0M747 90h0M791 119h0M758 85h0M752 37h0M876 162h0M866 167h0M870 151h0M759 138h0" stroke="#91b0cb" stroke-width="3.8" stroke-opacity="0.55"/>
<path d="M646 122h0M567 98h0M559 133h0M596 121h0M567 100h0M558 115h0M599 120h0M641 104h0M591 116h0" stroke="#91b0cb" stroke-width="3.8" stroke-opacity="0.6"/>
<path d="M80 155h0M270 177h0M393 164h0M388 179h0M308 159h0M236 167h0M231 134h0M148 136h0M349 150h0M399 180h0M433 186h0M113 125h0M348 146h0M74 140h0M420 180h0M61 153h0M351 150h0M357 149h0M304 187h0M421 178h0M102 140h0M312 185h0M106 142h0M115 146h0M101 141h0M111 149h0M432 177h0M264 200h0M146 139h0M266 194h0M70 136h0M154 132h0M240 138h0M341 137h0M238 166h0M308 176h0M157 135h0M68 154h0M117 134h0M433 167h0M340 136h0M105 145h0M229 149h0M310 189h0M80 132h0M436 189h0M399 173h0M300 180h0M276 183h0M152 138h0M300 159h0M239 152h0M154 151h0M437 182h0M395 164h0M228 148h0M74 121h0M81 141h0M394 170h0M73 152h0M77 133h0M436 187h0M109 144h0M382 175h0M120 130h0M232 143h0M102 157h0M238 154h0M358 147h0M108 139h0M237 154h0M102 131h0M116 154h0M78 160h0M76 148h0M155 138h0M220 160h0M111 129h0M111 148h0M349 130h0M439 186h0M396 172h0M221 140h0M379 168h0M155 134h0M117 109h0M387 177h0M433 177h0M358 150h0M230 148h0M158 136h0M117 147h0M69 136h0M390 171h0M314 184h0M76 132h0M150 154h0M424 187h0M353 138h0M160 153h0M397 173h0M269 174h0M380 177h0M343 168h0" stroke="#91b0cb" stroke-width="4.4" stroke-opacity="0.9"/>
<path d="M749 512h0M758 504h0M867 505h0M786 507h0M755 506h0M882 506h0M802 501h0M832 506h0M881 509h0M805 501h0M834 510h0M802 509h0M761 514h0M752 509h0M760 499h0M830 500h0M843 521h0M877 504h0M829 501h0M873 513h0M797 518h0M754 490h0M877 508h0M825 517h0M884 512h0M843 506h0M876 504h0M792 520h0M755 504h0M754 499h0M874 502h0M835 505h0M838 489h0M871 516h0M885 509h0M867 513h0M746 516h0M867 505h0M746 478h0M792 527h0M766 513h0M798 504h0M842 516h0M785 506h0M748 495h0M830 515h0M827 521h0M789 514h0" stroke="#91b0cb" stroke-width="4.2" stroke-opacity="0.65"/>
<path d="M65 551h0M186 499h0M230 524h0M149 586h0M159 564h0M63 557h0M188 498h0M100 556h0M279 500h0M104 543h0M259 492h0M234 521h0M227 549h0M81 533h0M266 485h0M276 492h0M106 551h0M157 551h0M72 552h0M78 547h0M118 564h0M66 544h0M105 549h0M66 563h0M68 558h0M73 558h0M234 537h0M150 565h0M197 481h0M147 589h0M191 493h0M69 553h0M275 490h0M226 543h0M267 497h0M225 555h0M192 482h0M184 493h0M264 471h0M80 566h0M140 544h0M221 548h0M273 496h0M150 534h0M71 565h0M267 494h0M200 486h0M230 566h0M181 502h0M227 538h0M80 538h0M181 490h0M145 550h0M78 548h0M157 565h0M150 536h0M140 563h0M142 530h0M234 547h0M279 489h0M269 489h0M188 494h0M149 541h0M155 564h0M105 546h0M269 503h0M275 495h0M110 549h0M233 532h0M159 547h0M230 546h0M259 497h0M229 552h0M190 486h0M197 493h0M105 544h0" stroke="#91b0cb" stroke-width="4.1" stroke-opacity="0.7"/>
<path d="M750 124h0M805 107h0M791 85h0M879 193h0M763 122h0M753 73h0M760 91h0M875 165h0M759 119h0M796 110h0M751 63h0M751 101h0M871 193h0M873 203h0M802 94h0M868 177h0M874 201h0M875 179h0M759 64h0M751 90h0" stroke="#91b0cb" stroke-width="3.8" stroke-opacity="0.55"/>
<path d="M524 125h0M515 136h0M509 112h0M510 109h0M508 118h0M516 120h0M516 106h0M516 103h0M517 79h0M520 130h0M508 124h0M510 117h0" stroke="#91b0cb" stroke-width="3.8" stroke-opacity="0.7"/>
<path d="M706 142h0M672 152h0M684 184h0M707 163h0M719 164h0M708 187h0M680 163h0M671 175h0M683 184h0M676 162h0M685 174h0M683 183h0M710 159h0M718 145h0M716 159h0M679 153h0M667 156h0M683 177h0M671 168h0M712 190h0M706 140h0M713 151h0M712 131h0" stroke="#91b0cb" stroke-width="3.8" stroke-opacity="0.65"/>
<path d="M561 573h0M640 590h0M708 552h0M643 555h0M522 575h0M559 557h0M714 557h0M508 543h0M513 573h0M600 558h0M722 542h0M602 543h0M607 550h0M587 570h0M527 576h0M591 553h0M723 562h0M564 538h0M644 546h0M515 565h0M644 564h0M527 569h0M552 570h0M548 583h0M566 551h0M588 560h0M549 563h0M514 556h0M722 547h0M526 552h0M509 556h0M604 553h0M594 566h0M724 560h0M506 574h0M717 544h0M522 575h0M723 556h0M514 559h0M727 554h0M640 577h0M602 575h0M601 562h0M564 561h0M597 557h0M600 562h0M708 543h0M647 561h0M627 557h0M636 572h0M635 564h0M722 550h0M511 557h0M509 558h0M521 570h0M519 558h0M638 565h0M638 580h0M602 573h0M720 559h0M597 562h0M510 577h0M555 547h0M709 553h0M602 541h0M713 549h0M511 552h0" stroke="#91b0cb" stroke-width="4.2" stroke-opacity="0.78"/>
<path d="M341 479h0M350 539h0M427 497h0M418 501h0M344 498h0M345 493h0M345 491h0M436 486h0M424 493h0M359 483h0M423 490h0M356 495h0M346 511h0M428 500h0M349 513h0" stroke="#91b0cb" stroke-width="4.1" stroke-opacity="0.55"/>
<path d="M591 96h0M560 100h0M605 123h0M563 79h0M564 71h0M564 84h0M557 95h0M565 127h0M640 83h0M627 110h0M562 110h0M601 101h0" stroke="#91b0cb" stroke-width="3.8" stroke-opacity="0.6"/>
<path d="M391 530h0" stroke="#91b0cb" stroke-width="4.1" stroke-opacity="0.5"/>
<path d="M148 210h0M102 203h0M347 202h0M387 130h0M267 125h0M317 116h0M155 216h0M107 201h0M103 212h0M380 114h0M351 227h0M299 132h0M102 210h0M114 183h0M111 193h0M259 126h0M146 200h0M263 131h0M318 116h0M358 199h0M102 214h0M273 106h0M143 233h0M311 122h0M108 217h0M108 238h0M352 207h0M310 114h0M351 199h0M101 196h0M221 203h0M238 204h0M310 113h0M392 116h0M65 231h0M222 196h0M106 207h0M264 126h0" stroke="#f5aab2" stroke-width="4.4" stroke-opacity="0.9"/>
<path d="M199 139h0M184 150h0M186 137h0M197 114h0M198 143h0M191 119h0M195 122h0M182 120h0M192 118h0M192 124h0M196 141h0M197 131h0M190 111h0M183 144h0M183 127h0M192 118h0M186 126h0M189 123h0M189 119h0M192 135h0M184 144h0M192 115h0M197 136h0M197 125h0M186 137h0M197 116h0M193 141h0M185 120h0M185 144h0M195 117h0M189 122h0M194 130h0M200 141h0M183 122h0M188 144h0M184 123h0M196 131h0M199 126h0M182 131h0M187 117h0M184 117h0M194 140h0M189 124h0M186 134h0M188 148h0M181 134h0M187 140h0M181 127h0" stroke="#f5aab2" stroke-width="4.4"/>
<path d="M681 47h0M683 106h0M712 93h0M710 71h0M709 71h0" stroke="#f5aab2" stroke-width="3.8" stroke-opacity="0.65"/>
<path d="M676 563h0M518 429h0M597 452h0M679 567h0M672 581h0M679 582h0M684 553h0M685 579h0M675 557h0M523 442h0M675 575h0M592 463h0M667 585h0M711 476h0M667 554h0M522 464h0M636 458h0M519 475h0M679 584h0M683 563h0M710 479h0M680 547h0M604 432h0M527 476h0M552 485h0M674 547h0M684 570h0M523 485h0" stroke="#f5aab2" stroke-width="4.2" stroke-opacity="0.78"/>
<path d="M231 468h0M266 555h0M236 469h0M118 464h0M154 463h0M144 419h0" stroke="#f5aab2" stroke-width="4.1" stroke-opacity="0.7"/>
<path d="M554 212h0M596 215h0M554 193h0M563 184h0M552 237h0M555 234h0" stroke="#f5aab2" stroke-width="3.8" stroke-opacity="0.6"/>
<path d="M875 559h0M878 559h0M797 582h0M839 573h0" stroke="#f5aab2" stroke-width="4.2" stroke-opacity="0.65"/>
<path d="M798 214h0M757 187h0M870 108h0M798 206h0M796 175h0M750 232h0" stroke="#f5aab2" stroke-width="3.8" stroke-opacity="0.55"/>
<path d="M318 538h0M355 571h0M308 518h0M317 542h0" stroke="#f5aab2" stroke-width="4.1" stroke-opacity="0.55"/>
<path d="M518 179h0" stroke="#f5aab2" stroke-width="3.8" stroke-opacity="0.7"/>
<path d="M675 546h0M636 492h0M598 484h0M714 475h0M679 567h0M682 583h0M681 562h0M560 473h0M601 476h0M677 564h0M667 547h0M713 478h0M667 586h0M675 565h0M682 553h0M676 550h0M682 564h0" stroke="#f5aab2" stroke-width="4.2" stroke-opacity="0.78"/>
<path d="M115 217h0M68 229h0M231 193h0M104 219h0M228 198h0M275 101h0M222 195h0M317 114h0M154 198h0M308 128h0M236 214h0M313 115h0M107 229h0M157 208h0M67 202h0M273 122h0M235 229h0M430 121h0M225 211h0M307 116h0M388 107h0M271 128h0M347 199h0M155 232h0M115 208h0M280 126h0M102 216h0M107 271h0M387 125h0M317 125h0M155 223h0M272 100h0M149 228h0M357 204h0M115 230h0M156 208h0M152 211h0M224 189h0M348 226h0M263 124h0M268 133h0M67 219h0" stroke="#f5aab2" stroke-width="4.4" stroke-opacity="0.9"/>
<path d="M112 404h0M184 575h0M270 575h0M182 565h0M274 575h0" stroke="#f5aab2" stroke-width="4.1" stroke-opacity="0.7"/>
<path d="M801 208h0M789 181h0M865 99h0M880 93h0M801 247h0M752 226h0" stroke="#f5aab2" stroke-width="3.8" stroke-opacity="0.55"/>
<path d="M557 155h0M592 179h0M600 255h0M634 190h0M596 184h0M599 177h0M633 192h0M551 196h0M559 193h0M599 244h0" stroke="#f5aab2" stroke-width="3.8" stroke-opacity="0.6"/>
<path d="M799 594h0M751 597h0M789 555h0" stroke="#f5aab2" stroke-width="4.2" stroke-opacity="0.65"/>
<path d="M525 189h0M518 196h0" stroke="#f5aab2" stroke-width="3.8" stroke-opacity="0.7"/>
<path d="M429 555h0M431 601h0M320 560h0M421 550h0" stroke="#f5aab2" stroke-width="4.1" stroke-opacity="0.55"/>
<path d="M711 35h0M717 63h0" stroke="#f5aab2" stroke-width="3.8" stroke-opacity="0.65"/>
<path d="M224 198h0M108 222h0M221 199h0M114 239h0M425 124h0M151 221h0M110 265h0M315 119h0M300 117h0M387 105h0M65 202h0M117 202h0M356 220h0M304 115h0M269 121h0M106 216h0M157 208h0M310 119h0M301 140h0M110 208h0M260 129h0M102 204h0M305 98h0M154 202h0M315 120h0M225 199h0M426 112h0M318 121h0M71 199h0M106 247h0M102 209h0M77 214h0M65 222h0M261 127h0M153 234h0M144 210h0M311 127h0M223 211h0M299 125h0M222 198h0M73 200h0M342 217h0M143 214h0M148 215h0M347 233h0M146 211h0" stroke="#f5aab2" stroke-width="4.4" stroke-opacity="0.9"/>
<path d="M686 548h0M602 472h0M523 445h0M515 457h0M671 563h0M685 549h0M637 462h0M603 421h0M683 570h0M672 562h0M721 481h0M684 566h0M519 436h0M670 547h0M710 493h0M720 440h0M590 469h0M633 494h0" stroke="#f5aab2" stroke-width="4.2" stroke-opacity="0.78"/>
<path d="M226 423h0M156 389h0M192 587h0M181 560h0M146 485h0M70 470h0M235 483h0" stroke="#f5aab2" stroke-width="4.1" stroke-opacity="0.7"/>
<path d="M801 251h0M798 162h0M796 177h0M753 199h0M869 75h0M801 200h0M794 263h0M790 176h0M786 146h0M795 195h0M758 191h0" stroke="#f5aab2" stroke-width="3.8" stroke-opacity="0.55"/>
<path d="M312 551h0M438 529h0M310 538h0M302 540h0M346 546h0M319 524h0M430 558h0M309 519h0" stroke="#f5aab2" stroke-width="4.1" stroke-opacity="0.55"/>
<path d="M639 162h0M645 184h0M550 159h0" stroke="#f5aab2" stroke-width="3.8" stroke-opacity="0.6"/>
<path d="M515 187h0M514 195h0" stroke="#f5aab2" stroke-width="3.8" stroke-opacity="0.7"/>
<path d="M721 55h0M677 115h0M676 75h0M717 91h0M678 48h0" stroke="#f5aab2" stroke-width="3.8" stroke-opacity="0.65"/>
<path d="M391 490h0M381 481h0" stroke="#f5aab2" stroke-width="4.1" stroke-opacity="0.5"/>
<path d="M763 588h0M834 606h0M843 592h0" stroke="#f5aab2" stroke-width="4.2" stroke-opacity="0.65"/>
<path d="M564 559h0M522 581h0M550 582h0M604 619h0M639 561h0M716 567h0M558 564h0M720 551h0M713 551h0M636 558h0M556 561h0M586 563h0M723 571h0M636 574h0M515 554h0M553 573h0M553 570h0M640 577h0M512 569h0M516 582h0M712 562h0M549 568h0M706 557h0M593 577h0M643 566h0M507 564h0M638 573h0M720 552h0M547 562h0M628 579h0M724 567h0M722 559h0M509 561h0M558 559h0M641 594h0M719 558h0M562 568h0M635 565h0" stroke="#81aac7" stroke-width="4.2" stroke-opacity="0.78"/>
<path d="M343 131h0M354 142h0M146 132h0M350 124h0M225 150h0M269 181h0M63 141h0M64 146h0M353 141h0M110 135h0M236 146h0M153 129h0M358 134h0M394 166h0M65 139h0M74 118h0M393 179h0M158 131h0M65 135h0M72 139h0M279 200h0M354 136h0M358 137h0M311 207h0M79 132h0M235 128h0M76 126h0M75 130h0M384 167h0M109 139h0M69 138h0M380 184h0M279 191h0M75 117h0M71 135h0M307 206h0M221 142h0M310 200h0M348 140h0M224 130h0M397 175h0M397 176h0M271 189h0M385 182h0M354 141h0M239 133h0M309 184h0M384 172h0M144 113h0M261 185h0M381 162h0M151 127h0M307 207h0M306 201h0M222 145h0M148 137h0M349 142h0M232 142h0M274 196h0M222 139h0M266 187h0M146 127h0M77 147h0M280 196h0M267 197h0M233 143h0M233 122h0M121 142h0M261 182h0M143 142h0M103 141h0M357 139h0M153 144h0M268 199h0M71 98h0M114 127h0M152 135h0M359 123h0M225 152h0M61 133h0M76 114h0M307 213h0M349 120h0M346 119h0M151 118h0M114 134h0M319 181h0M103 125h0M344 145h0M74 120h0" stroke="#81aac7" stroke-width="4.4" stroke-opacity="0.9"/>
<path d="M115 555h0M258 493h0M73 559h0M280 499h0M150 580h0M183 458h0M149 548h0M184 459h0M277 486h0M152 570h0M120 566h0M110 551h0M153 545h0M183 459h0M258 492h0M228 599h0M270 499h0M65 573h0M262 493h0M185 482h0M270 485h0M266 493h0M275 496h0M267 474h0M196 488h0M144 565h0M63 559h0M121 555h0M106 556h0M235 523h0M229 544h0M271 431h0M157 562h0M79 570h0M269 498h0M261 489h0M233 537h0M106 550h0M236 535h0M265 483h0M63 574h0M188 463h0M100 557h0M115 562h0M231 559h0M278 506h0" stroke="#81aac7" stroke-width="4.1" stroke-opacity="0.7"/>
<path d="M519 88h0M523 104h0M520 100h0M510 108h0M513 104h0M510 107h0M508 115h0M514 102h0M513 113h0M524 104h0M510 121h0M522 101h0" stroke="#81aac7" stroke-width="3.8" stroke-opacity="0.7"/>
<path d="M723 170h0M676 201h0M722 199h0M722 170h0M709 178h0M675 186h0M710 175h0M718 177h0M724 172h0M719 179h0M708 158h0M678 181h0M718 155h0M709 158h0M676 166h0" stroke="#81aac7" stroke-width="3.8" stroke-opacity="0.65"/>
<path d="M553 88h0M605 98h0M597 100h0" stroke="#81aac7" stroke-width="3.8" stroke-opacity="0.6"/>
<path d="M801 513h0M803 508h0M839 488h0M831 505h0M865 508h0M876 501h0M877 509h0M765 499h0M873 505h0M876 507h0M876 496h0M760 498h0M751 485h0M801 506h0M830 509h0M844 502h0M749 505h0M761 490h0M844 496h0M871 502h0M870 505h0M751 498h0M829 500h0M829 497h0M829 492h0M759 459h0M883 506h0M802 492h0M803 489h0M881 503h0M758 499h0M749 485h0M799 501h0M757 504h0M797 512h0M806 505h0" stroke="#81aac7" stroke-width="4.2" stroke-opacity="0.65"/>
<path d="M356 488h0M348 505h0M358 485h0M347 494h0M350 492h0M358 499h0M434 498h0M427 508h0M349 485h0M435 504h0M435 501h0M344 510h0" stroke="#81aac7" stroke-width="4.1" stroke-opacity="0.55"/>
<path d="M380 546h0M392 558h0" stroke="#81aac7" stroke-width="4.1" stroke-opacity="0.5"/>
<path d="M760 98h0M755 99h0M880 191h0M756 87h0M758 83h0M874 189h0M869 157h0M756 97h0M764 84h0M754 75h0M763 115h0M875 201h0" stroke="#81aac7" stroke-width="3.8" stroke-opacity="0.55"/>
<path d="M394 177h0M146 116h0M347 147h0M387 185h0M261 203h0M384 167h0M345 146h0M75 137h0M232 147h0M270 193h0M229 152h0M109 122h0M220 143h0M235 145h0M234 151h0M383 173h0M148 134h0M343 139h0M344 137h0M341 124h0M343 120h0M426 190h0M80 142h0M351 128h0M111 146h0M81 144h0M154 131h0M349 139h0M262 194h0M104 134h0M229 139h0M307 174h0M267 189h0M315 185h0M395 176h0M155 136h0M237 155h0M305 188h0M153 132h0M81 137h0M394 171h0M62 143h0M391 194h0M102 135h0M428 184h0M77 135h0M109 121h0M240 149h0M261 185h0M394 178h0M228 135h0M398 186h0M274 187h0M338 147h0M385 173h0M434 185h0M315 181h0M359 135h0M426 182h0M74 128h0M303 186h0M68 145h0M350 145h0M225 129h0M349 138h0M66 123h0M150 126h0M79 117h0M154 124h0M114 133h0M278 193h0M379 182h0M149 124h0M77 114h0M311 195h0M428 182h0M238 144h0M435 204h0M426 189h0M235 150h0M341 129h0M156 141h0M348 143h0M394 185h0M152 125h0M437 186h0M231 97h0M384 174h0M111 118h0M347 137h0M154 133h0M225 141h0M359 130h0M114 129h0M117 101h0M114 147h0M222 149h0M120 126h0M160 133h0M119 132h0M155 116h0M146 139h0M78 143h0M319 189h0M106 125h0M435 189h0M275 198h0M68 141h0M77 127h0M279 186h0M316 193h0M348 156h0M353 138h0M273 184h0" stroke="#81aac7" stroke-width="4.4" stroke-opacity="0.9"/>
<path d="M600 564h0M721 553h0M724 553h0M712 560h0M706 551h0M639 592h0M552 571h0M564 568h0M718 561h0M638 561h0M507 579h0M602 573h0M594 551h0M556 574h0M551 554h0M562 572h0M634 573h0M707 562h0M647 566h0M557 556h0M636 569h0M527 581h0M591 568h0M523 577h0M710 557h0M600 570h0M629 564h0M549 562h0M712 559h0M591 569h0M628 563h0M509 561h0M512 559h0M552 573h0M595 567h0M560 570h0M508 564h0M562 604h0M528 577h0M600 572h0M550 578h0M525 581h0M727 559h0M724 572h0M563 566h0M587 578h0M597 554h0M513 575h0M598 571h0M719 570h0M567 562h0M554 581h0M724 559h0M519 574h0" stroke="#81aac7" stroke-width="4.2" stroke-opacity="0.78"/>
<path d="M271 477h0M143 544h0M224 538h0M275 500h0M225 545h0M193 407h0M160 564h0M110 570h0M199 485h0M238 526h0M183 485h0M234 539h0M117 554h0M147 559h0M226 546h0M229 545h0M196 464h0M63 550h0M116 580h0M145 547h0M234 545h0M111 560h0M103 562h0M234 547h0M74 540h0M267 490h0M149 535h0M226 524h0M275 508h0M199 487h0M191 501h0M152 577h0M78 557h0M107 555h0M229 541h0M76 538h0M64 550h0M265 433h0M151 552h0M190 482h0M146 576h0M142 550h0M155 575h0M224 534h0M106 572h0M194 463h0M68 575h0M275 500h0M142 544h0M62 565h0M107 559h0M187 461h0" stroke="#81aac7" stroke-width="4.1" stroke-opacity="0.7"/>
<path d="M353 482h0M421 494h0M428 492h0M434 503h0M356 483h0M438 496h0M350 497h0M419 514h0" stroke="#81aac7" stroke-width="4.1" stroke-opacity="0.55"/>
<path d="M799 107h0M757 96h0M764 92h0M747 95h0M877 171h0M758 102h0M749 99h0" stroke="#81aac7" stroke-width="3.8" stroke-opacity="0.55"/>
<path d="M553 99h0M549 92h0M587 108h0" stroke="#81aac7" stroke-width="3.8" stroke-opacity="0.6"/>
<path d="M754 490h0M878 495h0M871 513h0M872 500h0M838 515h0M836 499h0M800 491h0M841 493h0M841 488h0M802 502h0M759 509h0M766 490h0M872 512h0M835 504h0M885 509h0M883 502h0M793 505h0M788 511h0M882 505h0" stroke="#81aac7" stroke-width="4.2" stroke-opacity="0.65"/>
<path d="M517 88h0M523 127h0M522 100h0M511 107h0M517 111h0" stroke="#81aac7" stroke-width="3.8" stroke-opacity="0.7"/>
<path d="M715 150h0M726 156h0M684 163h0M678 182h0M673 157h0M725 178h0M707 164h0M715 177h0M716 185h0M673 168h0M672 171h0M671 179h0" stroke="#81aac7" stroke-width="3.8" stroke-opacity="0.65"/>
<path d="M397 540h0" stroke="#81aac7" stroke-width="4.1" stroke-opacity="0.5"/>
<path d="M263 195h0M271 188h0M433 182h0M279 175h0M109 129h0M306 214h0M272 194h0M316 204h0M78 126h0M116 139h0M315 195h0M220 161h0M102 148h0M304 196h0M423 201h0M142 117h0M349 127h0M394 161h0M220 151h0M62 122h0M304 206h0M220 146h0M419 200h0M112 123h0M73 128h0M351 121h0M308 202h0M437 178h0M146 127h0M304 197h0M300 202h0M106 127h0M271 190h0M271 213h0M279 185h0M265 195h0M152 137h0M319 197h0M388 174h0M388 179h0M103 147h0M343 133h0M344 127h0M276 173h0M429 202h0M275 195h0M264 189h0M318 187h0M262 184h0M428 201h0M230 154h0M339 145h0M350 147h0M277 186h0M259 190h0M434 191h0M155 138h0M224 139h0M346 136h0M116 134h0M229 147h0M68 126h0M106 137h0M308 170h0M342 132h0M309 181h0M262 182h0M227 130h0M279 191h0M143 118h0M63 131h0M395 177h0M115 132h0M263 187h0M381 176h0M69 133h0M269 190h0M394 172h0M348 129h0M112 132h0M149 119h0M233 162h0M270 200h0M318 201h0M353 153h0M426 188h0M236 137h0M107 126h0M62 123h0M220 141h0M304 189h0M432 180h0M106 118h0M429 178h0M274 218h0M310 211h0M309 194h0M73 152h0M306 194h0M398 173h0M307 180h0" stroke="#81aac7" stroke-width="4.4" stroke-opacity="0.9"/>
<path d="M708 565h0M719 563h0M726 561h0M555 584h0M603 566h0M515 572h0M599 566h0M723 555h0M561 572h0M553 578h0M562 570h0M525 577h0M548 559h0M639 573h0M562 559h0M594 585h0M639 582h0M552 565h0M633 603h0M599 562h0M588 583h0M593 571h0M711 564h0M712 570h0M588 567h0M644 560h0M710 566h0M724 567h0M643 569h0M638 561h0M714 564h0M524 578h0M557 590h0M606 581h0M712 561h0M723 564h0M516 573h0M597 575h0M562 556h0M517 572h0M717 555h0M525 539h0M643 567h0M626 553h0M726 554h0M715 553h0M707 560h0M636 556h0M514 569h0M508 578h0" stroke="#81aac7" stroke-width="4.2" stroke-opacity="0.78"/>
<path d="M882 186h0M878 155h0M755 108h0M874 174h0M748 123h0M753 84h0M756 61h0M793 103h0M760 42h0M791 82h0M794 93h0" stroke="#81aac7" stroke-width="3.8" stroke-opacity="0.55"/>
<path d="M115 561h0M117 563h0M72 543h0M144 548h0M264 487h0M262 480h0M183 466h0M76 551h0M146 557h0M103 570h0M259 500h0M180 484h0M120 556h0M140 560h0M156 564h0M226 556h0M264 492h0M269 493h0M157 571h0M182 485h0M225 548h0M80 548h0M222 545h0M194 485h0M107 560h0M199 485h0M270 487h0M276 466h0M232 533h0M65 564h0M157 556h0M274 490h0M274 438h0M194 453h0M140 572h0M186 466h0M71 559h0M196 431h0M108 576h0M141 550h0M73 554h0M226 538h0M143 568h0M108 557h0M235 554h0M197 482h0M220 544h0M236 594h0M226 543h0M186 459h0" stroke="#81aac7" stroke-width="4.1" stroke-opacity="0.7"/>
<path d="M874 498h0M748 480h0M797 485h0M766 499h0M805 503h0M832 513h0M795 495h0M871 502h0M750 489h0M803 497h0M877 496h0M883 512h0M747 491h0M788 502h0M798 494h0M756 485h0M880 506h0M832 502h0M791 495h0M755 494h0M837 502h0M747 498h0M884 504h0M826 510h0M865 502h0M843 503h0M797 485h0M749 483h0M800 499h0M834 511h0M755 509h0" stroke="#81aac7" stroke-width="4.2" stroke-opacity="0.65"/>
<path d="M715 165h0M721 177h0M725 159h0M682 181h0M718 161h0M719 191h0M666 156h0M673 167h0M667 173h0M715 175h0M673 176h0M708 162h0M679 182h0M680 169h0M668 183h0M717 154h0" stroke="#81aac7" stroke-width="3.8" stroke-opacity="0.65"/>
<path d="M341 484h0M424 491h0M346 449h0M343 486h0M340 484h0M420 503h0M355 485h0M345 488h0M432 486h0" stroke="#81aac7" stroke-width="4.1" stroke-opacity="0.55"/>
<path d="M512 116h0M526 110h0M511 112h0M522 101h0M524 104h0M508 101h0M520 97h0" stroke="#81aac7" stroke-width="3.8" stroke-opacity="0.7"/>
<path d="M385 565h0M391 548h0" stroke="#81aac7" stroke-width="4.1" stroke-opacity="0.5"/>
<path d="M636 87h0M632 105h0M554 68h0" stroke="#81aac7" stroke-width="3.8" stroke-opacity="0.6"/>
<path d="M556 396h0M630 464h0M712 474h0M527 477h0M643 444h0M566 481h0M563 453h0M550 472h0" stroke="#f4a0a7" stroke-width="4.2" stroke-opacity="0.78"/>
<path d="M758 210h0" stroke="#f4a0a7" stroke-width="3.8" stroke-opacity="0.55"/>
<path d="M309 117h0M112 220h0M435 126h0M382 117h0M101 205h0M280 131h0M272 118h0M154 210h0M348 227h0M71 215h0M313 111h0M356 198h0M115 222h0M308 119h0M268 123h0M115 216h0M307 95h0M77 226h0M318 113h0" stroke="#f4a0a7" stroke-width="4.4" stroke-opacity="0.9"/>
<path d="M631 188h0M644 139h0M596 186h0M552 258h0" stroke="#f4a0a7" stroke-width="3.8" stroke-opacity="0.6"/>
<path d="M144 413h0M265 586h0M184 571h0M237 497h0M115 481h0M275 578h0M182 576h0" stroke="#f4a0a7" stroke-width="4.1" stroke-opacity="0.7"/>
<path d="M756 581h0" stroke="#f4a0a7" stroke-width="4.2" stroke-opacity="0.65"/>
<path d="M673 58h0" stroke="#f4a0a7" stroke-width="3.8" stroke-opacity="0.65"/>
<path d="M555 461h0M511 466h0M713 429h0M641 446h0M606 474h0M519 480h0M563 479h0M709 459h0M600 468h0" stroke="#f4a0a7" stroke-width="4.2" stroke-opacity="0.78"/>
<path d="M277 126h0M107 228h0M389 115h0M276 129h0M434 143h0M74 217h0M346 209h0M309 109h0M398 115h0M398 113h0M387 115h0" stroke="#f4a0a7" stroke-width="4.4" stroke-opacity="0.9"/>
<path d="M869 567h0M789 571h0M838 594h0M792 569h0M869 585h0M752 580h0" stroke="#f4a0a7" stroke-width="4.2" stroke-opacity="0.65"/>
<path d="M115 418h0M182 573h0M228 493h0M275 574h0M76 390h0M196 563h0M62 477h0M188 585h0" stroke="#f4a0a7" stroke-width="4.1" stroke-opacity="0.7"/>
<path d="M421 528h0M340 558h0M429 550h0M425 555h0M423 564h0M348 562h0M422 539h0" stroke="#f4a0a7" stroke-width="4.1" stroke-opacity="0.55"/>
<path d="M522 244h0M512 185h0" stroke="#f4a0a7" stroke-width="3.8" stroke-opacity="0.7"/>
<path d="M717 80h0M722 53h0" stroke="#f4a0a7" stroke-width="3.8" stroke-opacity="0.65"/>
<path d="M423 131h0M275 129h0M233 218h0M221 205h0M144 219h0M351 211h0M145 219h0M389 121h0M352 222h0M269 118h0M226 198h0" stroke="#f4a0a7" stroke-width="4.4" stroke-opacity="0.9"/>
<path d="M881 72h0M792 212h0" stroke="#f4a0a7" stroke-width="3.8" stroke-opacity="0.55"/>
<path d="M639 186h0M605 185h0" stroke="#f4a0a7" stroke-width="3.8" stroke-opacity="0.6"/>
<path d="M599 440h0M721 463h0M523 479h0M644 470h0M596 470h0" stroke="#f4a0a7" stroke-width="4.2" stroke-opacity="0.78"/>
<path d="M111 398h0M264 567h0M150 485h0M115 463h0M233 495h0M143 466h0M110 481h0M140 481h0" stroke="#f4a0a7" stroke-width="4.1" stroke-opacity="0.7"/>
<path d="M715 34h0M668 97h0" stroke="#f4a0a7" stroke-width="3.8" stroke-opacity="0.65"/>
<path d="M789 576h0M786 579h0M839 570h0M865 563h0" stroke="#f4a0a7" stroke-width="4.2" stroke-opacity="0.65"/>
<path d="M514 167h0M513 197h0" stroke="#f4a0a7" stroke-width="3.8" stroke-opacity="0.7"/>
<path d="M391 496h0" stroke="#f4a0a7" stroke-width="4.1" stroke-opacity="0.5"/>
<path d="M563 584h0M552 586h0M602 574h0M510 569h0M713 569h0M559 570h0M646 555h0M564 594h0M566 573h0M567 581h0M565 583h0M598 604h0M523 574h0M627 559h0M564 578h0M518 594h0M640 582h0M605 561h0M508 563h0M525 570h0M524 567h0M511 560h0M633 563h0M607 574h0M547 569h0M557 567h0M631 581h0M552 593h0M602 570h0" stroke="#74a3c1" stroke-width="4.2" stroke-opacity="0.78"/>
<path d="M112 561h0M78 563h0M152 565h0M64 562h0M196 461h0M81 563h0M144 578h0M181 482h0M270 478h0M109 558h0M229 571h0M191 477h0M119 556h0M196 416h0M194 477h0M109 545h0M269 459h0M77 564h0M102 556h0M146 573h0M268 456h0M221 541h0M67 586h0M276 449h0M101 561h0M62 565h0M272 490h0M272 486h0M224 571h0M115 563h0M65 597h0M226 551h0M266 486h0M67 597h0M110 554h0M187 462h0M153 586h0M159 560h0M268 454h0M279 487h0M115 558h0M107 559h0M116 582h0M144 567h0M115 556h0M188 482h0M78 557h0M68 576h0M112 554h0M67 569h0M150 581h0" stroke="#74a3c1" stroke-width="4.1" stroke-opacity="0.7"/>
<path d="M867 519h0M790 486h0M790 484h0M799 498h0M798 489h0M835 492h0M883 506h0M791 501h0M754 505h0M758 481h0M838 493h0M836 494h0M843 493h0M869 503h0M880 490h0M881 498h0M874 500h0M882 500h0M753 480h0M759 497h0M834 499h0" stroke="#74a3c1" stroke-width="4.2" stroke-opacity="0.65"/>
<path d="M641 78h0M628 94h0M641 74h0M646 100h0M644 103h0M638 134h0M549 90h0M638 86h0M635 96h0M631 130h0M633 74h0M638 115h0M646 114h0M638 119h0M637 80h0" stroke="#74a3c1" stroke-width="3.8" stroke-opacity="0.6"/>
<path d="M69 137h0M345 144h0M113 130h0M120 145h0M267 191h0M421 199h0M392 199h0M116 129h0M155 133h0M260 207h0M144 109h0M426 187h0M434 183h0M433 202h0M80 116h0M351 134h0M233 134h0M235 151h0M428 189h0M384 186h0M345 117h0M65 116h0M317 195h0M144 115h0M315 206h0M381 191h0M259 201h0M68 107h0M426 198h0M358 121h0M77 145h0M430 190h0M68 127h0M396 179h0M240 156h0M149 124h0M106 128h0M273 233h0M309 181h0M432 190h0M74 118h0M339 136h0M318 206h0M315 215h0M77 121h0M358 125h0M319 193h0M385 178h0M108 133h0M387 162h0M280 202h0M261 181h0M64 102h0M432 205h0M349 119h0M357 143h0M302 207h0M233 121h0" stroke="#74a3c1" stroke-width="4.4" stroke-opacity="0.9"/>
<path d="M749 92h0M762 84h0M756 67h0M754 84h0M871 194h0M755 66h0" stroke="#74a3c1" stroke-width="3.8" stroke-opacity="0.55"/>
<path d="M711 177h0M675 190h0M721 165h0M676 199h0M707 185h0M679 180h0M721 178h0M673 179h0M680 180h0M712 190h0" stroke="#74a3c1" stroke-width="3.8" stroke-opacity="0.65"/>
<path d="M520 79h0M527 104h0M520 53h0M513 88h0M510 102h0M515 102h0" stroke="#74a3c1" stroke-width="3.8" stroke-opacity="0.7"/>
<path d="M432 482h0M347 465h0M354 471h0M421 489h0M423 479h0" stroke="#74a3c1" stroke-width="4.1" stroke-opacity="0.55"/>
<path d="M158 126h0M159 125h0M419 195h0M268 203h0M229 134h0M271 199h0M352 118h0M310 203h0M68 142h0M356 121h0M428 194h0M229 139h0M74 127h0M152 112h0M260 191h0M237 141h0M304 193h0M239 138h0M356 124h0M359 130h0M319 207h0M153 137h0M343 133h0M341 147h0M262 210h0M273 197h0M120 138h0M382 184h0M314 220h0M339 133h0M150 128h0M106 139h0M353 129h0M314 200h0M269 188h0M275 195h0M435 199h0M225 123h0M158 120h0M429 189h0M114 125h0M383 175h0M380 188h0M432 197h0M422 193h0M307 208h0M349 125h0M156 118h0M154 112h0M310 200h0M69 113h0M421 190h0M351 130h0M383 177h0M267 205h0M119 137h0M113 123h0M158 133h0M268 189h0M355 135h0M73 136h0M431 206h0M353 130h0M109 94h0M311 188h0M103 119h0M74 108h0M142 130h0M436 185h0M427 194h0M156 125h0M74 110h0M393 181h0M343 123h0" stroke="#74a3c1" stroke-width="4.4" stroke-opacity="0.9"/>
<path d="M631 612h0M552 577h0M641 577h0M605 572h0M628 559h0M644 564h0M722 556h0M556 576h0M597 580h0M644 564h0M555 608h0M566 592h0M602 576h0M711 580h0M712 576h0M523 572h0M554 576h0M525 578h0M515 556h0M565 578h0M639 580h0M602 569h0M523 581h0M512 575h0M600 557h0M642 553h0M595 592h0M593 571h0M715 570h0M515 571h0" stroke="#74a3c1" stroke-width="4.2" stroke-opacity="0.78"/>
<path d="M877 499h0M871 500h0M879 496h0M749 491h0M751 473h0M754 484h0M836 493h0M845 493h0M755 484h0M788 501h0M828 494h0M788 500h0M827 503h0M825 493h0M803 481h0M840 492h0M789 485h0M880 496h0M795 494h0M883 499h0M765 492h0M752 479h0M790 492h0M882 504h0M866 495h0M827 482h0M763 492h0M877 502h0" stroke="#74a3c1" stroke-width="4.2" stroke-opacity="0.65"/>
<path d="M232 548h0M117 563h0M187 492h0M77 557h0M142 541h0M78 569h0M107 557h0M228 550h0M143 551h0M62 566h0M225 623h0M80 556h0M65 566h0M158 552h0M227 544h0M117 561h0M264 476h0M184 482h0M159 572h0M273 447h0M185 489h0M147 559h0M189 458h0M80 558h0M79 572h0M155 549h0M224 543h0M106 576h0M266 473h0M160 550h0M195 484h0M113 555h0M271 467h0M187 477h0" stroke="#74a3c1" stroke-width="4.1" stroke-opacity="0.7"/>
<path d="M627 98h0M645 130h0M648 110h0M627 109h0M641 97h0M630 136h0M644 118h0M626 110h0M646 108h0M637 111h0M565 90h0M628 103h0M595 51h0M646 117h0M631 146h0M626 122h0M642 91h0" stroke="#74a3c1" stroke-width="3.8" stroke-opacity="0.6"/>
<path d="M719 190h0M676 172h0M675 170h0M715 198h0M685 177h0M715 168h0M722 157h0M685 160h0M682 175h0M681 189h0M675 178h0M675 180h0" stroke="#74a3c1" stroke-width="3.8" stroke-opacity="0.65"/>
<path d="M514 121h0M524 120h0M517 112h0M515 107h0M522 108h0M511 112h0M517 115h0M517 99h0M520 113h0" stroke="#74a3c1" stroke-width="3.8" stroke-opacity="0.7"/>
<path d="M764 91h0M881 181h0" stroke="#74a3c1" stroke-width="3.8" stroke-opacity="0.55"/>
<path d="M421 495h0M356 487h0M351 485h0M419 497h0M345 482h0M359 487h0" stroke="#74a3c1" stroke-width="4.1" stroke-opacity="0.55"/>
<path d="M395 559h0" stroke="#74a3c1" stroke-width="4.1" stroke-opacity="0.5"/>
<path d="M77 110h0M148 102h0M392 183h0M146 85h0M316 184h0M65 67h0M343 143h0M263 197h0M71 124h0M116 130h0M109 119h0M61 113h0M107 112h0M66 91h0M221 151h0M238 138h0M343 129h0M357 143h0M263 195h0M72 119h0M109 136h0M348 139h0M232 124h0M118 116h0M315 212h0M345 138h0M259 198h0M313 202h0M280 192h0M353 138h0M382 192h0M110 127h0M392 193h0M145 111h0M117 132h0M72 118h0M420 185h0M391 176h0M146 109h0M69 109h0M225 127h0M160 130h0M140 131h0M238 141h0M304 194h0M383 174h0M301 207h0M157 121h0M80 115h0M314 197h0M392 175h0M261 199h0M347 123h0M426 178h0M430 193h0M300 197h0M156 115h0M305 192h0M148 116h0M69 115h0M341 143h0M68 107h0M389 185h0M158 111h0M390 191h0M303 186h0M150 107h0M222 146h0M424 186h0M153 110h0M348 120h0M427 184h0M110 114h0M150 124h0M235 134h0M77 67h0M303 215h0M227 129h0M343 118h0M112 122h0M113 114h0M235 141h0M222 130h0M68 130h0M390 178h0M397 194h0M65 119h0M427 209h0M384 190h0M423 205h0M390 183h0M274 199h0" stroke="#74a3c1" stroke-width="4.4" stroke-opacity="0.9"/>
<path d="M714 560h0M632 563h0M602 573h0M510 559h0M604 572h0M643 571h0M556 555h0M521 570h0M521 627h0M603 617h0M512 631h0M567 579h0M564 574h0M548 576h0M717 573h0M556 597h0M635 559h0M607 564h0M550 578h0M587 575h0M588 578h0M710 565h0M607 565h0M516 590h0M554 568h0M589 594h0M716 567h0M594 560h0M636 567h0M642 579h0M590 565h0M520 567h0M596 573h0M562 620h0M551 581h0M721 561h0M594 586h0M640 576h0M518 573h0M720 561h0M557 570h0M562 587h0M723 549h0M719 549h0" stroke="#74a3c1" stroke-width="4.2" stroke-opacity="0.78"/>
<path d="M118 571h0M143 580h0M270 469h0M141 569h0M77 552h0M184 479h0M160 560h0M142 573h0M78 575h0M63 568h0M141 559h0M228 620h0M196 478h0M183 470h0M116 581h0M73 578h0M194 497h0M234 556h0M266 440h0M192 462h0M68 566h0M74 577h0M194 477h0M262 478h0M114 557h0M233 615h0M145 574h0M71 559h0M72 551h0M153 582h0M104 558h0M146 586h0M183 473h0M182 457h0M73 570h0M111 559h0M269 479h0M267 477h0M106 577h0M64 564h0M155 555h0M272 429h0M106 561h0" stroke="#74a3c1" stroke-width="4.1" stroke-opacity="0.7"/>
<path d="M801 492h0M786 501h0M872 497h0M868 486h0M844 503h0M881 504h0M879 496h0M830 485h0M802 500h0M831 497h0M793 468h0M762 485h0M886 507h0M878 497h0M755 483h0M826 494h0M748 498h0M766 479h0M763 497h0M842 503h0M750 487h0" stroke="#74a3c1" stroke-width="4.2" stroke-opacity="0.65"/>
<path d="M434 493h0M340 482h0M356 474h0M425 500h0M343 491h0M421 488h0M352 455h0M435 500h0M421 500h0" stroke="#74a3c1" stroke-width="4.1" stroke-opacity="0.55"/>
<path d="M630 81h0M643 107h0M593 102h0M645 190h0M630 77h0M642 95h0M641 133h0M637 125h0M645 92h0M633 109h0M641 126h0M635 99h0M629 136h0M635 84h0M640 105h0M645 112h0M626 116h0M640 95h0M633 89h0" stroke="#74a3c1" stroke-width="3.8" stroke-opacity="0.6"/>
<path d="M752 65h0M871 172h0M759 108h0M748 80h0M757 71h0M803 105h0" stroke="#74a3c1" stroke-width="3.8" stroke-opacity="0.55"/>
<path d="M679 194h0M680 193h0M671 199h0M675 174h0M715 166h0M709 169h0M715 158h0M710 168h0M686 172h0" stroke="#74a3c1" stroke-width="3.8" stroke-opacity="0.65"/>
<path d="M514 111h0M519 118h0M517 81h0" stroke="#74a3c1" stroke-width="3.8" stroke-opacity="0.7"/>
<path d="M381 105h0M423 122h0M275 123h0M149 233h0M148 208h0M308 114h0M149 204h0M301 106h0M389 109h0M109 267h0" stroke="#f3989d" stroke-width="4.4" stroke-opacity="0.9"/>
<path d="M633 458h0M714 442h0M716 460h0M525 486h0M559 438h0M523 477h0M718 478h0" stroke="#f3989d" stroke-width="4.2" stroke-opacity="0.78"/>
<path d="M795 192h0M806 174h0M750 208h0" stroke="#f3989d" stroke-width="3.8" stroke-opacity="0.55"/>
<path d="M758 599h0M750 581h0M801 589h0M874 565h0M762 574h0M750 590h0M873 585h0" stroke="#f3989d" stroke-width="4.2" stroke-opacity="0.65"/>
<path d="M420 540h0M423 563h0" stroke="#f3989d" stroke-width="4.1" stroke-opacity="0.55"/>
<path d="M672 97h0M712 92h0" stroke="#f3989d" stroke-width="3.8" stroke-opacity="0.65"/>
<path d="M630 167h0" stroke="#f3989d" stroke-width="3.8" stroke-opacity="0.6"/>
<path d="M68 432h0" stroke="#f3989d" stroke-width="4.1" stroke-opacity="0.7"/>
<path d="M430 117h0M433 123h0M353 199h0M152 209h0M319 114h0M158 216h0M113 201h0M156 219h0M304 119h0M273 107h0M154 225h0" stroke="#f3989d" stroke-width="4.4" stroke-opacity="0.9"/>
<path d="M189 563h0M69 467h0M109 421h0M67 423h0" stroke="#f3989d" stroke-width="4.1" stroke-opacity="0.7"/>
<path d="M790 601h0M797 604h0M788 589h0M753 595h0M835 592h0" stroke="#f3989d" stroke-width="4.2" stroke-opacity="0.65"/>
<path d="M710 477h0M725 479h0M633 417h0M588 475h0" stroke="#f3989d" stroke-width="4.2" stroke-opacity="0.78"/>
<path d="M712 89h0" stroke="#f3989d" stroke-width="3.8" stroke-opacity="0.65"/>
<path d="M523 185h0M519 211h0" stroke="#f3989d" stroke-width="3.8" stroke-opacity="0.7"/>
<path d="M803 192h0" stroke="#f3989d" stroke-width="3.8" stroke-opacity="0.55"/>
<path d="M346 211h0M342 205h0M149 190h0M433 119h0M389 111h0M70 214h0M151 201h0M106 232h0M154 198h0M153 211h0" stroke="#f3989d" stroke-width="4.4" stroke-opacity="0.9"/>
<path d="M595 164h0" stroke="#f3989d" stroke-width="3.8" stroke-opacity="0.6"/>
<path d="M645 456h0M522 456h0M598 477h0M522 470h0M635 475h0M559 406h0" stroke="#f3989d" stroke-width="4.2" stroke-opacity="0.78"/>
<path d="M70 465h0M75 479h0M187 583h0M183 563h0M276 571h0M74 379h0M141 474h0" stroke="#f3989d" stroke-width="4.1" stroke-opacity="0.7"/>
<path d="M718 66h0M719 83h0" stroke="#f3989d" stroke-width="3.8" stroke-opacity="0.65"/>
<path d="M789 591h0M874 554h0M840 584h0" stroke="#f3989d" stroke-width="4.2" stroke-opacity="0.65"/>
<path d="M386 498h0" stroke="#f3989d" stroke-width="4.1" stroke-opacity="0.5"/>
<path d="M235 106h0M386 178h0M312 206h0M156 99h0M239 137h0M152 124h0M116 119h0M387 174h0M303 213h0M424 194h0M311 203h0M383 197h0M313 191h0M66 115h0M230 132h0M221 125h0M228 138h0M66 127h0M67 125h0M436 196h0M261 200h0M390 188h0M387 178h0M392 181h0M109 97h0M386 193h0M357 133h0M260 213h0M418 186h0M342 129h0M143 115h0M429 191h0M304 213h0M64 85h0M394 178h0M346 145h0M233 139h0M117 102h0M438 200h0M425 191h0M340 134h0M274 212h0M425 194h0M143 95h0M64 106h0M392 184h0M310 234h0M430 187h0M262 212h0M158 111h0M268 202h0M235 126h0M142 111h0M102 107h0M426 190h0M395 183h0M391 190h0M309 209h0M433 199h0" stroke="#679bbc" stroke-width="4.4" stroke-opacity="0.9"/>
<path d="M764 86h0M750 102h0M876 190h0M798 75h0M789 93h0" stroke="#679bbc" stroke-width="3.8" stroke-opacity="0.55"/>
<path d="M187 443h0M65 561h0M197 486h0M272 474h0M117 564h0M146 567h0M74 566h0M277 486h0M267 470h0M66 561h0M74 578h0M237 556h0M188 480h0M184 444h0" stroke="#679bbc" stroke-width="4.1" stroke-opacity="0.7"/>
<path d="M390 541h0M392 579h0M388 537h0M385 574h0M387 560h0M389 551h0M398 545h0" stroke="#679bbc" stroke-width="4.1" stroke-opacity="0.5"/>
<path d="M837 494h0M762 477h0M867 501h0M882 502h0M754 487h0M804 486h0M793 469h0M754 487h0M867 487h0M882 497h0M746 494h0M757 486h0M793 497h0M837 480h0M868 493h0M792 483h0M831 503h0M801 481h0M748 477h0M827 501h0M745 483h0M875 495h0M756 483h0M838 496h0M763 486h0M803 480h0" stroke="#679bbc" stroke-width="4.2" stroke-opacity="0.65"/>
<path d="M510 602h0M593 575h0M554 595h0M716 579h0M561 566h0M554 581h0M595 592h0M587 578h0M634 597h0M606 579h0M516 632h0M602 591h0M634 595h0M596 619h0M597 563h0M548 586h0M640 570h0M509 598h0M556 578h0M520 593h0" stroke="#679bbc" stroke-width="4.2" stroke-opacity="0.78"/>
<path d="M430 491h0M351 477h0" stroke="#679bbc" stroke-width="4.1" stroke-opacity="0.55"/>
<path d="M670 172h0M720 168h0M709 176h0M709 164h0M723 179h0M677 180h0M709 193h0" stroke="#679bbc" stroke-width="3.8" stroke-opacity="0.65"/>
<path d="M596 76h0M587 97h0" stroke="#679bbc" stroke-width="3.8" stroke-opacity="0.6"/>
<path d="M510 97h0" stroke="#679bbc" stroke-width="3.8" stroke-opacity="0.7"/>
<path d="M193 483h0M117 567h0M62 557h0M62 575h0M77 561h0M110 561h0M76 575h0M187 452h0M274 474h0M271 486h0M142 560h0" stroke="#679bbc" stroke-width="4.1" stroke-opacity="0.7"/>
<path d="M796 491h0M750 476h0M838 493h0M867 491h0M873 495h0M876 483h0M876 479h0M873 483h0M843 495h0M837 480h0M838 498h0M765 489h0M876 486h0M759 501h0M805 493h0M761 497h0" stroke="#679bbc" stroke-width="4.2" stroke-opacity="0.65"/>
<path d="M547 585h0M556 581h0M720 571h0M595 560h0M711 596h0M509 580h0M641 592h0M552 598h0M593 575h0M523 577h0M523 576h0M586 570h0M603 571h0M560 582h0M513 618h0M600 552h0M605 578h0M594 558h0M640 577h0M559 587h0M716 573h0M521 568h0M713 562h0M644 584h0M637 571h0M707 568h0M644 574h0M646 578h0M712 593h0M631 582h0M723 576h0M507 576h0M601 587h0M603 581h0M601 599h0M507 572h0M719 559h0M595 565h0" stroke="#679bbc" stroke-width="4.2" stroke-opacity="0.78"/>
<path d="M718 180h0M681 181h0M684 182h0M680 201h0M709 172h0M670 196h0M676 160h0M720 195h0M721 173h0M681 163h0M721 173h0" stroke="#679bbc" stroke-width="3.8" stroke-opacity="0.65"/>
<path d="M318 208h0M147 118h0M269 210h0M235 122h0M357 117h0M421 212h0M142 131h0M115 97h0M389 192h0M72 118h0M389 182h0M148 76h0M382 183h0M227 136h0M231 136h0M431 192h0M101 113h0M65 91h0M391 191h0M63 108h0M223 127h0M67 71h0M145 118h0M264 204h0M306 227h0M110 100h0M314 205h0M310 210h0M153 110h0M260 209h0M349 124h0M304 202h0M234 132h0M117 113h0M386 182h0M236 123h0M264 194h0M262 206h0M276 200h0M109 104h0M349 129h0M304 210h0M263 200h0M235 125h0M231 133h0M158 104h0M145 105h0" stroke="#679bbc" stroke-width="4.4" stroke-opacity="0.9"/>
<path d="M753 42h0M789 93h0" stroke="#679bbc" stroke-width="3.8" stroke-opacity="0.55"/>
<path d="M381 557h0M381 562h0M386 551h0M386 544h0M387 571h0M399 541h0M388 531h0" stroke="#679bbc" stroke-width="4.1" stroke-opacity="0.5"/>
<path d="M525 104h0M512 103h0" stroke="#679bbc" stroke-width="3.8" stroke-opacity="0.7"/>
<path d="M429 482h0M428 470h0M354 461h0" stroke="#679bbc" stroke-width="4.1" stroke-opacity="0.55"/>
<path d="M884 501h0M870 494h0M787 486h0M804 493h0M872 496h0M870 497h0M872 499h0M880 494h0M842 482h0M843 492h0M749 481h0M759 457h0M752 458h0M787 487h0M881 495h0M765 477h0M788 491h0M747 483h0M790 490h0M801 473h0M831 489h0M877 485h0M764 485h0M869 501h0M789 497h0" stroke="#679bbc" stroke-width="4.2" stroke-opacity="0.65"/>
<path d="M628 577h0M588 576h0M523 595h0M557 622h0M707 567h0M595 578h0M590 600h0M598 620h0M514 578h0M634 577h0M599 590h0M528 571h0M588 582h0M718 588h0M599 572h0M564 576h0M717 563h0M558 583h0M526 571h0M507 574h0M512 631h0M528 572h0M628 569h0M511 581h0M723 582h0M642 584h0M554 572h0M708 576h0M642 612h0M718 597h0M599 574h0M723 572h0M722 567h0M716 582h0" stroke="#679bbc" stroke-width="4.2" stroke-opacity="0.78"/>
<path d="M300 211h0M274 199h0M304 215h0M116 112h0M429 204h0M76 114h0M62 112h0M143 127h0M108 70h0M119 129h0M260 202h0M353 119h0M67 124h0M277 204h0M146 113h0M112 114h0M267 192h0M75 129h0M306 198h0M118 123h0M392 178h0M431 211h0M109 85h0M115 122h0M68 99h0M66 86h0M345 124h0M146 111h0M342 123h0M70 121h0M270 212h0M392 175h0M312 202h0M73 101h0M121 134h0M77 130h0M392 191h0M262 211h0M140 111h0M264 222h0M316 197h0M387 180h0M116 118h0M65 110h0M397 193h0" stroke="#679bbc" stroke-width="4.4" stroke-opacity="0.9"/>
<path d="M514 82h0M511 112h0" stroke="#679bbc" stroke-width="3.8" stroke-opacity="0.7"/>
<path d="M381 542h0M394 560h0M384 561h0M384 571h0M389 565h0M388 562h0M393 552h0" stroke="#679bbc" stroke-width="4.1" stroke-opacity="0.5"/>
<path d="M552 73h0" stroke="#679bbc" stroke-width="3.8" stroke-opacity="0.6"/>
<path d="M753 92h0M873 220h0M758 98h0" stroke="#679bbc" stroke-width="3.8" stroke-opacity="0.55"/>
<path d="M341 484h0M354 478h0" stroke="#679bbc" stroke-width="4.1" stroke-opacity="0.55"/>
<path d="M712 174h0M724 183h0M672 214h0M710 166h0M676 199h0M677 165h0" stroke="#679bbc" stroke-width="3.8" stroke-opacity="0.65"/>
<path d="M104 567h0M197 465h0M114 583h0M274 464h0M120 562h0" stroke="#679bbc" stroke-width="4.1" stroke-opacity="0.7"/>
<path d="M721 444h0M637 462h0M723 479h0M526 465h0M598 456h0M552 471h0M523 451h0" stroke="#f28f92" stroke-width="4.2" stroke-opacity="0.78"/>
<path d="M561 188h0M631 195h0" stroke="#f28f92" stroke-width="3.8" stroke-opacity="0.6"/>
<path d="M226 196h0M71 229h0M277 120h0M390 113h0M300 111h0M351 243h0" stroke="#f28f92" stroke-width="4.4" stroke-opacity="0.9"/>
<path d="M798 580h0M791 568h0" stroke="#f28f92" stroke-width="4.2" stroke-opacity="0.65"/>
<path d="M117 481h0M275 570h0" stroke="#f28f92" stroke-width="4.1" stroke-opacity="0.7"/>
<path d="M759 604h0M759 582h0M757 601h0M843 573h0" stroke="#f28f92" stroke-width="4.2" stroke-opacity="0.65"/>
<path d="M263 116h0M390 108h0M341 222h0M314 126h0M308 112h0M435 115h0M302 110h0" stroke="#f28f92" stroke-width="4.4" stroke-opacity="0.9"/>
<path d="M677 84h0" stroke="#f28f92" stroke-width="3.8" stroke-opacity="0.65"/>
<path d="M106 465h0M196 572h0" stroke="#f28f92" stroke-width="4.1" stroke-opacity="0.7"/>
<path d="M355 550h0" stroke="#f28f92" stroke-width="4.1" stroke-opacity="0.55"/>
<path d="M552 210h0" stroke="#f28f92" stroke-width="3.8" stroke-opacity="0.6"/>
<path d="M603 475h0" stroke="#f28f92" stroke-width="4.2" stroke-opacity="0.78"/>
<path d="M760 257h0" stroke="#f28f92" stroke-width="3.8" stroke-opacity="0.55"/>
<path d="M637 465h0M519 374h0M722 428h0M593 418h0M596 482h0M513 451h0" stroke="#f28f92" stroke-width="4.2" stroke-opacity="0.78"/>
<path d="M111 485h0M107 485h0M188 578h0M77 377h0" stroke="#f28f92" stroke-width="4.1" stroke-opacity="0.7"/>
<path d="M81 209h0M354 207h0M155 222h0M237 209h0M309 117h0M387 118h0M272 117h0M355 226h0M73 216h0M308 103h0M344 215h0M426 118h0M146 210h0M68 208h0" stroke="#f28f92" stroke-width="4.4" stroke-opacity="0.9"/>
<path d="M715 110h0" stroke="#f28f92" stroke-width="3.8" stroke-opacity="0.65"/>
<path d="M754 589h0M840 572h0M797 603h0M759 606h0" stroke="#f28f92" stroke-width="4.2" stroke-opacity="0.65"/>
<path d="M431 201h0M221 138h0M351 116h0M276 207h0M237 142h0M113 122h0M106 112h0M149 94h0M72 116h0M315 233h0M351 123h0M235 125h0M106 116h0M301 218h0M308 202h0M228 123h0M240 127h0M152 112h0M226 108h0M234 126h0M107 103h0M306 205h0M114 111h0M144 127h0M226 129h0M110 110h0M380 186h0M437 203h0M397 196h0M232 127h0M67 92h0M231 134h0M106 118h0M341 117h0M232 70h0M225 126h0" stroke="#5b94b7" stroke-width="4.4" stroke-opacity="0.9"/>
<path d="M836 511h0M875 475h0M871 493h0M825 489h0M794 469h0M791 485h0" stroke="#5b94b7" stroke-width="4.2" stroke-opacity="0.65"/>
<path d="M74 593h0M151 567h0M104 574h0M274 454h0M146 589h0M270 431h0" stroke="#5b94b7" stroke-width="4.1" stroke-opacity="0.7"/>
<path d="M639 579h0M593 596h0M524 586h0M603 578h0M633 595h0M638 590h0M509 577h0M604 582h0M511 600h0M630 578h0" stroke="#5b94b7" stroke-width="4.2" stroke-opacity="0.78"/>
<path d="M680 179h0" stroke="#5b94b7" stroke-width="3.8" stroke-opacity="0.65"/>
<path d="M522 101h0" stroke="#5b94b7" stroke-width="3.8" stroke-opacity="0.7"/>
<path d="M558 80h0" stroke="#5b94b7" stroke-width="3.8" stroke-opacity="0.6"/>
<path d="M274 212h0M68 111h0M235 128h0M227 124h0M71 89h0M62 110h0M347 119h0M353 129h0M389 176h0M303 233h0M276 213h0M142 109h0M147 110h0M259 204h0M64 114h0M272 230h0M301 204h0M240 127h0M154 112h0M225 129h0M75 93h0M113 110h0M120 125h0M261 204h0M356 114h0M315 209h0M233 132h0M339 122h0M79 116h0M68 109h0M263 206h0M233 124h0M102 114h0M343 118h0M420 204h0M270 189h0M157 121h0M113 80h0M433 201h0M258 200h0M239 130h0M119 123h0M436 199h0M266 205h0M146 99h0M141 115h0M343 116h0M230 136h0M66 100h0M353 132h0M260 207h0M152 117h0M224 139h0M226 122h0M227 134h0" stroke="#5b94b7" stroke-width="4.4" stroke-opacity="0.9"/>
<path d="M792 495h0M803 482h0M748 469h0M745 488h0M794 488h0M836 478h0M797 471h0M869 505h0M882 484h0M798 489h0" stroke="#5b94b7" stroke-width="4.2" stroke-opacity="0.65"/>
<path d="M594 100h0M601 100h0" stroke="#5b94b7" stroke-width="3.8" stroke-opacity="0.6"/>
<path d="M679 194h0" stroke="#5b94b7" stroke-width="3.8" stroke-opacity="0.65"/>
<path d="M221 550h0M118 560h0M140 569h0M267 471h0M226 569h0M151 580h0M73 588h0M141 550h0M276 455h0" stroke="#5b94b7" stroke-width="4.1" stroke-opacity="0.7"/>
<path d="M644 622h0M515 579h0M595 544h0M717 567h0M592 601h0M512 611h0M707 574h0M552 583h0M519 577h0M524 595h0M604 616h0M715 589h0" stroke="#5b94b7" stroke-width="4.2" stroke-opacity="0.78"/>
<path d="M509 99h0" stroke="#5b94b7" stroke-width="3.8" stroke-opacity="0.7"/>
<path d="M789 101h0M793 84h0" stroke="#5b94b7" stroke-width="3.8" stroke-opacity="0.55"/>
<path d="M429 473h0M347 488h0" stroke="#5b94b7" stroke-width="4.1" stroke-opacity="0.55"/>
<path d="M269 199h0M63 123h0M237 130h0M354 121h0M307 233h0M275 208h0M80 113h0M263 201h0M224 127h0M314 222h0M351 120h0M140 119h0M264 193h0M120 123h0M226 123h0M270 201h0M314 191h0M109 107h0M111 116h0M263 204h0M224 127h0M318 203h0M345 119h0M352 117h0M156 101h0M70 114h0M229 125h0M260 204h0M118 104h0M305 212h0M223 136h0M383 199h0M68 80h0M353 125h0M108 114h0M278 204h0M104 96h0M143 96h0M70 120h0M237 123h0M107 119h0M278 207h0M69 114h0M266 228h0M274 217h0M77 66h0M75 122h0M350 110h0" stroke="#5b94b7" stroke-width="4.4" stroke-opacity="0.9"/>
<path d="M831 484h0M830 492h0M870 500h0M762 485h0M756 444h0M766 485h0M828 492h0M873 499h0" stroke="#5b94b7" stroke-width="4.2" stroke-opacity="0.65"/>
<path d="M592 598h0M554 593h0M523 618h0M513 600h0M645 583h0M637 580h0M523 581h0M509 594h0M712 580h0M642 589h0M521 588h0M720 597h0M555 576h0M721 571h0M591 577h0" stroke="#5b94b7" stroke-width="4.2" stroke-opacity="0.78"/>
<path d="M274 447h0M78 574h0M184 418h0M185 418h0M190 481h0M262 487h0" stroke="#5b94b7" stroke-width="4.1" stroke-opacity="0.7"/>
<path d="M881 174h0" stroke="#5b94b7" stroke-width="3.8" stroke-opacity="0.55"/>
<path d="M423 483h0M343 488h0" stroke="#5b94b7" stroke-width="4.1" stroke-opacity="0.55"/>
<path d="M722 190h0" stroke="#5b94b7" stroke-width="3.8" stroke-opacity="0.65"/>
<path d="M630 432h0M715 494h0M634 479h0" stroke="#f28788" stroke-width="4.2" stroke-opacity="0.78"/>
<path d="M388 499h0" stroke="#f28788" stroke-width="4.1" stroke-opacity="0.5"/>
<path d="M106 238h0M341 198h0M318 126h0M75 217h0M64 218h0M71 230h0M71 234h0M66 222h0M148 219h0M75 214h0" stroke="#f28788" stroke-width="4.4" stroke-opacity="0.9"/>
<path d="M750 590h0" stroke="#f28788" stroke-width="4.2" stroke-opacity="0.65"/>
<path d="M196 549h0M152 436h0" stroke="#f28788" stroke-width="4.1" stroke-opacity="0.7"/>
<path d="M709 72h0" stroke="#f28788" stroke-width="3.8" stroke-opacity="0.65"/>
<path d="M422 527h0M357 542h0" stroke="#f28788" stroke-width="4.1" stroke-opacity="0.55"/>
<path d="M635 180h0" stroke="#f28788" stroke-width="3.8" stroke-opacity="0.6"/>
<path d="M682 51h0M672 59h0" stroke="#f28788" stroke-width="3.8" stroke-opacity="0.65"/>
<path d="M221 208h0M155 231h0M268 112h0M302 118h0M390 119h0M119 205h0M267 104h0M156 232h0M66 211h0" stroke="#f28788" stroke-width="4.4" stroke-opacity="0.9"/>
<path d="M641 173h0" stroke="#f28788" stroke-width="3.8" stroke-opacity="0.6"/>
<path d="M394 487h0" stroke="#f28788" stroke-width="4.1" stroke-opacity="0.5"/>
<path d="M144 478h0M76 408h0" stroke="#f28788" stroke-width="4.1" stroke-opacity="0.7"/>
<path d="M629 184h0M556 250h0" stroke="#f28788" stroke-width="3.8" stroke-opacity="0.6"/>
<path d="M349 227h0M146 229h0M262 117h0M432 125h0" stroke="#f28788" stroke-width="4.4" stroke-opacity="0.9"/>
<path d="M156 505h0M270 597h0" stroke="#f28788" stroke-width="4.1" stroke-opacity="0.7"/>
<path d="M520 205h0" stroke="#f28788" stroke-width="3.8" stroke-opacity="0.7"/>
<path d="M433 540h0" stroke="#f28788" stroke-width="4.1" stroke-opacity="0.55"/>
<path d="M392 197h0M271 216h0M158 101h0M232 125h0M228 129h0M105 120h0M358 123h0M78 115h0M236 131h0M108 105h0M236 129h0M314 230h0M104 99h0M154 110h0M227 138h0M73 33h0M347 102h0M422 214h0M116 115h0M353 120h0M74 96h0M314 210h0M72 112h0M76 72h0M314 217h0M275 219h0M319 210h0M107 98h0M76 100h0M115 84h0M120 136h0" stroke="#4f8db1" stroke-width="4.4" stroke-opacity="0.9"/>
<path d="M794 108h0" stroke="#4f8db1" stroke-width="3.8" stroke-opacity="0.55"/>
<path d="M525 103h0" stroke="#4f8db1" stroke-width="3.8" stroke-opacity="0.7"/>
<path d="M711 178h0M725 174h0M709 179h0M708 179h0" stroke="#4f8db1" stroke-width="3.8" stroke-opacity="0.65"/>
<path d="M750 478h0M801 471h0M837 487h0M791 484h0M868 501h0" stroke="#4f8db1" stroke-width="4.2" stroke-opacity="0.65"/>
<path d="M275 470h0M156 585h0M229 561h0M112 567h0" stroke="#4f8db1" stroke-width="4.1" stroke-opacity="0.7"/>
<path d="M152 97h0M385 187h0M302 220h0M232 119h0M117 105h0M344 121h0M68 115h0M229 123h0M303 208h0M227 94h0M104 118h0M230 120h0M223 122h0M68 84h0M267 206h0M225 108h0M272 225h0M276 211h0M147 99h0M156 96h0M276 199h0" stroke="#4f8db1" stroke-width="4.4" stroke-opacity="0.9"/>
<path d="M869 492h0M843 482h0M845 494h0" stroke="#4f8db1" stroke-width="4.2" stroke-opacity="0.65"/>
<path d="M590 575h0M511 596h0M642 581h0M607 564h0M643 579h0M595 600h0" stroke="#4f8db1" stroke-width="4.2" stroke-opacity="0.78"/>
<path d="M194 462h0M68 590h0M73 574h0M145 566h0M78 567h0M75 568h0M184 466h0M104 564h0M270 490h0M184 416h0M237 546h0M274 468h0" stroke="#4f8db1" stroke-width="4.1" stroke-opacity="0.7"/>
<path d="M525 110h0M513 56h0" stroke="#4f8db1" stroke-width="3.8" stroke-opacity="0.7"/>
<path d="M872 207h0" stroke="#4f8db1" stroke-width="3.8" stroke-opacity="0.55"/>
<path d="M721 187h0" stroke="#4f8db1" stroke-width="3.8" stroke-opacity="0.65"/>
<path d="M355 119h0M103 101h0M72 92h0M157 95h0M316 217h0M277 218h0M308 215h0M107 105h0M273 208h0M151 98h0M145 93h0M148 117h0M349 119h0M354 127h0M151 82h0M223 124h0M223 122h0M67 114h0M239 121h0M265 207h0M260 208h0M356 104h0" stroke="#4f8db1" stroke-width="4.4" stroke-opacity="0.9"/>
<path d="M632 588h0M560 604h0M599 611h0M634 576h0M550 586h0M636 594h0M547 584h0M606 578h0M557 581h0" stroke="#4f8db1" stroke-width="4.2" stroke-opacity="0.78"/>
<path d="M511 84h0" stroke="#4f8db1" stroke-width="3.8" stroke-opacity="0.7"/>
<path d="M682 181h0M675 206h0" stroke="#4f8db1" stroke-width="3.8" stroke-opacity="0.65"/>
<path d="M748 464h0M794 491h0M798 493h0" stroke="#4f8db1" stroke-width="4.2" stroke-opacity="0.65"/>
<path d="M228 566h0M230 550h0M78 572h0M223 565h0M193 458h0M116 568h0" stroke="#4f8db1" stroke-width="4.1" stroke-opacity="0.7"/>
<path d="M552 76h0" stroke="#4f8db1" stroke-width="3.8" stroke-opacity="0.6"/>
<path d="M438 500h0M423 488h0" stroke="#4f8db1" stroke-width="4.1" stroke-opacity="0.55"/>
<path d="M801 79h0" stroke="#4f8db1" stroke-width="3.8" stroke-opacity="0.55"/>
<path d="M386 494h0M392 460h0M394 442h0M389 452h0M384 442h0M396 493h0M381 486h0M381 508h0M391 478h0M394 432h0M382 485h0M382 480h0M384 491h0M384 436h0" stroke="#f17f7d" stroke-width="4.1" stroke-opacity="0.5"/>
<path d="M71 227h0M114 219h0M112 254h0M234 217h0M69 226h0M263 118h0" stroke="#f17f7d" stroke-width="4.4" stroke-opacity="0.9"/>
<path d="M430 569h0" stroke="#f17f7d" stroke-width="4.1" stroke-opacity="0.55"/>
<path d="M710 478h0M517 445h0M597 443h0M558 377h0M712 437h0" stroke="#f17f7d" stroke-width="4.2" stroke-opacity="0.78"/>
<path d="M158 223h0M304 101h0M268 118h0M318 118h0M309 116h0" stroke="#f17f7d" stroke-width="4.4" stroke-opacity="0.9"/>
<path d="M837 583h0M791 577h0M792 612h0" stroke="#f17f7d" stroke-width="4.2" stroke-opacity="0.65"/>
<path d="M714 64h0" stroke="#f17f7d" stroke-width="3.8" stroke-opacity="0.65"/>
<path d="M387 493h0M380 498h0M394 438h0M388 421h0" stroke="#f17f7d" stroke-width="4.1" stroke-opacity="0.5"/>
<path d="M271 567h0" stroke="#f17f7d" stroke-width="4.1" stroke-opacity="0.7"/>
<path d="M552 445h0" stroke="#f17f7d" stroke-width="4.2" stroke-opacity="0.78"/>
<path d="M393 498h0M385 457h0M383 469h0M391 478h0M388 494h0M387 423h0M397 499h0M393 495h0M392 490h0M387 475h0M387 445h0" stroke="#f17f7d" stroke-width="4.1" stroke-opacity="0.5"/>
<path d="M437 536h0" stroke="#f17f7d" stroke-width="4.1" stroke-opacity="0.55"/>
<path d="M350 224h0M274 117h0M67 212h0M144 196h0M114 220h0M152 233h0M343 208h0" stroke="#f17f7d" stroke-width="4.4" stroke-opacity="0.9"/>
<path d="M106 405h0M114 464h0" stroke="#f17f7d" stroke-width="4.1" stroke-opacity="0.7"/>
<path d="M637 212h0" stroke="#f17f7d" stroke-width="3.8" stroke-opacity="0.6"/>
<path d="M344 485h0M349 441h0M343 472h0M433 487h0M426 474h0M432 482h0M352 491h0M347 455h0M348 485h0M358 483h0M430 469h0" stroke="#4985ac" stroke-width="4.1" stroke-opacity="0.55"/>
<path d="M394 197h0M224 125h0M236 126h0M66 91h0M224 116h0M75 112h0M342 103h0M74 91h0" stroke="#4985ac" stroke-width="4.4" stroke-opacity="0.9"/>
<path d="M273 466h0M237 551h0M80 572h0M118 563h0M106 582h0M151 568h0M107 578h0M233 547h0M190 443h0M151 579h0M69 579h0M230 554h0M66 595h0M157 574h0M273 468h0M266 478h0M235 567h0M119 555h0M148 579h0M148 564h0M221 534h0M236 540h0M73 577h0M113 566h0M150 588h0M227 588h0M227 608h0M232 619h0M151 568h0M63 586h0M150 596h0M268 472h0M118 576h0M73 577h0" stroke="#4985ac" stroke-width="4.1" stroke-opacity="0.7"/>
<path d="M519 98h0M523 84h0M518 100h0M511 98h0M518 100h0M516 74h0M515 99h0" stroke="#4985ac" stroke-width="3.8" stroke-opacity="0.7"/>
<path d="M646 571h0M588 595h0M551 582h0" stroke="#4985ac" stroke-width="4.2" stroke-opacity="0.78"/>
<path d="M723 193h0" stroke="#4985ac" stroke-width="3.8" stroke-opacity="0.65"/>
<path d="M764 479h0" stroke="#4985ac" stroke-width="4.2" stroke-opacity="0.65"/>
<path d="M869 194h0" stroke="#4985ac" stroke-width="3.8" stroke-opacity="0.55"/>
<path d="M437 496h0M423 495h0M434 473h0M349 459h0M432 475h0M348 471h0M353 441h0M421 491h0M341 476h0M349 476h0M348 463h0M349 463h0M349 457h0M420 496h0" stroke="#4985ac" stroke-width="4.1" stroke-opacity="0.55"/>
<path d="M747 478h0M798 496h0" stroke="#4985ac" stroke-width="4.2" stroke-opacity="0.65"/>
<path d="M433 210h0M112 102h0M112 113h0M346 103h0M347 120h0M157 100h0M386 185h0M144 78h0" stroke="#4985ac" stroke-width="4.4" stroke-opacity="0.9"/>
<path d="M515 61h0M524 102h0M509 109h0M520 81h0" stroke="#4985ac" stroke-width="3.8" stroke-opacity="0.7"/>
<path d="M229 574h0M71 592h0M189 423h0M192 412h0M230 564h0M270 428h0M234 577h0M70 576h0M142 553h0M69 597h0M229 537h0M193 408h0M70 575h0M185 416h0M74 584h0M111 574h0M273 475h0M73 576h0M71 595h0M107 569h0M226 629h0M191 453h0M117 586h0M79 591h0M66 598h0M195 422h0M155 588h0M226 559h0M228 595h0" stroke="#4985ac" stroke-width="4.1" stroke-opacity="0.7"/>
<path d="M600 593h0M595 616h0M512 589h0M522 578h0M567 580h0M553 581h0M591 595h0" stroke="#4985ac" stroke-width="4.2" stroke-opacity="0.78"/>
<path d="M722 164h0" stroke="#4985ac" stroke-width="3.8" stroke-opacity="0.65"/>
<path d="M351 485h0M423 488h0M426 473h0M429 493h0M434 485h0M353 471h0M351 444h0M356 482h0M431 486h0M353 443h0M427 483h0M351 475h0M433 480h0M435 482h0M353 460h0" stroke="#4985ac" stroke-width="4.1" stroke-opacity="0.55"/>
<path d="M877 491h0M765 477h0M758 483h0M839 473h0M870 485h0M879 475h0" stroke="#4985ac" stroke-width="4.2" stroke-opacity="0.65"/>
<path d="M565 575h0M553 612h0M564 615h0M634 585h0M643 599h0M717 583h0M714 596h0M598 612h0" stroke="#4985ac" stroke-width="4.2" stroke-opacity="0.78"/>
<path d="M104 578h0M187 410h0M234 556h0M115 580h0M277 469h0M79 578h0M233 558h0M103 558h0M187 447h0M81 569h0M150 554h0M269 447h0M266 477h0M63 558h0M264 464h0M228 562h0M77 571h0M120 561h0M226 553h0M141 569h0M270 473h0M69 591h0M152 567h0M188 401h0M114 581h0M64 574h0M153 579h0M148 572h0M102 573h0M188 459h0M265 452h0M221 552h0M186 433h0M157 561h0M274 437h0M191 405h0M230 559h0" stroke="#4985ac" stroke-width="4.1" stroke-opacity="0.7"/>
<path d="M266 216h0M382 196h0M312 228h0M68 105h0M424 205h0M422 188h0M262 222h0" stroke="#4985ac" stroke-width="4.4" stroke-opacity="0.9"/>
<path d="M522 72h0M513 90h0M518 76h0M511 98h0M519 74h0M521 102h0M522 105h0" stroke="#4985ac" stroke-width="3.8" stroke-opacity="0.7"/>
<path d="M684 187h0M684 173h0M716 184h0M675 194h0" stroke="#4985ac" stroke-width="3.8" stroke-opacity="0.65"/>
<path d="M880 200h0" stroke="#4985ac" stroke-width="3.8" stroke-opacity="0.55"/>
<path d="M115 395h0" stroke="#f07673" stroke-width="4.1" stroke-opacity="0.7"/>
<path d="M553 476h0M559 473h0M718 447h0" stroke="#f07673" stroke-width="4.2" stroke-opacity="0.78"/>
<path d="M763 571h0" stroke="#f07673" stroke-width="4.2" stroke-opacity="0.65"/>
<path d="M315 118h0M155 231h0M420 122h0" stroke="#f07673" stroke-width="4.4" stroke-opacity="0.9"/>
<path d="M356 211h0M110 268h0M223 203h0M143 210h0" stroke="#f07673" stroke-width="4.4" stroke-opacity="0.9"/>
<path d="M638 185h0" stroke="#f07673" stroke-width="3.8" stroke-opacity="0.6"/>
<path d="M871 592h0" stroke="#f07673" stroke-width="4.2" stroke-opacity="0.65"/>
<path d="M555 428h0" stroke="#f07673" stroke-width="4.2" stroke-opacity="0.78"/>
<path d="M239 489h0" stroke="#f07673" stroke-width="4.1" stroke-opacity="0.7"/>
<path d="M433 588h0" stroke="#f07673" stroke-width="4.1" stroke-opacity="0.55"/>
<path d="M672 54h0M681 85h0" stroke="#f07673" stroke-width="3.8" stroke-opacity="0.65"/>
<path d="M225 465h0M67 427h0" stroke="#f07673" stroke-width="4.1" stroke-opacity="0.7"/>
<path d="M757 608h0M802 583h0" stroke="#f07673" stroke-width="4.2" stroke-opacity="0.65"/>
<path d="M631 219h0" stroke="#f07673" stroke-width="3.8" stroke-opacity="0.6"/>
<path d="M759 203h0" stroke="#f07673" stroke-width="3.8" stroke-opacity="0.55"/>
<path d="M430 203h0M72 57h0M381 181h0M113 105h0M107 112h0M302 239h0M347 115h0M76 64h0" stroke="#457da6" stroke-width="4.4" stroke-opacity="0.9"/>
<path d="M713 216h0M724 174h0M707 173h0M672 185h0M671 200h0M684 178h0M716 207h0M676 217h0M708 190h0M680 179h0M715 186h0M676 201h0" stroke="#457da6" stroke-width="3.8" stroke-opacity="0.65"/>
<path d="M755 85h0M752 67h0" stroke="#457da6" stroke-width="3.8" stroke-opacity="0.55"/>
<path d="M556 620h0M628 584h0" stroke="#457da6" stroke-width="4.2" stroke-opacity="0.78"/>
<path d="M751 459h0" stroke="#457da6" stroke-width="4.2" stroke-opacity="0.65"/>
<path d="M78 110h0M224 124h0M306 233h0M307 223h0M269 214h0M261 219h0M434 193h0" stroke="#457da6" stroke-width="4.4" stroke-opacity="0.9"/>
<path d="M675 208h0M709 195h0M720 189h0M671 196h0M712 175h0M680 213h0M682 199h0M724 177h0M681 201h0M672 202h0M723 192h0M719 193h0M683 191h0M710 176h0M712 193h0" stroke="#457da6" stroke-width="3.8" stroke-opacity="0.65"/>
<path d="M837 485h0M832 488h0" stroke="#457da6" stroke-width="4.2" stroke-opacity="0.65"/>
<path d="M710 596h0M629 593h0M590 611h0" stroke="#457da6" stroke-width="4.2" stroke-opacity="0.78"/>
<path d="M716 174h0M671 187h0M719 186h0M675 202h0M675 211h0M676 201h0M714 202h0M719 197h0M712 202h0M673 187h0M685 172h0" stroke="#457da6" stroke-width="3.8" stroke-opacity="0.65"/>
<path d="M757 479h0M838 473h0" stroke="#457da6" stroke-width="4.2" stroke-opacity="0.65"/>
<path d="M305 221h0M269 229h0M107 69h0M219 125h0" stroke="#457da6" stroke-width="4.4" stroke-opacity="0.9"/>
<path d="M553 605h0M522 611h0M597 565h0M551 613h0M508 582h0M722 565h0" stroke="#457da6" stroke-width="4.2" stroke-opacity="0.78"/>
<path d="M565 464h0" stroke="#ef6f68" stroke-width="4.2" stroke-opacity="0.78"/>
<path d="M672 70h0" stroke="#ef6f68" stroke-width="3.8" stroke-opacity="0.65"/>
<path d="M632 193h0M646 190h0M634 193h0M641 183h0M628 175h0M632 221h0M630 164h0M637 168h0M640 211h0M632 243h0M634 225h0M627 168h0M642 201h0" stroke="#ef6f68" stroke-width="3.8" stroke-opacity="0.6"/>
<path d="M113 415h0M196 570h0" stroke="#ef6f68" stroke-width="4.1" stroke-opacity="0.7"/>
<path d="M867 568h0" stroke="#ef6f68" stroke-width="4.2" stroke-opacity="0.65"/>
<path d="M342 572h0" stroke="#ef6f68" stroke-width="4.1" stroke-opacity="0.55"/>
<path d="M267 131h0M346 221h0" stroke="#ef6f68" stroke-width="4.4" stroke-opacity="0.9"/>
<path d="M794 225h0" stroke="#ef6f68" stroke-width="3.8" stroke-opacity="0.55"/>
<path d="M109 440h0M69 437h0M145 452h0M191 568h0" stroke="#ef6f68" stroke-width="4.1" stroke-opacity="0.7"/>
<path d="M637 240h0M635 182h0M637 188h0M627 188h0M637 183h0M635 165h0M636 161h0M636 182h0M631 188h0M635 193h0M635 170h0M641 173h0" stroke="#ef6f68" stroke-width="3.8" stroke-opacity="0.6"/>
<path d="M346 546h0" stroke="#ef6f68" stroke-width="4.1" stroke-opacity="0.55"/>
<path d="M717 448h0" stroke="#ef6f68" stroke-width="4.2" stroke-opacity="0.78"/>
<path d="M520 258h0" stroke="#ef6f68" stroke-width="3.8" stroke-opacity="0.7"/>
<path d="M869 581h0" stroke="#ef6f68" stroke-width="4.2" stroke-opacity="0.65"/>
<path d="M642 213h0M634 227h0M644 163h0M643 206h0M643 167h0M641 180h0M636 195h0M631 246h0M637 184h0M632 141h0" stroke="#ef6f68" stroke-width="3.8" stroke-opacity="0.6"/>
<path d="M523 204h0" stroke="#ef6f68" stroke-width="3.8" stroke-opacity="0.7"/>
<path d="M346 234h0M350 199h0" stroke="#ef6f68" stroke-width="4.4" stroke-opacity="0.9"/>
<path d="M839 593h0" stroke="#ef6f68" stroke-width="4.2" stroke-opacity="0.65"/>
<path d="M113 387h0M230 482h0" stroke="#ef6f68" stroke-width="4.1" stroke-opacity="0.7"/>
<path d="M357 566h0" stroke="#ef6f68" stroke-width="4.1" stroke-opacity="0.55"/>
<path d="M527 471h0" stroke="#ef6f68" stroke-width="4.2" stroke-opacity="0.78"/>
<path d="M433 202h0M109 72h0M420 205h0M307 230h0M70 76h0M428 213h0M380 192h0M422 203h0M116 111h0M235 124h0M425 212h0M392 189h0M395 194h0M384 195h0M344 119h0M66 70h0M116 76h0M389 184h0M382 194h0M396 192h0M111 114h0M395 198h0M313 214h0M229 120h0M426 196h0M386 193h0" stroke="#4175a1" stroke-width="4.4" stroke-opacity="0.9"/>
<path d="M589 603h0M638 620h0M710 589h0M712 589h0M512 580h0M557 621h0M592 587h0M600 588h0M634 574h0M559 572h0M563 578h0M720 583h0M601 577h0M715 567h0M591 600h0M711 589h0M563 599h0M715 594h0M593 597h0M561 612h0M518 627h0M524 616h0M723 583h0M524 579h0" stroke="#4175a1" stroke-width="4.2" stroke-opacity="0.78"/>
<path d="M792 492h0M757 459h0M751 477h0M761 480h0M837 494h0M748 460h0M836 482h0M755 462h0M841 473h0M757 441h0M787 486h0M872 489h0M872 484h0M759 467h0M879 486h0M751 455h0M876 474h0M789 488h0M760 470h0M832 482h0M827 488h0M790 487h0M749 477h0" stroke="#4175a1" stroke-width="4.2" stroke-opacity="0.65"/>
<path d="M880 482h0M831 493h0M757 477h0M830 484h0M757 446h0M844 486h0M798 480h0M757 458h0M826 491h0M755 456h0M760 476h0M835 482h0M825 489h0M834 480h0M879 472h0M747 477h0M764 478h0M798 469h0M795 485h0M879 476h0M838 481h0M751 479h0" stroke="#4175a1" stroke-width="4.2" stroke-opacity="0.65"/>
<path d="M595 609h0M638 601h0M520 598h0M511 579h0M708 575h0M519 598h0M517 637h0M515 601h0M641 595h0M602 583h0M638 593h0M594 577h0M714 590h0M715 593h0M642 621h0M514 597h0M713 576h0M563 618h0M630 588h0M591 590h0M722 581h0M597 599h0M590 589h0M551 618h0M718 582h0M713 598h0M601 610h0" stroke="#4175a1" stroke-width="4.2" stroke-opacity="0.78"/>
<path d="M431 207h0M384 193h0M116 92h0M397 185h0M386 194h0M424 208h0M108 97h0M383 186h0M152 79h0M316 233h0M433 199h0M386 201h0M111 125h0M429 207h0M427 210h0M421 209h0M231 126h0M72 47h0M67 64h0" stroke="#4175a1" stroke-width="4.4" stroke-opacity="0.9"/>
<path d="M108 85h0M345 116h0M426 200h0M429 209h0M351 114h0M385 190h0M438 204h0M430 204h0M394 200h0M108 117h0M430 202h0M429 192h0M429 212h0M107 119h0M396 202h0M349 108h0M386 186h0M71 88h0M437 206h0M343 97h0M231 122h0M236 106h0M393 189h0" stroke="#4175a1" stroke-width="4.4" stroke-opacity="0.9"/>
<path d="M792 479h0M829 482h0M750 486h0M803 476h0M756 444h0M874 475h0M763 475h0M832 483h0M880 485h0M829 490h0M792 474h0M869 491h0M832 478h0M870 488h0M758 468h0M877 489h0M805 486h0M790 472h0M829 494h0M798 489h0M754 444h0M760 464h0M759 457h0M755 466h0M749 463h0M804 489h0M840 488h0M764 477h0M794 478h0M833 471h0M828 492h0M787 481h0M834 476h0" stroke="#4175a1" stroke-width="4.2" stroke-opacity="0.65"/>
<path d="M635 581h0M636 586h0M516 590h0M549 582h0M589 597h0M516 575h0M714 589h0M560 594h0M637 587h0M564 590h0M520 567h0M641 619h0" stroke="#4175a1" stroke-width="4.2" stroke-opacity="0.78"/>
<path d="M642 452h0M510 464h0" stroke="#ee675e" stroke-width="4.2" stroke-opacity="0.78"/>
<path d="M355 570h0M432 540h0M354 577h0M350 545h0M352 564h0M346 577h0M425 578h0M431 591h0M428 540h0M431 549h0M423 567h0" stroke="#ee675e" stroke-width="4.1" stroke-opacity="0.55"/>
<path d="M269 584h0M229 426h0M220 508h0M231 424h0M232 491h0M185 588h0M236 493h0M268 570h0M277 586h0M272 591h0M234 466h0M229 491h0M225 443h0M229 486h0" stroke="#ee675e" stroke-width="4.1" stroke-opacity="0.7"/>
<path d="M801 599h0" stroke="#ee675e" stroke-width="4.2" stroke-opacity="0.65"/>
<path d="M596 184h0" stroke="#ee675e" stroke-width="3.8" stroke-opacity="0.6"/>
<path d="M351 558h0M341 566h0M354 548h0M351 551h0M347 558h0M353 565h0M432 538h0M427 552h0M354 571h0M433 550h0M426 593h0M342 558h0M345 576h0M355 550h0M424 558h0" stroke="#ee675e" stroke-width="4.1" stroke-opacity="0.55"/>
<path d="M112 253h0M153 203h0" stroke="#ee675e" stroke-width="4.4" stroke-opacity="0.9"/>
<path d="M231 507h0M273 595h0M226 487h0M152 487h0M263 582h0M266 592h0M238 501h0M74 394h0M64 390h0M236 467h0M264 585h0M274 567h0M271 585h0M231 442h0" stroke="#ee675e" stroke-width="4.1" stroke-opacity="0.7"/>
<path d="M832 589h0" stroke="#ee675e" stroke-width="4.2" stroke-opacity="0.65"/>
<path d="M228 469h0M234 450h0M263 584h0M229 502h0M234 482h0M263 563h0M269 581h0M236 479h0M119 475h0M70 455h0M275 597h0" stroke="#ee675e" stroke-width="4.1" stroke-opacity="0.7"/>
<path d="M354 222h0M144 228h0M316 116h0" stroke="#ee675e" stroke-width="4.4" stroke-opacity="0.9"/>
<path d="M354 561h0M424 573h0M349 549h0M355 548h0M434 591h0M424 601h0M429 554h0M344 576h0M353 552h0M347 552h0M427 584h0M340 561h0M352 553h0M425 545h0M423 555h0M353 554h0M345 559h0M431 575h0" stroke="#ee675e" stroke-width="4.1" stroke-opacity="0.55"/>
<path d="M226 126h0M347 117h0M68 83h0M112 119h0" stroke="#3d6d9b" stroke-width="4.4" stroke-opacity="0.9"/>
<path d="M355 117h0M67 54h0M76 79h0M306 225h0M315 231h0M117 103h0" stroke="#3d6d9b" stroke-width="4.4" stroke-opacity="0.9"/>
<path d="M358 117h0M353 118h0" stroke="#3d6d9b" stroke-width="4.4" stroke-opacity="0.9"/>
<path d="M522 188h0M523 204h0M514 226h0M515 277h0M516 200h0M521 208h0" stroke="#ed6053" stroke-width="3.8" stroke-opacity="0.7"/>
<path d="M640 477h0M556 427h0M592 479h0" stroke="#ed6053" stroke-width="4.2" stroke-opacity="0.78"/>
<path d="M113 455h0M186 580h0M196 578h0M115 384h0M154 482h0M104 461h0M150 392h0M109 462h0M184 575h0M116 403h0M195 572h0M155 402h0M184 587h0M155 466h0M193 586h0M70 470h0M111 392h0M114 464h0M144 467h0" stroke="#ed6053" stroke-width="4.1" stroke-opacity="0.7"/>
<path d="M835 592h0" stroke="#ed6053" stroke-width="4.2" stroke-opacity="0.65"/>
<path d="M113 230h0M353 212h0" stroke="#ed6053" stroke-width="4.4" stroke-opacity="0.9"/>
<path d="M110 394h0M186 583h0M73 469h0M158 465h0M195 585h0M73 407h0M197 572h0M141 472h0M148 448h0M188 569h0M149 428h0M184 584h0M115 447h0M75 423h0M111 422h0M152 405h0" stroke="#ed6053" stroke-width="4.1" stroke-opacity="0.7"/>
<path d="M595 428h0M520 451h0M639 477h0M513 449h0M642 450h0" stroke="#ed6053" stroke-width="4.2" stroke-opacity="0.78"/>
<path d="M516 283h0M520 271h0M523 205h0M515 266h0M524 209h0M517 225h0" stroke="#ed6053" stroke-width="3.8" stroke-opacity="0.7"/>
<path d="M69 264h0M389 113h0" stroke="#ed6053" stroke-width="4.4" stroke-opacity="0.9"/>
<path d="M511 457h0M562 463h0M643 412h0" stroke="#ed6053" stroke-width="4.2" stroke-opacity="0.78"/>
<path d="M111 396h0M157 471h0M193 573h0M148 395h0M186 572h0M182 575h0M69 394h0M154 387h0M110 459h0M103 461h0M187 566h0M65 430h0M109 410h0" stroke="#ed6053" stroke-width="4.1" stroke-opacity="0.7"/>
<path d="M510 187h0M513 211h0M516 197h0M521 278h0" stroke="#ed6053" stroke-width="3.8" stroke-opacity="0.7"/>
<path d="M271 110h0" stroke="#ed6053" stroke-width="4.4" stroke-opacity="0.9"/>
<path d="M348 96h0M111 112h0M152 98h0M110 104h0M112 96h0M73 97h0M315 246h0M262 210h0M272 208h0M77 67h0M276 219h0M236 93h0M73 69h0M159 108h0M307 229h0M304 219h0M231 113h0M150 109h0M73 55h0M154 94h0M75 75h0M110 110h0M116 84h0M69 101h0M156 73h0M149 83h0M268 222h0M348 102h0M317 216h0M150 108h0M144 110h0M151 64h0" stroke="#3a6496" stroke-width="4.4" stroke-opacity="0.9"/>
<path d="M107 85h0M309 231h0M305 245h0M111 63h0M146 95h0M306 219h0M314 232h0M265 225h0M154 87h0M156 76h0M115 82h0M143 108h0M349 88h0M349 93h0M74 77h0M264 208h0M107 87h0M226 126h0M235 121h0M152 97h0M145 76h0M147 92h0M64 89h0M304 231h0M349 112h0M76 66h0M261 205h0M76 57h0M114 76h0M70 47h0M68 61h0M75 83h0M71 110h0M233 100h0M68 67h0M223 97h0" stroke="#3a6496" stroke-width="4.4" stroke-opacity="0.9"/>
<path d="M152 71h0M154 96h0M235 120h0M114 64h0M277 220h0M347 98h0M115 95h0M230 102h0M149 67h0M266 222h0M147 86h0M157 109h0M307 227h0M75 107h0M143 88h0M237 121h0M74 95h0M345 102h0M155 84h0M64 70h0M262 217h0M70 111h0M306 231h0M106 70h0M117 103h0M109 83h0" stroke="#3a6496" stroke-width="4.4" stroke-opacity="0.9"/>
<path d="M522 486h0M710 461h0" stroke="#ec5849" stroke-width="4.2" stroke-opacity="0.78"/>
<path d="M683 85h0M721 53h0M712 55h0M722 61h0M675 52h0M714 81h0M680 82h0M677 57h0M713 64h0M676 36h0M721 80h0M715 57h0M712 60h0M715 56h0M712 89h0M671 43h0M723 57h0M712 69h0M678 57h0M677 40h0M673 42h0" stroke="#ec5849" stroke-width="3.8" stroke-opacity="0.65"/>
<path d="M108 237h0M235 215h0" stroke="#ec5849" stroke-width="4.4" stroke-opacity="0.9"/>
<path d="M673 59h0M716 39h0M721 99h0M675 98h0M713 62h0M684 92h0M678 52h0M715 60h0" stroke="#ec5849" stroke-width="3.8" stroke-opacity="0.65"/>
<path d="M303 105h0M429 128h0" stroke="#ec5849" stroke-width="4.4" stroke-opacity="0.9"/>
<path d="M713 55h0M719 95h0M682 40h0M672 65h0M676 99h0M674 57h0M672 51h0M722 82h0M679 57h0M677 68h0M680 74h0M676 84h0" stroke="#ec5849" stroke-width="3.8" stroke-opacity="0.65"/>
<path d="M878 590h0M870 585h0" stroke="#ec5849" stroke-width="4.2" stroke-opacity="0.65"/>
<path d="M390 110h0" stroke="#ec5849" stroke-width="4.4" stroke-opacity="0.9"/>
<path d="M551 197h0" stroke="#ec5849" stroke-width="3.8" stroke-opacity="0.6"/>
<path d="M434 117h0M384 102h0M424 127h0M391 99h0M433 112h0M386 94h0M431 118h0M379 116h0M315 101h0M386 117h0M420 119h0M390 91h0" stroke="#ec5342" stroke-width="4.4" stroke-opacity="0.9"/>
<path d="M881 597h0M835 573h0M802 582h0M762 598h0M870 596h0M762 587h0M790 579h0M838 607h0M878 596h0M802 582h0M869 592h0M790 592h0M879 584h0M833 594h0M754 606h0M804 580h0M757 596h0M790 585h0M793 597h0" stroke="#ec5342" stroke-width="4.2" stroke-opacity="0.65"/>
<path d="M590 446h0M640 477h0M517 490h0M643 461h0M550 381h0M635 443h0M516 431h0M520 454h0M631 433h0M716 444h0M589 435h0M641 467h0M712 461h0M720 472h0M719 462h0M510 458h0M710 449h0M596 459h0M716 422h0" stroke="#ec5342" stroke-width="4.2" stroke-opacity="0.78"/>
<path d="M558 473h0M511 462h0M720 450h0M719 473h0M644 462h0M590 462h0M550 371h0M721 436h0M513 466h0M560 380h0M644 453h0M552 409h0M511 428h0M603 434h0M559 453h0M518 454h0M599 468h0M634 463h0M707 479h0M604 454h0M642 424h0M518 471h0M561 450h0M645 480h0M640 462h0M518 418h0" stroke="#ec5342" stroke-width="4.2" stroke-opacity="0.78"/>
<path d="M752 590h0M842 570h0M793 596h0M790 597h0M761 601h0M869 583h0M828 584h0M787 582h0M874 592h0M869 588h0M750 592h0M872 584h0M798 611h0M881 590h0M750 609h0M828 592h0M793 602h0M802 596h0" stroke="#ec5342" stroke-width="4.2" stroke-opacity="0.65"/>
<path d="M420 128h0M392 105h0M383 104h0M383 107h0M430 120h0M386 102h0M429 112h0M436 121h0M428 104h0M391 91h0M395 118h0M221 207h0" stroke="#ec5342" stroke-width="4.4" stroke-opacity="0.9"/>
<path d="M800 600h0M869 600h0M832 590h0M802 614h0M752 609h0M799 600h0M881 585h0M830 572h0M839 606h0M792 598h0M753 581h0M827 586h0M790 595h0M875 599h0M832 607h0M757 575h0M879 571h0M837 585h0M878 587h0" stroke="#ec5342" stroke-width="4.2" stroke-opacity="0.65"/>
<path d="M433 111h0M396 105h0M390 116h0M422 112h0M434 124h0M395 97h0M349 205h0M391 113h0M427 103h0M435 115h0M395 106h0M151 200h0" stroke="#ec5342" stroke-width="4.4" stroke-opacity="0.9"/>
<path d="M554 379h0M563 399h0M524 396h0M601 456h0M561 406h0M564 461h0M563 470h0M524 382h0M522 418h0M630 457h0M595 433h0M554 371h0M643 434h0M643 457h0M598 471h0M637 461h0M602 451h0M564 401h0M603 436h0M509 465h0M597 430h0M711 480h0M521 438h0M604 466h0M633 441h0M549 374h0M602 444h0M564 374h0M555 381h0M644 466h0M631 473h0M595 419h0" stroke="#ec5342" stroke-width="4.2" stroke-opacity="0.78"/>
<path d="M263 97h0M112 214h0" stroke="#eb4f3d" stroke-width="4.4" stroke-opacity="0.9"/>
<path d="M598 229h0" stroke="#eb4f3d" stroke-width="3.8" stroke-opacity="0.6"/>
<path d="M792 218h0" stroke="#eb4f3d" stroke-width="3.8" stroke-opacity="0.55"/>
<path d="M68 250h0M354 228h0M344 231h0" stroke="#eb4f3d" stroke-width="4.4" stroke-opacity="0.9"/>
<path d="M232 221h0M223 216h0" stroke="#eb4f3d" stroke-width="4.4" stroke-opacity="0.9"/>
<path d="M152 261h0M344 203h0" stroke="#ea4a38" stroke-width="4.4" stroke-opacity="0.9"/>
<path d="M108 209h0" stroke="#ea4634" stroke-width="4.4" stroke-opacity="0.9"/>
<path d="M67 226h0M352 233h0" stroke="#ea4634" stroke-width="4.4" stroke-opacity="0.9"/>
<path d="M345 235h0M70 245h0M265 123h0M225 204h0M63 213h0M73 245h0M349 229h0M267 116h0M155 255h0M312 102h0M275 110h0M106 228h0M353 243h0M352 237h0M70 268h0M111 276h0M264 133h0M147 237h0M72 296h0M153 210h0M275 119h0M271 110h0M107 265h0M235 219h0M148 233h0M76 239h0" stroke="#e9412f" stroke-width="4.4" stroke-opacity="0.9"/>
<path d="M107 280h0M75 207h0M141 210h0M146 231h0M153 235h0M346 244h0M313 93h0M347 229h0M307 108h0M70 257h0M316 108h0M309 103h0M232 240h0M111 239h0M143 222h0M346 244h0M268 101h0M222 201h0M268 118h0M352 208h0M68 300h0M152 229h0M226 209h0M105 242h0M302 106h0M118 222h0" stroke="#e9412f" stroke-width="4.4" stroke-opacity="0.9"/>
<path d="M229 226h0M67 239h0M277 120h0M311 103h0M223 220h0M347 236h0M145 233h0M68 222h0M235 216h0M354 226h0M66 237h0M157 209h0M151 248h0M232 239h0M153 225h0M269 132h0M264 118h0M68 265h0M71 219h0M147 254h0M344 241h0M223 207h0M353 241h0M230 239h0M78 213h0M274 100h0M152 234h0M345 236h0M316 106h0M70 286h0M109 240h0M354 212h0M350 207h0M114 276h0M108 223h0M304 103h0M108 221h0M231 229h0M154 242h0M69 256h0" stroke="#e9412f" stroke-width="4.4" stroke-opacity="0.9"/>
</g></g>
<text x="20.4" y="127.0" text-anchor="end" fill="#4d4d4d" font-size="6.3">-0.2</text><text x="20.4" y="81.5" text-anchor="end" fill="#4d4d4d" font-size="6.3">0.0</text><text x="20.4" y="36.1" text-anchor="end" fill="#4d4d4d" font-size="6.3">0.2</text><text x="35.3" y="163.8" text-anchor="middle" fill="#4d4d4d" font-size="5.5">SBP</text><text x="55.2" y="163.8" text-anchor="middle" fill="#4d4d4d" font-size="5.5">MMP12</text><text x="75.1" y="163.8" text-anchor="middle" fill="#4d4d4d" font-size="5.5">Age</text><text x="94.9" y="163.8" text-anchor="middle" fill="#4d4d4d" font-size="5.5">Sex</text><text x="114.8" y="163.8" text-anchor="middle" fill="#4d4d4d" font-size="5.5">REN</text><text x="134.7" y="163.8" text-anchor="middle" fill="#4d4d4d" font-size="5.5">RAGE</text><text x="154.6" y="163.8" text-anchor="middle" fill="#4d4d4d" font-size="5.5">LEP</text><text x="174.4" y="163.8" text-anchor="middle" fill="#4d4d4d" font-size="5.5">OPG</text><text x="194.3" y="163.8" text-anchor="middle" fill="#4d4d4d" font-size="5.5">CD40L</text><text x="214.2" y="163.8" text-anchor="middle" fill="#4d4d4d" font-size="5.5">FABP4</text><text x="243.7" y="135.2" text-anchor="end" fill="#4d4d4d" font-size="6.3">-0.10</text><text x="243.7" y="104.5" text-anchor="end" fill="#4d4d4d" font-size="6.3">-0.05</text><text x="243.7" y="73.9" text-anchor="end" fill="#4d4d4d" font-size="6.3">0.00</text><text x="243.7" y="43.2" text-anchor="end" fill="#4d4d4d" font-size="6.3">0.05</text><text x="243.7" y="12.6" text-anchor="end" fill="#4d4d4d" font-size="6.3">0.10</text><text x="258.6" y="163.8" text-anchor="middle" fill="#4d4d4d" font-size="5.5">NEMO</text><text x="278.5" y="163.8" text-anchor="middle" fill="#4d4d4d" font-size="5.5">SBP</text><text x="298.4" y="163.8" text-anchor="middle" fill="#4d4d4d" font-size="5.5">MMP12</text><text x="318.2" y="163.8" text-anchor="middle" fill="#4d4d4d" font-size="5.5">Age</text><text x="338.1" y="163.8" text-anchor="middle" fill="#4d4d4d" font-size="5.5">HSP27</text><text x="358.0" y="163.8" text-anchor="middle" fill="#4d4d4d" font-size="5.5">TNFR1</text><text x="377.9" y="163.8" text-anchor="middle" fill="#4d4d4d" font-size="5.5">REN</text><text x="397.7" y="163.8" text-anchor="middle" fill="#4d4d4d" font-size="5.5">OPG</text><text x="417.6" y="163.8" text-anchor="middle" fill="#4d4d4d" font-size="5.5">Sex</text><text x="437.5" y="163.8" text-anchor="middle" fill="#4d4d4d" font-size="5.5">LEP</text><text x="20.4" y="302.4" text-anchor="end" fill="#4d4d4d" font-size="6.3">-0.1</text><text x="20.4" y="257.9" text-anchor="end" fill="#4d4d4d" font-size="6.3">0.0</text><text x="20.4" y="213.4" text-anchor="end" fill="#4d4d4d" font-size="6.3">0.1</text><text x="35.3" y="334.1" text-anchor="middle" fill="#4d4d4d" font-size="5.5">SBP</text><text x="55.2" y="334.1" text-anchor="middle" fill="#4d4d4d" font-size="5.5">Age</text><text x="75.1" y="334.1" text-anchor="middle" fill="#4d4d4d" font-size="5.5">MMP12</text><text x="94.9" y="334.1" text-anchor="middle" fill="#4d4d4d" font-size="5.5">RAGE</text><text x="114.8" y="334.1" text-anchor="middle" fill="#4d4d4d" font-size="5.5">REN</text><text x="134.7" y="334.1" text-anchor="middle" fill="#4d4d4d" font-size="5.5">LEP</text><text x="154.6" y="334.1" text-anchor="middle" fill="#4d4d4d" font-size="5.5">Sex</text><text x="174.4" y="334.1" text-anchor="middle" fill="#4d4d4d" font-size="5.5">FABP4</text><text x="194.3" y="334.1" text-anchor="middle" fill="#4d4d4d" font-size="5.5">OPG</text><text x="214.2" y="334.1" text-anchor="middle" fill="#4d4d4d" font-size="5.5">SIRT2</text><text x="243.7" y="325.2" text-anchor="end" fill="#4d4d4d" font-size="6.3">-0.2</text><text x="243.7" y="297.3" text-anchor="end" fill="#4d4d4d" font-size="6.3">-0.1</text><text x="243.7" y="269.4" text-anchor="end" fill="#4d4d4d" font-size="6.3">0.0</text><text x="243.7" y="241.5" text-anchor="end" fill="#4d4d4d" font-size="6.3">0.1</text><text x="243.7" y="213.6" text-anchor="end" fill="#4d4d4d" font-size="6.3">0.2</text><text x="243.7" y="185.8" text-anchor="end" fill="#4d4d4d" font-size="6.3">0.3</text><text x="258.6" y="334.1" text-anchor="middle" fill="#4d4d4d" font-size="5.5">SBP</text><text x="278.5" y="334.1" text-anchor="middle" fill="#4d4d4d" font-size="5.5">MMP12</text><text x="298.4" y="334.1" text-anchor="middle" fill="#4d4d4d" font-size="5.5">REN</text><text x="318.2" y="334.1" text-anchor="middle" fill="#4d4d4d" font-size="5.5">Age</text><text x="338.1" y="334.1" text-anchor="middle" fill="#4d4d4d" font-size="5.5">Sex</text><text x="358.0" y="334.1" text-anchor="middle" fill="#4d4d4d" font-size="5.5">OPG</text><text x="377.9" y="334.1" text-anchor="middle" fill="#4d4d4d" font-size="5.5">LEP</text><text x="397.7" y="334.1" text-anchor="middle" fill="#4d4d4d" font-size="5.5">SIRT2</text><text x="417.6" y="334.1" text-anchor="middle" fill="#4d4d4d" font-size="5.5">IL6RA</text><text x="437.5" y="334.1" text-anchor="middle" fill="#4d4d4d" font-size="5.5">RAGE</text><text x="124.8" y="5.4" text-anchor="middle" fill="#333" font-size="6.1">Endotype 1</text><text x="348" y="5.4" text-anchor="middle" fill="#333" font-size="6.1">Endotype 2</text><text x="124.8" y="175.4" text-anchor="middle" fill="#333" font-size="6.1">Endotype 3</text><text x="348" y="175.4" text-anchor="middle" fill="#333" font-size="6.1">Endotype 4</text><text x="236.5" y="341.4" text-anchor="middle" fill="#111" stroke="#111" stroke-width="0.12" font-size="7.8">Variable importance ranking (From left to right) across four endotypes</text><text transform="translate(6.2,168.4) rotate(-90)" text-anchor="middle" fill="#111" stroke="#111" stroke-width="0.12" font-size="7.7">SHAP value (Impact on Stacking model prediction)</text>
<defs><linearGradient id="cb" x1="0" y1="1" x2="0" y2="0"><stop offset="0.000" stop-color="#34528a"/><stop offset="0.042" stop-color="#396194"/><stop offset="0.083" stop-color="#3e709d"/><stop offset="0.125" stop-color="#457da6"/><stop offset="0.167" stop-color="#4c8aaf"/><stop offset="0.208" stop-color="#5f97b8"/><stop offset="0.250" stop-color="#74a3c1"/><stop offset="0.292" stop-color="#8caeca"/><stop offset="0.333" stop-color="#a8b7d1"/><stop offset="0.375" stop-color="#c0c2d8"/><stop offset="0.417" stop-color="#d2cee0"/><stop offset="0.458" stop-color="#e1d9e6"/><stop offset="0.500" stop-color="#efe3eb"/><stop offset="0.542" stop-color="#f4d0d8"/><stop offset="0.583" stop-color="#f6bbc3"/><stop offset="0.625" stop-color="#f5aab2"/><stop offset="0.667" stop-color="#f39aa0"/><stop offset="0.708" stop-color="#f28c8f"/><stop offset="0.750" stop-color="#f17f7d"/><stop offset="0.792" stop-color="#f0716c"/><stop offset="0.833" stop-color="#ee655a"/><stop offset="0.875" stop-color="#ec5849"/><stop offset="0.917" stop-color="#eb503f"/><stop offset="0.958" stop-color="#ea4937"/><stop offset="1.000" stop-color="#e9412f"/></linearGradient></defs><rect x="459.5" y="114.3" width="10.9" height="52" fill="url(#cb)"/><text x="472.6" y="116.5" fill="#1a1a1a" font-size="6">4</text><text x="472.6" y="131.7" fill="#1a1a1a" font-size="6">2</text><text x="472.6" y="146.7" fill="#1a1a1a" font-size="6">0</text><text x="472.6" y="161.79999999999998" fill="#1a1a1a" font-size="6">-2</text><text x="460" y="107.8" fill="#111" stroke="#111" stroke-width="0.18" font-size="7.7" textLength="24" lengthAdjust="spacingAndGlyphs">Z score</text><text x="484.6" y="108.2" fill="#111" font-size="5.1" textLength="16.4" lengthAdjust="spacingAndGlyphs">sample</text><text x="460" y="186" fill="#111" stroke="#111" stroke-width="0.18" font-size="7.7" textLength="10.3" lengthAdjust="spacingAndGlyphs">Log</text><text x="471" y="187" fill="#111" font-size="4.6" textLength="6.3" lengthAdjust="spacingAndGlyphs">10</text><text x="479.4" y="186" fill="#111" stroke="#111" stroke-width="0.18" font-size="7.7" textLength="17.2" lengthAdjust="spacingAndGlyphs">SHAP</text><text x="497.2" y="186.8" fill="#111" font-size="5">Endotype</text><circle cx="464.6" cy="197.2" r="0.7" fill="#999"/><text x="473.2" y="199.29999999999998" fill="#1a1a1a" font-size="6">-1.8</text><circle cx="464.6" cy="207.6" r="0.85" fill="#222"/><text x="473.2" y="209.7" fill="#1a1a1a" font-size="6">-1.6</text><circle cx="464.6" cy="218.2" r="0.95" fill="#111"/><text x="473.2" y="220.29999999999998" fill="#1a1a1a" font-size="6">-1.4</text><circle cx="464.6" cy="228.8" r="1.1" fill="#111"/><text x="473.2" y="230.9" fill="#1a1a1a" font-size="6">-1.2</text>
</svg>
</body></html>
